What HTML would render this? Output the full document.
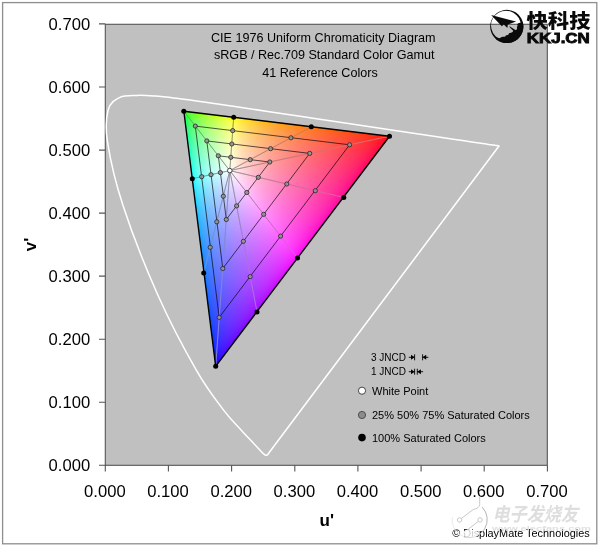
<!DOCTYPE html>
<html><head><meta charset="utf-8"><title>CIE 1976 Uniform Chromaticity Diagram</title>
<style>html,body{margin:0;padding:0;background:#fff}svg{display:block}text{font-family:"Liberation Sans","Noto Sans CJK SC",sans-serif;fill:#000}</style></head><body>
<svg width="600" height="547" viewBox="0 0 600 547">
<rect x="0" y="0" width="600" height="547" fill="#fff"/>
<rect x="2.6" y="2.6" width="594.2" height="541.2" fill="none" stroke="#8e8e8e" stroke-width="1.3"/>
<rect x="105.3" y="24.3" width="442" height="441" fill="#c0c0c0" stroke="#555" stroke-width="1.1"/>
<path d="M99,465.3H105.3M105.3,465.3V471.5M99,402.2H105.3M168.4,465.3V471.5M99,339.2H105.3M231.6,465.3V471.5M99,276.1H105.3M294.8,465.3V471.5M99,213.1H105.3M357.9,465.3V471.5M99,150.1H105.3M421.1,465.3V471.5M99,87.0H105.3M484.2,465.3V471.5M99,23.9H105.3M547.4,465.3V471.5" stroke="#555" stroke-width="1.1" fill="none"/>
<defs><clipPath id="tri"><polygon points="389.52,136.22 183.84,111.24 215.69,366.35"/></clipPath><linearGradient id="g0" gradientUnits="userSpaceOnUse" x1="182.3" y1="0" x2="185.4" y2="0"><stop offset="0.000" stop-color="#00ff00"/><stop offset="1.000" stop-color="#2dff00"/></linearGradient><linearGradient id="g1" gradientUnits="userSpaceOnUse" x1="182.4" y1="0" x2="187.4" y2="0"><stop offset="0.000" stop-color="#00ff0f"/><stop offset="1.000" stop-color="#43ff00"/></linearGradient><linearGradient id="g2" gradientUnits="userSpaceOnUse" x1="182.5" y1="0" x2="195.7" y2="0"><stop offset="0.000" stop-color="#00ff22"/><stop offset="0.333" stop-color="#3cff19"/><stop offset="0.667" stop-color="#60ff0d"/><stop offset="1.000" stop-color="#79ff00"/></linearGradient><linearGradient id="g3" gradientUnits="userSpaceOnUse" x1="182.6" y1="0" x2="203.9" y2="0"><stop offset="0.000" stop-color="#00ff2d"/><stop offset="0.250" stop-color="#46ff27"/><stop offset="0.500" stop-color="#6cff1e"/><stop offset="0.750" stop-color="#87ff11"/><stop offset="1.000" stop-color="#9dff00"/></linearGradient><linearGradient id="g4" gradientUnits="userSpaceOnUse" x1="182.7" y1="0" x2="212.2" y2="0"><stop offset="0.000" stop-color="#00ff37"/><stop offset="0.167" stop-color="#42ff32"/><stop offset="0.333" stop-color="#67ff2c"/><stop offset="0.500" stop-color="#81ff26"/><stop offset="0.667" stop-color="#97ff1d"/><stop offset="0.833" stop-color="#aaff10"/><stop offset="1.000" stop-color="#bbff00"/></linearGradient><linearGradient id="g5" gradientUnits="userSpaceOnUse" x1="182.9" y1="0" x2="220.4" y2="0"><stop offset="0.000" stop-color="#00ff3e"/><stop offset="0.125" stop-color="#40ff3b"/><stop offset="0.250" stop-color="#64ff37"/><stop offset="0.375" stop-color="#7eff32"/><stop offset="0.500" stop-color="#93ff2c"/><stop offset="0.625" stop-color="#a6ff26"/><stop offset="0.750" stop-color="#b7ff1d"/><stop offset="0.875" stop-color="#c7ff10"/><stop offset="1.000" stop-color="#d6ff00"/></linearGradient><linearGradient id="g6" gradientUnits="userSpaceOnUse" x1="183.0" y1="0" x2="228.6" y2="0"><stop offset="0.000" stop-color="#00ff45"/><stop offset="0.111" stop-color="#44ff42"/><stop offset="0.222" stop-color="#69ff3e"/><stop offset="0.333" stop-color="#84ff3a"/><stop offset="0.444" stop-color="#9aff35"/><stop offset="0.556" stop-color="#aeff2f"/><stop offset="0.667" stop-color="#c0ff28"/><stop offset="0.778" stop-color="#d0ff1f"/><stop offset="0.889" stop-color="#e0ff12"/><stop offset="1.000" stop-color="#f0ff00"/></linearGradient><linearGradient id="g7" gradientUnits="userSpaceOnUse" x1="183.1" y1="0" x2="236.9" y2="0"><stop offset="0.000" stop-color="#00ff4c"/><stop offset="0.091" stop-color="#42ff49"/><stop offset="0.182" stop-color="#67ff46"/><stop offset="0.273" stop-color="#82ff42"/><stop offset="0.364" stop-color="#97ff3f"/><stop offset="0.455" stop-color="#abff3a"/><stop offset="0.545" stop-color="#bcff35"/><stop offset="0.636" stop-color="#cdff30"/><stop offset="0.727" stop-color="#dcff29"/><stop offset="0.818" stop-color="#ebff20"/><stop offset="0.909" stop-color="#faff12"/><stop offset="1.000" stop-color="#fff600"/></linearGradient><linearGradient id="g8" gradientUnits="userSpaceOnUse" x1="183.2" y1="0" x2="245.1" y2="0"><stop offset="0.000" stop-color="#00ff51"/><stop offset="0.083" stop-color="#45ff4f"/><stop offset="0.167" stop-color="#6bff4c"/><stop offset="0.250" stop-color="#86ff49"/><stop offset="0.333" stop-color="#9cff45"/><stop offset="0.417" stop-color="#b0ff42"/><stop offset="0.500" stop-color="#c2ff3d"/><stop offset="0.583" stop-color="#d3ff38"/><stop offset="0.667" stop-color="#e3ff32"/><stop offset="0.750" stop-color="#f3ff2b"/><stop offset="0.833" stop-color="#fffc21"/><stop offset="0.917" stop-color="#ffee11"/><stop offset="1.000" stop-color="#ffe100"/></linearGradient><linearGradient id="g9" gradientUnits="userSpaceOnUse" x1="183.4" y1="0" x2="253.3" y2="0"><stop offset="0.000" stop-color="#00ff57"/><stop offset="0.071" stop-color="#43ff54"/><stop offset="0.143" stop-color="#69ff52"/><stop offset="0.214" stop-color="#84ff50"/><stop offset="0.286" stop-color="#9aff4d"/><stop offset="0.357" stop-color="#adff4a"/><stop offset="0.429" stop-color="#bfff46"/><stop offset="0.500" stop-color="#d0ff42"/><stop offset="0.571" stop-color="#e0ff3e"/><stop offset="0.643" stop-color="#efff39"/><stop offset="0.714" stop-color="#feff33"/><stop offset="0.786" stop-color="#fff229"/><stop offset="0.857" stop-color="#ffe51e"/><stop offset="0.929" stop-color="#ffda0f"/><stop offset="1.000" stop-color="#ffcf00"/></linearGradient><linearGradient id="g10" gradientUnits="userSpaceOnUse" x1="183.5" y1="0" x2="261.6" y2="0"><stop offset="0.000" stop-color="#00ff5c"/><stop offset="0.062" stop-color="#42ff5a"/><stop offset="0.125" stop-color="#68ff58"/><stop offset="0.187" stop-color="#82ff56"/><stop offset="0.250" stop-color="#98ff53"/><stop offset="0.313" stop-color="#acff51"/><stop offset="0.375" stop-color="#bdff4e"/><stop offset="0.438" stop-color="#ceff4b"/><stop offset="0.500" stop-color="#deff47"/><stop offset="0.562" stop-color="#edff43"/><stop offset="0.625" stop-color="#fcff3f"/><stop offset="0.688" stop-color="#fff437"/><stop offset="0.750" stop-color="#ffe82e"/><stop offset="0.812" stop-color="#ffdd25"/><stop offset="0.875" stop-color="#ffd21b"/><stop offset="0.937" stop-color="#ffc90d"/><stop offset="1.000" stop-color="#ffc000"/></linearGradient><linearGradient id="g11" gradientUnits="userSpaceOnUse" x1="183.6" y1="0" x2="269.8" y2="0"><stop offset="0.000" stop-color="#00ff60"/><stop offset="0.059" stop-color="#44ff5f"/><stop offset="0.118" stop-color="#6aff5d"/><stop offset="0.176" stop-color="#85ff5b"/><stop offset="0.235" stop-color="#9cff59"/><stop offset="0.294" stop-color="#afff56"/><stop offset="0.353" stop-color="#c2ff54"/><stop offset="0.412" stop-color="#d3ff51"/><stop offset="0.471" stop-color="#e3ff4e"/><stop offset="0.529" stop-color="#f3ff4a"/><stop offset="0.588" stop-color="#fffc45"/><stop offset="0.647" stop-color="#ffee3d"/><stop offset="0.706" stop-color="#ffe235"/><stop offset="0.765" stop-color="#ffd72c"/><stop offset="0.824" stop-color="#ffcc23"/><stop offset="0.882" stop-color="#ffc31a"/><stop offset="0.941" stop-color="#ffba0d"/><stop offset="1.000" stop-color="#ffb200"/></linearGradient><linearGradient id="g12" gradientUnits="userSpaceOnUse" x1="183.7" y1="0" x2="278.0" y2="0"><stop offset="0.000" stop-color="#00ff65"/><stop offset="0.053" stop-color="#43ff63"/><stop offset="0.105" stop-color="#69ff62"/><stop offset="0.158" stop-color="#84ff60"/><stop offset="0.211" stop-color="#9aff5e"/><stop offset="0.263" stop-color="#aeff5c"/><stop offset="0.316" stop-color="#c0ff5a"/><stop offset="0.368" stop-color="#d1ff58"/><stop offset="0.421" stop-color="#e1ff55"/><stop offset="0.474" stop-color="#f0ff52"/><stop offset="0.526" stop-color="#ffff4f"/><stop offset="0.579" stop-color="#fff147"/><stop offset="0.632" stop-color="#ffe43f"/><stop offset="0.684" stop-color="#ffd938"/><stop offset="0.737" stop-color="#ffcf30"/><stop offset="0.789" stop-color="#ffc529"/><stop offset="0.842" stop-color="#ffbd21"/><stop offset="0.895" stop-color="#ffb418"/><stop offset="0.947" stop-color="#ffad0b"/><stop offset="1.000" stop-color="#ffa600"/></linearGradient><linearGradient id="g13" gradientUnits="userSpaceOnUse" x1="183.9" y1="0" x2="286.3" y2="0"><stop offset="0.000" stop-color="#00ff69"/><stop offset="0.050" stop-color="#45ff68"/><stop offset="0.100" stop-color="#6bff66"/><stop offset="0.150" stop-color="#86ff65"/><stop offset="0.200" stop-color="#9dff63"/><stop offset="0.250" stop-color="#b1ff61"/><stop offset="0.300" stop-color="#c3ff5f"/><stop offset="0.350" stop-color="#d5ff5d"/><stop offset="0.400" stop-color="#e5ff5b"/><stop offset="0.450" stop-color="#f5ff58"/><stop offset="0.500" stop-color="#fffa53"/><stop offset="0.550" stop-color="#ffec4b"/><stop offset="0.600" stop-color="#ffdf44"/><stop offset="0.650" stop-color="#ffd43d"/><stop offset="0.700" stop-color="#ffca36"/><stop offset="0.750" stop-color="#ffc12f"/><stop offset="0.800" stop-color="#ffb827"/><stop offset="0.850" stop-color="#ffb020"/><stop offset="0.900" stop-color="#ffa817"/><stop offset="0.950" stop-color="#ffa10b"/><stop offset="1.000" stop-color="#ff9a00"/></linearGradient><linearGradient id="g14" gradientUnits="userSpaceOnUse" x1="184.0" y1="0" x2="294.5" y2="0"><stop offset="0.000" stop-color="#00ff6d"/><stop offset="0.045" stop-color="#44ff6c"/><stop offset="0.091" stop-color="#6aff6b"/><stop offset="0.136" stop-color="#85ff69"/><stop offset="0.182" stop-color="#9cff68"/><stop offset="0.227" stop-color="#b0ff66"/><stop offset="0.273" stop-color="#c2ff65"/><stop offset="0.318" stop-color="#d3ff63"/><stop offset="0.364" stop-color="#e3ff61"/><stop offset="0.409" stop-color="#f3ff5f"/><stop offset="0.455" stop-color="#fffc5b"/><stop offset="0.500" stop-color="#ffee53"/><stop offset="0.545" stop-color="#ffe14c"/><stop offset="0.591" stop-color="#ffd645"/><stop offset="0.636" stop-color="#ffcc3f"/><stop offset="0.682" stop-color="#ffc338"/><stop offset="0.727" stop-color="#ffba32"/><stop offset="0.773" stop-color="#ffb22b"/><stop offset="0.818" stop-color="#ffaa25"/><stop offset="0.864" stop-color="#ffa31d"/><stop offset="0.909" stop-color="#ff9c15"/><stop offset="0.955" stop-color="#ff950a"/><stop offset="1.000" stop-color="#ff8f00"/></linearGradient><linearGradient id="g15" gradientUnits="userSpaceOnUse" x1="184.1" y1="0" x2="302.7" y2="0"><stop offset="0.000" stop-color="#00ff71"/><stop offset="0.042" stop-color="#44ff70"/><stop offset="0.083" stop-color="#6aff6f"/><stop offset="0.125" stop-color="#84ff6e"/><stop offset="0.167" stop-color="#9bff6d"/><stop offset="0.208" stop-color="#afff6b"/><stop offset="0.250" stop-color="#c1ff6a"/><stop offset="0.292" stop-color="#d2ff68"/><stop offset="0.333" stop-color="#e2ff67"/><stop offset="0.375" stop-color="#f1ff65"/><stop offset="0.417" stop-color="#fffe62"/><stop offset="0.458" stop-color="#fff05a"/><stop offset="0.500" stop-color="#ffe353"/><stop offset="0.542" stop-color="#ffd84d"/><stop offset="0.583" stop-color="#ffce46"/><stop offset="0.625" stop-color="#ffc440"/><stop offset="0.667" stop-color="#ffbc3a"/><stop offset="0.708" stop-color="#ffb334"/><stop offset="0.750" stop-color="#ffac2f"/><stop offset="0.792" stop-color="#ffa429"/><stop offset="0.833" stop-color="#ff9e22"/><stop offset="0.875" stop-color="#ff971c"/><stop offset="0.917" stop-color="#ff9114"/><stop offset="0.958" stop-color="#ff8b09"/><stop offset="1.000" stop-color="#ff8500"/></linearGradient><linearGradient id="g16" gradientUnits="userSpaceOnUse" x1="184.2" y1="0" x2="311.0" y2="0"><stop offset="0.000" stop-color="#00ff75"/><stop offset="0.040" stop-color="#45ff74"/><stop offset="0.080" stop-color="#6bff73"/><stop offset="0.120" stop-color="#87ff72"/><stop offset="0.160" stop-color="#9dff71"/><stop offset="0.200" stop-color="#b1ff70"/><stop offset="0.240" stop-color="#c4ff6e"/><stop offset="0.280" stop-color="#d5ff6d"/><stop offset="0.320" stop-color="#e5ff6c"/><stop offset="0.360" stop-color="#f5ff6a"/><stop offset="0.400" stop-color="#fff966"/><stop offset="0.440" stop-color="#ffeb5e"/><stop offset="0.480" stop-color="#ffdf57"/><stop offset="0.520" stop-color="#ffd450"/><stop offset="0.560" stop-color="#ffca4a"/><stop offset="0.600" stop-color="#ffc044"/><stop offset="0.640" stop-color="#ffb83e"/><stop offset="0.680" stop-color="#ffaf38"/><stop offset="0.720" stop-color="#ffa833"/><stop offset="0.760" stop-color="#ffa12d"/><stop offset="0.800" stop-color="#ff9a28"/><stop offset="0.840" stop-color="#ff9321"/><stop offset="0.880" stop-color="#ff8d1b"/><stop offset="0.920" stop-color="#ff8713"/><stop offset="0.960" stop-color="#ff8109"/><stop offset="1.000" stop-color="#ff7b00"/></linearGradient><linearGradient id="g17" gradientUnits="userSpaceOnUse" x1="184.4" y1="0" x2="319.2" y2="0"><stop offset="0.000" stop-color="#00ff79"/><stop offset="0.037" stop-color="#44ff78"/><stop offset="0.074" stop-color="#6bff77"/><stop offset="0.111" stop-color="#86ff76"/><stop offset="0.148" stop-color="#9cff75"/><stop offset="0.185" stop-color="#b0ff74"/><stop offset="0.222" stop-color="#c3ff73"/><stop offset="0.259" stop-color="#d4ff72"/><stop offset="0.296" stop-color="#e4ff71"/><stop offset="0.333" stop-color="#f4ff6f"/><stop offset="0.370" stop-color="#fffb6c"/><stop offset="0.407" stop-color="#ffed64"/><stop offset="0.444" stop-color="#ffe15d"/><stop offset="0.481" stop-color="#ffd556"/><stop offset="0.519" stop-color="#ffcb50"/><stop offset="0.556" stop-color="#ffc24a"/><stop offset="0.593" stop-color="#ffb945"/><stop offset="0.630" stop-color="#ffb140"/><stop offset="0.667" stop-color="#ffa93a"/><stop offset="0.704" stop-color="#ffa235"/><stop offset="0.741" stop-color="#ff9b30"/><stop offset="0.778" stop-color="#ff942b"/><stop offset="0.815" stop-color="#ff8e25"/><stop offset="0.852" stop-color="#ff8820"/><stop offset="0.889" stop-color="#ff8219"/><stop offset="0.926" stop-color="#ff7c12"/><stop offset="0.963" stop-color="#ff7708"/><stop offset="1.000" stop-color="#ff7100"/></linearGradient><linearGradient id="g18" gradientUnits="userSpaceOnUse" x1="184.5" y1="0" x2="327.4" y2="0"><stop offset="0.000" stop-color="#00ff7c"/><stop offset="0.034" stop-color="#44ff7c"/><stop offset="0.069" stop-color="#6aff7b"/><stop offset="0.103" stop-color="#85ff7a"/><stop offset="0.138" stop-color="#9cff79"/><stop offset="0.172" stop-color="#afff78"/><stop offset="0.207" stop-color="#c2ff78"/><stop offset="0.241" stop-color="#d3ff77"/><stop offset="0.276" stop-color="#e3ff76"/><stop offset="0.310" stop-color="#f3ff74"/><stop offset="0.345" stop-color="#fffc72"/><stop offset="0.379" stop-color="#ffee6a"/><stop offset="0.414" stop-color="#ffe263"/><stop offset="0.448" stop-color="#ffd75c"/><stop offset="0.483" stop-color="#ffcc56"/><stop offset="0.517" stop-color="#ffc350"/><stop offset="0.552" stop-color="#ffba4b"/><stop offset="0.586" stop-color="#ffb246"/><stop offset="0.621" stop-color="#ffaa41"/><stop offset="0.655" stop-color="#ffa33c"/><stop offset="0.690" stop-color="#ff9c37"/><stop offset="0.724" stop-color="#ff9632"/><stop offset="0.759" stop-color="#ff8f2e"/><stop offset="0.793" stop-color="#ff8929"/><stop offset="0.828" stop-color="#ff8324"/><stop offset="0.862" stop-color="#ff7e1e"/><stop offset="0.897" stop-color="#ff7818"/><stop offset="0.931" stop-color="#ff7311"/><stop offset="0.966" stop-color="#ff6d07"/><stop offset="1.000" stop-color="#ff6800"/></linearGradient><linearGradient id="g19" gradientUnits="userSpaceOnUse" x1="184.6" y1="0" x2="335.7" y2="0"><stop offset="0.000" stop-color="#00ff80"/><stop offset="0.033" stop-color="#45ff7f"/><stop offset="0.067" stop-color="#6cff7f"/><stop offset="0.100" stop-color="#87ff7e"/><stop offset="0.133" stop-color="#9eff7d"/><stop offset="0.167" stop-color="#b2ff7c"/><stop offset="0.200" stop-color="#c4ff7c"/><stop offset="0.233" stop-color="#d6ff7b"/><stop offset="0.267" stop-color="#e6ff7a"/><stop offset="0.300" stop-color="#f6ff79"/><stop offset="0.333" stop-color="#fff875"/><stop offset="0.367" stop-color="#ffeb6d"/><stop offset="0.400" stop-color="#ffde66"/><stop offset="0.433" stop-color="#ffd35f"/><stop offset="0.467" stop-color="#ffc959"/><stop offset="0.500" stop-color="#ffc053"/><stop offset="0.533" stop-color="#ffb74e"/><stop offset="0.567" stop-color="#ffaf49"/><stop offset="0.600" stop-color="#ffa744"/><stop offset="0.633" stop-color="#ffa03f"/><stop offset="0.667" stop-color="#ff993a"/><stop offset="0.700" stop-color="#ff9236"/><stop offset="0.733" stop-color="#ff8c31"/><stop offset="0.767" stop-color="#ff862d"/><stop offset="0.800" stop-color="#ff8028"/><stop offset="0.833" stop-color="#ff7a23"/><stop offset="0.867" stop-color="#ff751d"/><stop offset="0.900" stop-color="#ff6f17"/><stop offset="0.933" stop-color="#ff6a10"/><stop offset="0.967" stop-color="#ff6407"/><stop offset="1.000" stop-color="#ff5f00"/></linearGradient><linearGradient id="g20" gradientUnits="userSpaceOnUse" x1="184.7" y1="0" x2="343.9" y2="0"><stop offset="0.000" stop-color="#00ff83"/><stop offset="0.031" stop-color="#45ff83"/><stop offset="0.062" stop-color="#6bff82"/><stop offset="0.094" stop-color="#86ff82"/><stop offset="0.125" stop-color="#9dff81"/><stop offset="0.156" stop-color="#b1ff80"/><stop offset="0.187" stop-color="#c3ff80"/><stop offset="0.219" stop-color="#d5ff7f"/><stop offset="0.250" stop-color="#e5ff7e"/><stop offset="0.281" stop-color="#f5ff7e"/><stop offset="0.312" stop-color="#fffa7a"/><stop offset="0.344" stop-color="#ffec72"/><stop offset="0.375" stop-color="#ffdf6b"/><stop offset="0.406" stop-color="#ffd464"/><stop offset="0.437" stop-color="#ffca5e"/><stop offset="0.469" stop-color="#ffc159"/><stop offset="0.500" stop-color="#ffb853"/><stop offset="0.531" stop-color="#ffb04e"/><stop offset="0.562" stop-color="#ffa849"/><stop offset="0.594" stop-color="#ffa145"/><stop offset="0.625" stop-color="#ff9a40"/><stop offset="0.656" stop-color="#ff933c"/><stop offset="0.687" stop-color="#ff8d38"/><stop offset="0.719" stop-color="#ff8733"/><stop offset="0.750" stop-color="#ff812f"/><stop offset="0.781" stop-color="#ff7b2a"/><stop offset="0.812" stop-color="#ff7626"/><stop offset="0.844" stop-color="#ff7021"/><stop offset="0.875" stop-color="#ff6b1c"/><stop offset="0.906" stop-color="#ff6516"/><stop offset="0.938" stop-color="#ff6010"/><stop offset="0.969" stop-color="#ff5b07"/><stop offset="1.000" stop-color="#ff5500"/></linearGradient><linearGradient id="g21" gradientUnits="userSpaceOnUse" x1="184.9" y1="0" x2="352.2" y2="0"><stop offset="0.000" stop-color="#00ff87"/><stop offset="0.030" stop-color="#46ff86"/><stop offset="0.061" stop-color="#6cff86"/><stop offset="0.091" stop-color="#88ff85"/><stop offset="0.121" stop-color="#9fff85"/><stop offset="0.152" stop-color="#b3ff84"/><stop offset="0.182" stop-color="#c6ff84"/><stop offset="0.212" stop-color="#d7ff83"/><stop offset="0.242" stop-color="#e8ff83"/><stop offset="0.273" stop-color="#f8ff82"/><stop offset="0.303" stop-color="#fff67d"/><stop offset="0.333" stop-color="#ffe875"/><stop offset="0.364" stop-color="#ffdc6d"/><stop offset="0.394" stop-color="#ffd167"/><stop offset="0.424" stop-color="#ffc761"/><stop offset="0.455" stop-color="#ffbd5b"/><stop offset="0.485" stop-color="#ffb556"/><stop offset="0.515" stop-color="#ffad51"/><stop offset="0.545" stop-color="#ffa54c"/><stop offset="0.576" stop-color="#ff9e47"/><stop offset="0.606" stop-color="#ff9743"/><stop offset="0.636" stop-color="#ff903f"/><stop offset="0.667" stop-color="#ff8a3a"/><stop offset="0.697" stop-color="#ff8436"/><stop offset="0.727" stop-color="#ff7e32"/><stop offset="0.758" stop-color="#ff782e"/><stop offset="0.788" stop-color="#ff722a"/><stop offset="0.818" stop-color="#ff6d25"/><stop offset="0.848" stop-color="#ff6720"/><stop offset="0.879" stop-color="#ff621b"/><stop offset="0.909" stop-color="#ff5c16"/><stop offset="0.939" stop-color="#ff570f"/><stop offset="0.970" stop-color="#ff5106"/><stop offset="1.000" stop-color="#ff4b00"/></linearGradient><linearGradient id="g22" gradientUnits="userSpaceOnUse" x1="185.0" y1="0" x2="360.4" y2="0"><stop offset="0.000" stop-color="#00ff8a"/><stop offset="0.029" stop-color="#45ff89"/><stop offset="0.057" stop-color="#6cff89"/><stop offset="0.086" stop-color="#87ff89"/><stop offset="0.114" stop-color="#9eff88"/><stop offset="0.143" stop-color="#b2ff88"/><stop offset="0.171" stop-color="#c5ff88"/><stop offset="0.200" stop-color="#d6ff87"/><stop offset="0.229" stop-color="#e7ff87"/><stop offset="0.257" stop-color="#f7ff86"/><stop offset="0.286" stop-color="#fff782"/><stop offset="0.314" stop-color="#ffea7a"/><stop offset="0.343" stop-color="#ffdd72"/><stop offset="0.371" stop-color="#ffd26c"/><stop offset="0.400" stop-color="#ffc866"/><stop offset="0.429" stop-color="#ffbe60"/><stop offset="0.457" stop-color="#ffb65b"/><stop offset="0.486" stop-color="#ffae56"/><stop offset="0.514" stop-color="#ffa651"/><stop offset="0.543" stop-color="#ff9f4c"/><stop offset="0.571" stop-color="#ff9848"/><stop offset="0.600" stop-color="#ff9144"/><stop offset="0.629" stop-color="#ff8b40"/><stop offset="0.657" stop-color="#ff853c"/><stop offset="0.686" stop-color="#ff7f38"/><stop offset="0.714" stop-color="#ff7934"/><stop offset="0.743" stop-color="#ff7330"/><stop offset="0.771" stop-color="#ff6e2c"/><stop offset="0.800" stop-color="#ff6828"/><stop offset="0.829" stop-color="#ff6324"/><stop offset="0.857" stop-color="#ff5d1f"/><stop offset="0.886" stop-color="#ff581a"/><stop offset="0.914" stop-color="#ff5215"/><stop offset="0.943" stop-color="#ff4d0e"/><stop offset="0.971" stop-color="#ff4706"/><stop offset="1.000" stop-color="#ff4100"/></linearGradient><linearGradient id="g23" gradientUnits="userSpaceOnUse" x1="185.1" y1="0" x2="368.6" y2="0"><stop offset="0.000" stop-color="#00ff8d"/><stop offset="0.027" stop-color="#45ff8d"/><stop offset="0.054" stop-color="#6bff8d"/><stop offset="0.081" stop-color="#87ff8c"/><stop offset="0.108" stop-color="#9eff8c"/><stop offset="0.135" stop-color="#b2ff8c"/><stop offset="0.162" stop-color="#c4ff8b"/><stop offset="0.189" stop-color="#d6ff8b"/><stop offset="0.216" stop-color="#e6ff8b"/><stop offset="0.243" stop-color="#f6ff8b"/><stop offset="0.270" stop-color="#fff886"/><stop offset="0.297" stop-color="#ffea7e"/><stop offset="0.324" stop-color="#ffde77"/><stop offset="0.351" stop-color="#ffd370"/><stop offset="0.378" stop-color="#ffc96a"/><stop offset="0.405" stop-color="#ffbf64"/><stop offset="0.432" stop-color="#ffb75f"/><stop offset="0.459" stop-color="#ffae5a"/><stop offset="0.486" stop-color="#ffa756"/><stop offset="0.514" stop-color="#ffa051"/><stop offset="0.541" stop-color="#ff994d"/><stop offset="0.568" stop-color="#ff9249"/><stop offset="0.595" stop-color="#ff8c45"/><stop offset="0.622" stop-color="#ff8641"/><stop offset="0.649" stop-color="#ff803d"/><stop offset="0.676" stop-color="#ff7a39"/><stop offset="0.703" stop-color="#ff7436"/><stop offset="0.730" stop-color="#ff6f32"/><stop offset="0.757" stop-color="#ff692e"/><stop offset="0.784" stop-color="#ff642a"/><stop offset="0.811" stop-color="#ff5e26"/><stop offset="0.838" stop-color="#ff5922"/><stop offset="0.865" stop-color="#ff541e"/><stop offset="0.892" stop-color="#ff4e19"/><stop offset="0.919" stop-color="#ff4814"/><stop offset="0.946" stop-color="#ff420e"/><stop offset="0.973" stop-color="#ff3c06"/><stop offset="1.000" stop-color="#ff3600"/></linearGradient><linearGradient id="g24" gradientUnits="userSpaceOnUse" x1="185.2" y1="0" x2="376.9" y2="0"><stop offset="0.000" stop-color="#00ff90"/><stop offset="0.026" stop-color="#46ff90"/><stop offset="0.053" stop-color="#6dff90"/><stop offset="0.079" stop-color="#88ff90"/><stop offset="0.105" stop-color="#9fff8f"/><stop offset="0.132" stop-color="#b4ff8f"/><stop offset="0.158" stop-color="#c7ff8f"/><stop offset="0.184" stop-color="#d8ff8f"/><stop offset="0.211" stop-color="#e9ff8f"/><stop offset="0.237" stop-color="#f9ff8f"/><stop offset="0.263" stop-color="#fff589"/><stop offset="0.289" stop-color="#ffe780"/><stop offset="0.316" stop-color="#ffdb79"/><stop offset="0.342" stop-color="#ffd072"/><stop offset="0.368" stop-color="#ffc66c"/><stop offset="0.395" stop-color="#ffbc67"/><stop offset="0.421" stop-color="#ffb461"/><stop offset="0.447" stop-color="#ffac5c"/><stop offset="0.474" stop-color="#ffa458"/><stop offset="0.500" stop-color="#ff9d53"/><stop offset="0.526" stop-color="#ff964f"/><stop offset="0.553" stop-color="#ff8f4b"/><stop offset="0.579" stop-color="#ff8947"/><stop offset="0.605" stop-color="#ff8343"/><stop offset="0.632" stop-color="#ff7d3f"/><stop offset="0.658" stop-color="#ff773c"/><stop offset="0.684" stop-color="#ff7138"/><stop offset="0.711" stop-color="#ff6c34"/><stop offset="0.737" stop-color="#ff6631"/><stop offset="0.763" stop-color="#ff612d"/><stop offset="0.789" stop-color="#ff5b29"/><stop offset="0.816" stop-color="#ff5526"/><stop offset="0.842" stop-color="#ff5022"/><stop offset="0.868" stop-color="#ff4a1d"/><stop offset="0.895" stop-color="#ff4419"/><stop offset="0.921" stop-color="#ff3e14"/><stop offset="0.947" stop-color="#ff370d"/><stop offset="0.974" stop-color="#ff3005"/><stop offset="1.000" stop-color="#ff2800"/></linearGradient><linearGradient id="g25" gradientUnits="userSpaceOnUse" x1="185.4" y1="0" x2="385.1" y2="0"><stop offset="0.000" stop-color="#00ff93"/><stop offset="0.025" stop-color="#46ff93"/><stop offset="0.050" stop-color="#6cff93"/><stop offset="0.075" stop-color="#88ff93"/><stop offset="0.100" stop-color="#9fff93"/><stop offset="0.125" stop-color="#b3ff93"/><stop offset="0.150" stop-color="#c6ff93"/><stop offset="0.175" stop-color="#d7ff93"/><stop offset="0.200" stop-color="#e8ff93"/><stop offset="0.225" stop-color="#f8ff93"/><stop offset="0.250" stop-color="#fff68d"/><stop offset="0.275" stop-color="#ffe885"/><stop offset="0.300" stop-color="#ffdc7d"/><stop offset="0.325" stop-color="#ffd177"/><stop offset="0.350" stop-color="#ffc770"/><stop offset="0.375" stop-color="#ffbd6b"/><stop offset="0.400" stop-color="#ffb566"/><stop offset="0.425" stop-color="#ffac61"/><stop offset="0.450" stop-color="#ffa55c"/><stop offset="0.475" stop-color="#ff9d57"/><stop offset="0.500" stop-color="#ff9753"/><stop offset="0.525" stop-color="#ff904f"/><stop offset="0.550" stop-color="#ff8a4b"/><stop offset="0.575" stop-color="#ff8348"/><stop offset="0.600" stop-color="#ff7e44"/><stop offset="0.625" stop-color="#ff7840"/><stop offset="0.650" stop-color="#ff723d"/><stop offset="0.675" stop-color="#ff6c39"/><stop offset="0.700" stop-color="#ff6736"/><stop offset="0.725" stop-color="#ff6132"/><stop offset="0.750" stop-color="#ff5c2f"/><stop offset="0.775" stop-color="#ff562c"/><stop offset="0.800" stop-color="#ff5128"/><stop offset="0.825" stop-color="#ff4b24"/><stop offset="0.850" stop-color="#ff4520"/><stop offset="0.875" stop-color="#ff3f1c"/><stop offset="0.900" stop-color="#ff3918"/><stop offset="0.925" stop-color="#ff3213"/><stop offset="0.950" stop-color="#ff2a0d"/><stop offset="0.975" stop-color="#ff2105"/><stop offset="1.000" stop-color="#ff1400"/></linearGradient><linearGradient id="g26" gradientUnits="userSpaceOnUse" x1="185.5" y1="0" x2="390.8" y2="0"><stop offset="0.000" stop-color="#00ff96"/><stop offset="0.024" stop-color="#46ff96"/><stop offset="0.049" stop-color="#6dff96"/><stop offset="0.073" stop-color="#89ff96"/><stop offset="0.098" stop-color="#a0ff96"/><stop offset="0.122" stop-color="#b4ff96"/><stop offset="0.146" stop-color="#c7ff96"/><stop offset="0.171" stop-color="#d8ff96"/><stop offset="0.195" stop-color="#e9ff96"/><stop offset="0.220" stop-color="#f9ff96"/><stop offset="0.244" stop-color="#fff590"/><stop offset="0.268" stop-color="#ffe788"/><stop offset="0.293" stop-color="#ffdb80"/><stop offset="0.317" stop-color="#ffd07a"/><stop offset="0.341" stop-color="#ffc673"/><stop offset="0.366" stop-color="#ffbc6e"/><stop offset="0.390" stop-color="#ffb469"/><stop offset="0.415" stop-color="#ffab64"/><stop offset="0.439" stop-color="#ffa45f"/><stop offset="0.463" stop-color="#ff9d5b"/><stop offset="0.488" stop-color="#ff9656"/><stop offset="0.512" stop-color="#ff8f52"/><stop offset="0.537" stop-color="#ff894e"/><stop offset="0.561" stop-color="#ff824b"/><stop offset="0.585" stop-color="#ff7d47"/><stop offset="0.610" stop-color="#ff7744"/><stop offset="0.634" stop-color="#ff7140"/><stop offset="0.659" stop-color="#ff6b3d"/><stop offset="0.683" stop-color="#ff6639"/><stop offset="0.707" stop-color="#ff6036"/><stop offset="0.732" stop-color="#ff5b33"/><stop offset="0.756" stop-color="#ff552f"/><stop offset="0.780" stop-color="#ff502c"/><stop offset="0.805" stop-color="#ff4a29"/><stop offset="0.829" stop-color="#ff4425"/><stop offset="0.854" stop-color="#ff3d21"/><stop offset="0.878" stop-color="#ff371e"/><stop offset="0.902" stop-color="#ff3019"/><stop offset="0.927" stop-color="#ff2715"/><stop offset="0.951" stop-color="#ff1e0f"/><stop offset="0.976" stop-color="#ff1009"/><stop offset="1.000" stop-color="#ff0001"/></linearGradient><linearGradient id="g27" gradientUnits="userSpaceOnUse" x1="185.6" y1="0" x2="390.1" y2="0"><stop offset="0.000" stop-color="#00ff99"/><stop offset="0.024" stop-color="#46ff99"/><stop offset="0.049" stop-color="#6dff99"/><stop offset="0.073" stop-color="#88ff99"/><stop offset="0.098" stop-color="#a0ff9a"/><stop offset="0.122" stop-color="#b4ff9a"/><stop offset="0.146" stop-color="#c7ff9a"/><stop offset="0.171" stop-color="#d8ff9a"/><stop offset="0.195" stop-color="#e9ff9a"/><stop offset="0.220" stop-color="#f9ff9a"/><stop offset="0.244" stop-color="#fff594"/><stop offset="0.268" stop-color="#ffe78c"/><stop offset="0.293" stop-color="#ffdb84"/><stop offset="0.317" stop-color="#ffd07d"/><stop offset="0.341" stop-color="#ffc677"/><stop offset="0.366" stop-color="#ffbc71"/><stop offset="0.390" stop-color="#ffb46c"/><stop offset="0.415" stop-color="#ffab67"/><stop offset="0.439" stop-color="#ffa462"/><stop offset="0.463" stop-color="#ff9d5e"/><stop offset="0.488" stop-color="#ff965a"/><stop offset="0.512" stop-color="#ff8f56"/><stop offset="0.537" stop-color="#ff8952"/><stop offset="0.561" stop-color="#ff824e"/><stop offset="0.585" stop-color="#ff7d4b"/><stop offset="0.610" stop-color="#ff7747"/><stop offset="0.634" stop-color="#ff7144"/><stop offset="0.659" stop-color="#ff6b41"/><stop offset="0.683" stop-color="#ff663d"/><stop offset="0.707" stop-color="#ff603a"/><stop offset="0.732" stop-color="#ff5b37"/><stop offset="0.756" stop-color="#ff5534"/><stop offset="0.780" stop-color="#ff4f31"/><stop offset="0.805" stop-color="#ff4a2d"/><stop offset="0.829" stop-color="#ff442a"/><stop offset="0.854" stop-color="#ff3d27"/><stop offset="0.878" stop-color="#ff3723"/><stop offset="0.902" stop-color="#ff3020"/><stop offset="0.927" stop-color="#ff271c"/><stop offset="0.951" stop-color="#ff1e18"/><stop offset="0.976" stop-color="#ff1013"/><stop offset="1.000" stop-color="#ff000e"/></linearGradient><linearGradient id="g28" gradientUnits="userSpaceOnUse" x1="185.7" y1="0" x2="389.3" y2="0"><stop offset="0.000" stop-color="#00ff9c"/><stop offset="0.024" stop-color="#46ff9c"/><stop offset="0.049" stop-color="#6dff9c"/><stop offset="0.073" stop-color="#88ff9d"/><stop offset="0.098" stop-color="#a0ff9d"/><stop offset="0.122" stop-color="#b4ff9d"/><stop offset="0.146" stop-color="#c7ff9d"/><stop offset="0.171" stop-color="#d8ff9d"/><stop offset="0.195" stop-color="#e9ff9e"/><stop offset="0.220" stop-color="#f9ff9e"/><stop offset="0.244" stop-color="#fff598"/><stop offset="0.268" stop-color="#ffe78f"/><stop offset="0.293" stop-color="#ffdb88"/><stop offset="0.317" stop-color="#ffd081"/><stop offset="0.341" stop-color="#ffc67a"/><stop offset="0.366" stop-color="#ffbc75"/><stop offset="0.390" stop-color="#ffb46f"/><stop offset="0.415" stop-color="#ffab6a"/><stop offset="0.439" stop-color="#ffa466"/><stop offset="0.463" stop-color="#ff9d61"/><stop offset="0.488" stop-color="#ff965d"/><stop offset="0.512" stop-color="#ff8f59"/><stop offset="0.537" stop-color="#ff8955"/><stop offset="0.561" stop-color="#ff8252"/><stop offset="0.585" stop-color="#ff7d4e"/><stop offset="0.610" stop-color="#ff774b"/><stop offset="0.634" stop-color="#ff7147"/><stop offset="0.659" stop-color="#ff6b44"/><stop offset="0.683" stop-color="#ff6641"/><stop offset="0.707" stop-color="#ff603e"/><stop offset="0.732" stop-color="#ff5b3b"/><stop offset="0.756" stop-color="#ff5538"/><stop offset="0.780" stop-color="#ff4f35"/><stop offset="0.805" stop-color="#ff4a32"/><stop offset="0.829" stop-color="#ff442f"/><stop offset="0.854" stop-color="#ff3d2c"/><stop offset="0.878" stop-color="#ff3728"/><stop offset="0.902" stop-color="#ff3025"/><stop offset="0.927" stop-color="#ff2722"/><stop offset="0.951" stop-color="#ff1e1e"/><stop offset="0.976" stop-color="#ff101a"/><stop offset="1.000" stop-color="#ff0016"/></linearGradient><linearGradient id="g29" gradientUnits="userSpaceOnUse" x1="185.9" y1="0" x2="388.5" y2="0"><stop offset="0.000" stop-color="#00ff9f"/><stop offset="0.024" stop-color="#46ff9f"/><stop offset="0.049" stop-color="#6dff9f"/><stop offset="0.073" stop-color="#88ffa0"/><stop offset="0.098" stop-color="#9fffa0"/><stop offset="0.122" stop-color="#b4ffa0"/><stop offset="0.146" stop-color="#c7ffa0"/><stop offset="0.171" stop-color="#d8ffa1"/><stop offset="0.195" stop-color="#e9ffa1"/><stop offset="0.220" stop-color="#f9ffa1"/><stop offset="0.244" stop-color="#fff59b"/><stop offset="0.268" stop-color="#ffe793"/><stop offset="0.293" stop-color="#ffdb8b"/><stop offset="0.317" stop-color="#ffd084"/><stop offset="0.341" stop-color="#ffc67e"/><stop offset="0.366" stop-color="#ffbc78"/><stop offset="0.390" stop-color="#ffb473"/><stop offset="0.415" stop-color="#ffab6e"/><stop offset="0.439" stop-color="#ffa469"/><stop offset="0.463" stop-color="#ff9d65"/><stop offset="0.488" stop-color="#ff9660"/><stop offset="0.512" stop-color="#ff8f5c"/><stop offset="0.537" stop-color="#ff8959"/><stop offset="0.561" stop-color="#ff8255"/><stop offset="0.585" stop-color="#ff7d51"/><stop offset="0.610" stop-color="#ff774e"/><stop offset="0.634" stop-color="#ff714b"/><stop offset="0.659" stop-color="#ff6b48"/><stop offset="0.683" stop-color="#ff6645"/><stop offset="0.707" stop-color="#ff6041"/><stop offset="0.732" stop-color="#ff5b3e"/><stop offset="0.756" stop-color="#ff553b"/><stop offset="0.780" stop-color="#ff4f39"/><stop offset="0.805" stop-color="#ff4a36"/><stop offset="0.829" stop-color="#ff4433"/><stop offset="0.854" stop-color="#ff3d30"/><stop offset="0.878" stop-color="#ff372d"/><stop offset="0.902" stop-color="#ff302a"/><stop offset="0.927" stop-color="#ff2727"/><stop offset="0.951" stop-color="#ff1e24"/><stop offset="0.976" stop-color="#ff1020"/><stop offset="1.000" stop-color="#ff001d"/></linearGradient><linearGradient id="g30" gradientUnits="userSpaceOnUse" x1="186.0" y1="0" x2="387.8" y2="0"><stop offset="0.000" stop-color="#00ffa2"/><stop offset="0.025" stop-color="#47ffa2"/><stop offset="0.050" stop-color="#6effa2"/><stop offset="0.075" stop-color="#8affa3"/><stop offset="0.100" stop-color="#a2ffa3"/><stop offset="0.125" stop-color="#b6ffa3"/><stop offset="0.150" stop-color="#c9ffa4"/><stop offset="0.175" stop-color="#dbffa4"/><stop offset="0.200" stop-color="#ecffa5"/><stop offset="0.225" stop-color="#fdffa5"/><stop offset="0.250" stop-color="#fff19d"/><stop offset="0.275" stop-color="#ffe494"/><stop offset="0.300" stop-color="#ffd88c"/><stop offset="0.325" stop-color="#ffcc85"/><stop offset="0.350" stop-color="#ffc27f"/><stop offset="0.375" stop-color="#ffb979"/><stop offset="0.400" stop-color="#ffb074"/><stop offset="0.425" stop-color="#ffa86f"/><stop offset="0.450" stop-color="#ffa06a"/><stop offset="0.475" stop-color="#ff9966"/><stop offset="0.500" stop-color="#ff9262"/><stop offset="0.525" stop-color="#ff8c5e"/><stop offset="0.550" stop-color="#ff855a"/><stop offset="0.575" stop-color="#ff7f56"/><stop offset="0.600" stop-color="#ff7953"/><stop offset="0.625" stop-color="#ff734f"/><stop offset="0.650" stop-color="#ff6d4c"/><stop offset="0.675" stop-color="#ff6849"/><stop offset="0.700" stop-color="#ff6246"/><stop offset="0.725" stop-color="#ff5c43"/><stop offset="0.750" stop-color="#ff5740"/><stop offset="0.775" stop-color="#ff513d"/><stop offset="0.800" stop-color="#ff4b3a"/><stop offset="0.825" stop-color="#ff4537"/><stop offset="0.850" stop-color="#ff3e34"/><stop offset="0.875" stop-color="#ff3831"/><stop offset="0.900" stop-color="#ff302e"/><stop offset="0.925" stop-color="#ff282b"/><stop offset="0.950" stop-color="#ff1e28"/><stop offset="0.975" stop-color="#ff1025"/><stop offset="1.000" stop-color="#ff0022"/></linearGradient><linearGradient id="g31" gradientUnits="userSpaceOnUse" x1="186.1" y1="0" x2="387.0" y2="0"><stop offset="0.000" stop-color="#00ffa4"/><stop offset="0.025" stop-color="#47ffa5"/><stop offset="0.050" stop-color="#6effa5"/><stop offset="0.075" stop-color="#8affa6"/><stop offset="0.100" stop-color="#a2ffa6"/><stop offset="0.125" stop-color="#b6ffa7"/><stop offset="0.150" stop-color="#c9ffa7"/><stop offset="0.175" stop-color="#dbffa8"/><stop offset="0.200" stop-color="#ecffa8"/><stop offset="0.225" stop-color="#fdffa9"/><stop offset="0.250" stop-color="#fff1a0"/><stop offset="0.275" stop-color="#ffe497"/><stop offset="0.300" stop-color="#ffd88f"/><stop offset="0.325" stop-color="#ffcc88"/><stop offset="0.350" stop-color="#ffc282"/><stop offset="0.375" stop-color="#ffb97c"/><stop offset="0.400" stop-color="#ffb077"/><stop offset="0.425" stop-color="#ffa872"/><stop offset="0.450" stop-color="#ffa06d"/><stop offset="0.475" stop-color="#ff9969"/><stop offset="0.500" stop-color="#ff9265"/><stop offset="0.525" stop-color="#ff8c61"/><stop offset="0.550" stop-color="#ff855d"/><stop offset="0.575" stop-color="#ff7f59"/><stop offset="0.600" stop-color="#ff7956"/><stop offset="0.625" stop-color="#ff7352"/><stop offset="0.650" stop-color="#ff6d4f"/><stop offset="0.675" stop-color="#ff684c"/><stop offset="0.700" stop-color="#ff6249"/><stop offset="0.725" stop-color="#ff5c46"/><stop offset="0.750" stop-color="#ff5743"/><stop offset="0.775" stop-color="#ff5140"/><stop offset="0.800" stop-color="#ff4b3d"/><stop offset="0.825" stop-color="#ff453b"/><stop offset="0.850" stop-color="#ff3e38"/><stop offset="0.875" stop-color="#ff3835"/><stop offset="0.900" stop-color="#ff3032"/><stop offset="0.925" stop-color="#ff282f"/><stop offset="0.950" stop-color="#ff1e2d"/><stop offset="0.975" stop-color="#ff102a"/><stop offset="1.000" stop-color="#ff0027"/></linearGradient><linearGradient id="g32" gradientUnits="userSpaceOnUse" x1="186.2" y1="0" x2="386.3" y2="0"><stop offset="0.000" stop-color="#00ffa7"/><stop offset="0.025" stop-color="#47ffa8"/><stop offset="0.050" stop-color="#6effa8"/><stop offset="0.075" stop-color="#8affa9"/><stop offset="0.100" stop-color="#a2ffa9"/><stop offset="0.125" stop-color="#b6ffaa"/><stop offset="0.150" stop-color="#c9ffaa"/><stop offset="0.175" stop-color="#dbffab"/><stop offset="0.200" stop-color="#ecffab"/><stop offset="0.225" stop-color="#fdffac"/><stop offset="0.250" stop-color="#fff1a3"/><stop offset="0.275" stop-color="#ffe49b"/><stop offset="0.300" stop-color="#ffd893"/><stop offset="0.325" stop-color="#ffcc8c"/><stop offset="0.350" stop-color="#ffc285"/><stop offset="0.375" stop-color="#ffb97f"/><stop offset="0.400" stop-color="#ffb07a"/><stop offset="0.425" stop-color="#ffa875"/><stop offset="0.450" stop-color="#ffa070"/><stop offset="0.475" stop-color="#ff996c"/><stop offset="0.500" stop-color="#ff9268"/><stop offset="0.525" stop-color="#ff8c64"/><stop offset="0.550" stop-color="#ff8560"/><stop offset="0.575" stop-color="#ff7f5c"/><stop offset="0.600" stop-color="#ff7959"/><stop offset="0.625" stop-color="#ff7355"/><stop offset="0.650" stop-color="#ff6d52"/><stop offset="0.675" stop-color="#ff684f"/><stop offset="0.700" stop-color="#ff624c"/><stop offset="0.725" stop-color="#ff5c49"/><stop offset="0.750" stop-color="#ff5746"/><stop offset="0.775" stop-color="#ff5143"/><stop offset="0.800" stop-color="#ff4b41"/><stop offset="0.825" stop-color="#ff453e"/><stop offset="0.850" stop-color="#ff3e3b"/><stop offset="0.875" stop-color="#ff3838"/><stop offset="0.900" stop-color="#ff3036"/><stop offset="0.925" stop-color="#ff2833"/><stop offset="0.950" stop-color="#ff1e30"/><stop offset="0.975" stop-color="#ff102e"/><stop offset="1.000" stop-color="#ff002b"/></linearGradient><linearGradient id="g33" gradientUnits="userSpaceOnUse" x1="186.4" y1="0" x2="385.5" y2="0"><stop offset="0.000" stop-color="#00ffaa"/><stop offset="0.025" stop-color="#47ffaa"/><stop offset="0.050" stop-color="#6effab"/><stop offset="0.075" stop-color="#8affac"/><stop offset="0.100" stop-color="#a2ffac"/><stop offset="0.125" stop-color="#b6ffad"/><stop offset="0.150" stop-color="#c9ffad"/><stop offset="0.175" stop-color="#dbffae"/><stop offset="0.200" stop-color="#ecffaf"/><stop offset="0.225" stop-color="#fdffaf"/><stop offset="0.250" stop-color="#fff1a7"/><stop offset="0.275" stop-color="#ffe49e"/><stop offset="0.300" stop-color="#ffd896"/><stop offset="0.325" stop-color="#ffcc8f"/><stop offset="0.350" stop-color="#ffc288"/><stop offset="0.375" stop-color="#ffb982"/><stop offset="0.400" stop-color="#ffb07d"/><stop offset="0.425" stop-color="#ffa878"/><stop offset="0.450" stop-color="#ffa073"/><stop offset="0.475" stop-color="#ff996f"/><stop offset="0.500" stop-color="#ff926a"/><stop offset="0.525" stop-color="#ff8c66"/><stop offset="0.550" stop-color="#ff8563"/><stop offset="0.575" stop-color="#ff7f5f"/><stop offset="0.600" stop-color="#ff795c"/><stop offset="0.625" stop-color="#ff7358"/><stop offset="0.650" stop-color="#ff6d55"/><stop offset="0.675" stop-color="#ff6852"/><stop offset="0.700" stop-color="#ff624f"/><stop offset="0.725" stop-color="#ff5c4c"/><stop offset="0.750" stop-color="#ff5749"/><stop offset="0.775" stop-color="#ff5146"/><stop offset="0.800" stop-color="#ff4b44"/><stop offset="0.825" stop-color="#ff4541"/><stop offset="0.850" stop-color="#ff3e3e"/><stop offset="0.875" stop-color="#ff383c"/><stop offset="0.900" stop-color="#ff3039"/><stop offset="0.925" stop-color="#ff2837"/><stop offset="0.950" stop-color="#ff1e34"/><stop offset="0.975" stop-color="#ff1031"/><stop offset="1.000" stop-color="#ff002f"/></linearGradient><linearGradient id="g34" gradientUnits="userSpaceOnUse" x1="186.5" y1="0" x2="384.8" y2="0"><stop offset="0.000" stop-color="#00ffad"/><stop offset="0.025" stop-color="#47ffad"/><stop offset="0.050" stop-color="#6effae"/><stop offset="0.075" stop-color="#8affae"/><stop offset="0.100" stop-color="#a2ffaf"/><stop offset="0.125" stop-color="#b6ffb0"/><stop offset="0.150" stop-color="#c9ffb0"/><stop offset="0.175" stop-color="#dbffb1"/><stop offset="0.200" stop-color="#ecffb2"/><stop offset="0.225" stop-color="#fdffb3"/><stop offset="0.250" stop-color="#fff2aa"/><stop offset="0.275" stop-color="#ffe4a1"/><stop offset="0.300" stop-color="#ffd899"/><stop offset="0.325" stop-color="#ffcc92"/><stop offset="0.350" stop-color="#ffc28b"/><stop offset="0.375" stop-color="#ffb985"/><stop offset="0.400" stop-color="#ffb080"/><stop offset="0.425" stop-color="#ffa87b"/><stop offset="0.450" stop-color="#ffa076"/><stop offset="0.475" stop-color="#ff9971"/><stop offset="0.500" stop-color="#ff926d"/><stop offset="0.525" stop-color="#ff8c69"/><stop offset="0.550" stop-color="#ff8565"/><stop offset="0.575" stop-color="#ff7f62"/><stop offset="0.600" stop-color="#ff795e"/><stop offset="0.625" stop-color="#ff735b"/><stop offset="0.650" stop-color="#ff6d58"/><stop offset="0.675" stop-color="#ff6855"/><stop offset="0.700" stop-color="#ff6252"/><stop offset="0.725" stop-color="#ff5c4f"/><stop offset="0.750" stop-color="#ff574c"/><stop offset="0.775" stop-color="#ff5149"/><stop offset="0.800" stop-color="#ff4b47"/><stop offset="0.825" stop-color="#ff4544"/><stop offset="0.850" stop-color="#ff3e41"/><stop offset="0.875" stop-color="#ff383f"/><stop offset="0.900" stop-color="#ff303c"/><stop offset="0.925" stop-color="#ff283a"/><stop offset="0.950" stop-color="#ff1e37"/><stop offset="0.975" stop-color="#ff1035"/><stop offset="1.000" stop-color="#ff0032"/></linearGradient><linearGradient id="g35" gradientUnits="userSpaceOnUse" x1="186.6" y1="0" x2="384.0" y2="0"><stop offset="0.000" stop-color="#00ffaf"/><stop offset="0.026" stop-color="#48ffb0"/><stop offset="0.051" stop-color="#70ffb1"/><stop offset="0.077" stop-color="#8cffb1"/><stop offset="0.103" stop-color="#a4ffb2"/><stop offset="0.128" stop-color="#b9ffb3"/><stop offset="0.154" stop-color="#ccffb4"/><stop offset="0.179" stop-color="#deffb4"/><stop offset="0.205" stop-color="#f0ffb5"/><stop offset="0.231" stop-color="#fffdb5"/><stop offset="0.256" stop-color="#ffeeab"/><stop offset="0.282" stop-color="#ffe0a2"/><stop offset="0.308" stop-color="#ffd49a"/><stop offset="0.333" stop-color="#ffc992"/><stop offset="0.359" stop-color="#ffbf8c"/><stop offset="0.385" stop-color="#ffb686"/><stop offset="0.410" stop-color="#ffad80"/><stop offset="0.436" stop-color="#ffa57b"/><stop offset="0.462" stop-color="#ff9d77"/><stop offset="0.487" stop-color="#ff9672"/><stop offset="0.513" stop-color="#ff8f6e"/><stop offset="0.538" stop-color="#ff886a"/><stop offset="0.564" stop-color="#ff8266"/><stop offset="0.590" stop-color="#ff7b63"/><stop offset="0.615" stop-color="#ff755f"/><stop offset="0.641" stop-color="#ff6f5c"/><stop offset="0.667" stop-color="#ff6959"/><stop offset="0.692" stop-color="#ff6456"/><stop offset="0.718" stop-color="#ff5e53"/><stop offset="0.744" stop-color="#ff5850"/><stop offset="0.769" stop-color="#ff524d"/><stop offset="0.795" stop-color="#ff4c4a"/><stop offset="0.821" stop-color="#ff4647"/><stop offset="0.846" stop-color="#ff3f45"/><stop offset="0.872" stop-color="#ff3942"/><stop offset="0.897" stop-color="#ff3140"/><stop offset="0.923" stop-color="#ff293d"/><stop offset="0.949" stop-color="#ff1f3b"/><stop offset="0.974" stop-color="#ff1038"/><stop offset="1.000" stop-color="#ff0036"/></linearGradient><linearGradient id="g36" gradientUnits="userSpaceOnUse" x1="186.7" y1="0" x2="383.3" y2="0"><stop offset="0.000" stop-color="#00ffb2"/><stop offset="0.026" stop-color="#48ffb3"/><stop offset="0.051" stop-color="#70ffb3"/><stop offset="0.077" stop-color="#8cffb4"/><stop offset="0.103" stop-color="#a4ffb5"/><stop offset="0.128" stop-color="#b9ffb6"/><stop offset="0.154" stop-color="#ccffb7"/><stop offset="0.179" stop-color="#deffb8"/><stop offset="0.205" stop-color="#f0ffb8"/><stop offset="0.231" stop-color="#fffdb8"/><stop offset="0.256" stop-color="#ffeeae"/><stop offset="0.282" stop-color="#ffe0a5"/><stop offset="0.308" stop-color="#ffd49d"/><stop offset="0.333" stop-color="#ffc995"/><stop offset="0.359" stop-color="#ffbf8f"/><stop offset="0.385" stop-color="#ffb689"/><stop offset="0.410" stop-color="#ffad83"/><stop offset="0.436" stop-color="#ffa57e"/><stop offset="0.462" stop-color="#ff9d79"/><stop offset="0.487" stop-color="#ff9675"/><stop offset="0.513" stop-color="#ff8f71"/><stop offset="0.538" stop-color="#ff886d"/><stop offset="0.564" stop-color="#ff8269"/><stop offset="0.590" stop-color="#ff7b65"/><stop offset="0.615" stop-color="#ff7562"/><stop offset="0.641" stop-color="#ff6f5e"/><stop offset="0.667" stop-color="#ff695b"/><stop offset="0.692" stop-color="#ff6458"/><stop offset="0.718" stop-color="#ff5e55"/><stop offset="0.744" stop-color="#ff5852"/><stop offset="0.769" stop-color="#ff5250"/><stop offset="0.795" stop-color="#ff4c4d"/><stop offset="0.821" stop-color="#ff464a"/><stop offset="0.846" stop-color="#ff3f48"/><stop offset="0.872" stop-color="#ff3945"/><stop offset="0.897" stop-color="#ff3143"/><stop offset="0.923" stop-color="#ff2940"/><stop offset="0.949" stop-color="#ff1f3e"/><stop offset="0.974" stop-color="#ff103b"/><stop offset="1.000" stop-color="#ff0039"/></linearGradient><linearGradient id="g37" gradientUnits="userSpaceOnUse" x1="186.9" y1="0" x2="382.5" y2="0"><stop offset="0.000" stop-color="#00ffb5"/><stop offset="0.026" stop-color="#48ffb5"/><stop offset="0.051" stop-color="#70ffb6"/><stop offset="0.077" stop-color="#8cffb7"/><stop offset="0.103" stop-color="#a4ffb8"/><stop offset="0.128" stop-color="#b9ffb9"/><stop offset="0.154" stop-color="#ccffba"/><stop offset="0.179" stop-color="#deffbb"/><stop offset="0.205" stop-color="#f0ffbc"/><stop offset="0.231" stop-color="#fffdbb"/><stop offset="0.256" stop-color="#ffeeb1"/><stop offset="0.282" stop-color="#ffe0a8"/><stop offset="0.308" stop-color="#ffd4a0"/><stop offset="0.333" stop-color="#ffc998"/><stop offset="0.359" stop-color="#ffbf92"/><stop offset="0.385" stop-color="#ffb68c"/><stop offset="0.410" stop-color="#ffad86"/><stop offset="0.436" stop-color="#ffa581"/><stop offset="0.462" stop-color="#ff9d7c"/><stop offset="0.487" stop-color="#ff9677"/><stop offset="0.513" stop-color="#ff8f73"/><stop offset="0.538" stop-color="#ff886f"/><stop offset="0.564" stop-color="#ff826b"/><stop offset="0.590" stop-color="#ff7b68"/><stop offset="0.615" stop-color="#ff7564"/><stop offset="0.641" stop-color="#ff6f61"/><stop offset="0.667" stop-color="#ff695e"/><stop offset="0.692" stop-color="#ff645b"/><stop offset="0.718" stop-color="#ff5e58"/><stop offset="0.744" stop-color="#ff5855"/><stop offset="0.769" stop-color="#ff5252"/><stop offset="0.795" stop-color="#ff4c50"/><stop offset="0.821" stop-color="#ff464d"/><stop offset="0.846" stop-color="#ff3f4a"/><stop offset="0.872" stop-color="#ff3948"/><stop offset="0.897" stop-color="#ff3145"/><stop offset="0.923" stop-color="#ff2943"/><stop offset="0.949" stop-color="#ff1f40"/><stop offset="0.974" stop-color="#ff103e"/><stop offset="1.000" stop-color="#ff003c"/></linearGradient><linearGradient id="g38" gradientUnits="userSpaceOnUse" x1="187.0" y1="0" x2="381.7" y2="0"><stop offset="0.000" stop-color="#00ffb7"/><stop offset="0.026" stop-color="#48ffb8"/><stop offset="0.051" stop-color="#6fffb9"/><stop offset="0.077" stop-color="#8cffba"/><stop offset="0.103" stop-color="#a4ffbb"/><stop offset="0.128" stop-color="#b9ffbc"/><stop offset="0.154" stop-color="#ccffbd"/><stop offset="0.179" stop-color="#deffbe"/><stop offset="0.205" stop-color="#f0ffbf"/><stop offset="0.231" stop-color="#fffdbf"/><stop offset="0.256" stop-color="#ffeeb4"/><stop offset="0.282" stop-color="#ffe0ab"/><stop offset="0.308" stop-color="#ffd4a2"/><stop offset="0.333" stop-color="#ffc99b"/><stop offset="0.359" stop-color="#ffbf94"/><stop offset="0.385" stop-color="#ffb68e"/><stop offset="0.410" stop-color="#ffad89"/><stop offset="0.436" stop-color="#ffa583"/><stop offset="0.462" stop-color="#ff9d7f"/><stop offset="0.487" stop-color="#ff967a"/><stop offset="0.513" stop-color="#ff8f76"/><stop offset="0.538" stop-color="#ff8872"/><stop offset="0.564" stop-color="#ff826e"/><stop offset="0.590" stop-color="#ff7b6a"/><stop offset="0.615" stop-color="#ff7567"/><stop offset="0.641" stop-color="#ff6f64"/><stop offset="0.667" stop-color="#ff6960"/><stop offset="0.692" stop-color="#ff645d"/><stop offset="0.718" stop-color="#ff5e5a"/><stop offset="0.744" stop-color="#ff5858"/><stop offset="0.769" stop-color="#ff5255"/><stop offset="0.795" stop-color="#ff4c52"/><stop offset="0.821" stop-color="#ff464f"/><stop offset="0.846" stop-color="#ff3f4d"/><stop offset="0.872" stop-color="#ff394a"/><stop offset="0.897" stop-color="#ff3148"/><stop offset="0.923" stop-color="#ff2946"/><stop offset="0.949" stop-color="#ff1f43"/><stop offset="0.974" stop-color="#ff1041"/><stop offset="1.000" stop-color="#ff003f"/></linearGradient><linearGradient id="g39" gradientUnits="userSpaceOnUse" x1="187.1" y1="0" x2="381.0" y2="0"><stop offset="0.000" stop-color="#00ffba"/><stop offset="0.026" stop-color="#48ffbb"/><stop offset="0.051" stop-color="#6fffbb"/><stop offset="0.077" stop-color="#8cffbc"/><stop offset="0.103" stop-color="#a4ffbd"/><stop offset="0.128" stop-color="#b9ffbe"/><stop offset="0.154" stop-color="#ccffbf"/><stop offset="0.179" stop-color="#deffc1"/><stop offset="0.205" stop-color="#f0ffc2"/><stop offset="0.231" stop-color="#fffdc2"/><stop offset="0.256" stop-color="#ffeeb7"/><stop offset="0.282" stop-color="#ffe0ae"/><stop offset="0.308" stop-color="#ffd4a5"/><stop offset="0.333" stop-color="#ffc99e"/><stop offset="0.359" stop-color="#ffbf97"/><stop offset="0.385" stop-color="#ffb691"/><stop offset="0.410" stop-color="#ffad8b"/><stop offset="0.436" stop-color="#ffa586"/><stop offset="0.462" stop-color="#ff9d81"/><stop offset="0.487" stop-color="#ff967d"/><stop offset="0.513" stop-color="#ff8f78"/><stop offset="0.538" stop-color="#ff8874"/><stop offset="0.564" stop-color="#ff8270"/><stop offset="0.590" stop-color="#ff7b6d"/><stop offset="0.615" stop-color="#ff7569"/><stop offset="0.641" stop-color="#ff6f66"/><stop offset="0.667" stop-color="#ff6963"/><stop offset="0.692" stop-color="#ff6460"/><stop offset="0.718" stop-color="#ff5e5d"/><stop offset="0.744" stop-color="#ff585a"/><stop offset="0.769" stop-color="#ff5257"/><stop offset="0.795" stop-color="#ff4c55"/><stop offset="0.821" stop-color="#ff4652"/><stop offset="0.846" stop-color="#ff3f4f"/><stop offset="0.872" stop-color="#ff394d"/><stop offset="0.897" stop-color="#ff314b"/><stop offset="0.923" stop-color="#ff2948"/><stop offset="0.949" stop-color="#ff1f46"/><stop offset="0.974" stop-color="#ff1044"/><stop offset="1.000" stop-color="#ff0041"/></linearGradient><linearGradient id="g40" gradientUnits="userSpaceOnUse" x1="187.2" y1="0" x2="380.2" y2="0"><stop offset="0.000" stop-color="#00ffbc"/><stop offset="0.026" stop-color="#48ffbd"/><stop offset="0.051" stop-color="#6fffbe"/><stop offset="0.077" stop-color="#8cffbf"/><stop offset="0.103" stop-color="#a4ffc0"/><stop offset="0.128" stop-color="#b9ffc1"/><stop offset="0.154" stop-color="#ccffc2"/><stop offset="0.179" stop-color="#deffc4"/><stop offset="0.205" stop-color="#f0ffc5"/><stop offset="0.231" stop-color="#fffdc5"/><stop offset="0.256" stop-color="#ffeeba"/><stop offset="0.282" stop-color="#ffe0b0"/><stop offset="0.308" stop-color="#ffd4a8"/><stop offset="0.333" stop-color="#ffc9a1"/><stop offset="0.359" stop-color="#ffbf9a"/><stop offset="0.385" stop-color="#ffb694"/><stop offset="0.410" stop-color="#ffad8e"/><stop offset="0.436" stop-color="#ffa589"/><stop offset="0.462" stop-color="#ff9d84"/><stop offset="0.487" stop-color="#ff967f"/><stop offset="0.513" stop-color="#ff8f7b"/><stop offset="0.538" stop-color="#ff8877"/><stop offset="0.564" stop-color="#ff8273"/><stop offset="0.590" stop-color="#ff7b6f"/><stop offset="0.615" stop-color="#ff756c"/><stop offset="0.641" stop-color="#ff6f68"/><stop offset="0.667" stop-color="#ff6965"/><stop offset="0.692" stop-color="#ff6462"/><stop offset="0.718" stop-color="#ff5e5f"/><stop offset="0.744" stop-color="#ff585c"/><stop offset="0.769" stop-color="#ff525a"/><stop offset="0.795" stop-color="#ff4c57"/><stop offset="0.821" stop-color="#ff4654"/><stop offset="0.846" stop-color="#ff3f52"/><stop offset="0.872" stop-color="#ff3850"/><stop offset="0.897" stop-color="#ff314d"/><stop offset="0.923" stop-color="#ff294b"/><stop offset="0.949" stop-color="#ff1f48"/><stop offset="0.974" stop-color="#ff1046"/><stop offset="1.000" stop-color="#ff0044"/></linearGradient><linearGradient id="g41" gradientUnits="userSpaceOnUse" x1="187.4" y1="0" x2="379.5" y2="0"><stop offset="0.000" stop-color="#00ffbf"/><stop offset="0.026" stop-color="#49ffc0"/><stop offset="0.053" stop-color="#71ffc1"/><stop offset="0.079" stop-color="#8effc2"/><stop offset="0.105" stop-color="#a6ffc3"/><stop offset="0.132" stop-color="#bbffc4"/><stop offset="0.158" stop-color="#cfffc5"/><stop offset="0.184" stop-color="#e1ffc7"/><stop offset="0.211" stop-color="#f3ffc8"/><stop offset="0.237" stop-color="#fffac5"/><stop offset="0.263" stop-color="#ffeaba"/><stop offset="0.289" stop-color="#ffddb1"/><stop offset="0.316" stop-color="#ffd0a8"/><stop offset="0.342" stop-color="#ffc5a1"/><stop offset="0.368" stop-color="#ffbb9a"/><stop offset="0.395" stop-color="#ffb294"/><stop offset="0.421" stop-color="#ffa98e"/><stop offset="0.447" stop-color="#ffa189"/><stop offset="0.474" stop-color="#ff9a84"/><stop offset="0.500" stop-color="#ff927f"/><stop offset="0.526" stop-color="#ff8b7b"/><stop offset="0.553" stop-color="#ff8577"/><stop offset="0.579" stop-color="#ff7e73"/><stop offset="0.605" stop-color="#ff7870"/><stop offset="0.632" stop-color="#ff726c"/><stop offset="0.658" stop-color="#ff6b69"/><stop offset="0.684" stop-color="#ff6566"/><stop offset="0.711" stop-color="#ff5f63"/><stop offset="0.737" stop-color="#ff5a60"/><stop offset="0.763" stop-color="#ff535d"/><stop offset="0.789" stop-color="#ff4d5a"/><stop offset="0.816" stop-color="#ff4757"/><stop offset="0.842" stop-color="#ff4055"/><stop offset="0.868" stop-color="#ff3952"/><stop offset="0.895" stop-color="#ff3250"/><stop offset="0.921" stop-color="#ff294d"/><stop offset="0.947" stop-color="#ff1f4b"/><stop offset="0.974" stop-color="#ff1149"/><stop offset="1.000" stop-color="#ff0046"/></linearGradient><linearGradient id="g42" gradientUnits="userSpaceOnUse" x1="187.5" y1="0" x2="378.7" y2="0"><stop offset="0.000" stop-color="#00ffc1"/><stop offset="0.026" stop-color="#49ffc2"/><stop offset="0.053" stop-color="#71ffc3"/><stop offset="0.079" stop-color="#8effc4"/><stop offset="0.105" stop-color="#a6ffc6"/><stop offset="0.132" stop-color="#bbffc7"/><stop offset="0.158" stop-color="#cfffc8"/><stop offset="0.184" stop-color="#e1ffca"/><stop offset="0.211" stop-color="#f3ffcb"/><stop offset="0.237" stop-color="#fffac8"/><stop offset="0.263" stop-color="#ffeabd"/><stop offset="0.289" stop-color="#ffddb4"/><stop offset="0.316" stop-color="#ffd0ab"/><stop offset="0.342" stop-color="#ffc5a4"/><stop offset="0.368" stop-color="#ffbb9d"/><stop offset="0.395" stop-color="#ffb296"/><stop offset="0.421" stop-color="#ffa991"/><stop offset="0.447" stop-color="#ffa18b"/><stop offset="0.474" stop-color="#ff9a86"/><stop offset="0.500" stop-color="#ff9282"/><stop offset="0.526" stop-color="#ff8b7e"/><stop offset="0.553" stop-color="#ff8579"/><stop offset="0.579" stop-color="#ff7e76"/><stop offset="0.605" stop-color="#ff7872"/><stop offset="0.632" stop-color="#ff726e"/><stop offset="0.658" stop-color="#ff6b6b"/><stop offset="0.684" stop-color="#ff6568"/><stop offset="0.711" stop-color="#ff5f65"/><stop offset="0.737" stop-color="#ff5a62"/><stop offset="0.763" stop-color="#ff535f"/><stop offset="0.789" stop-color="#ff4d5c"/><stop offset="0.816" stop-color="#ff475a"/><stop offset="0.842" stop-color="#ff4057"/><stop offset="0.868" stop-color="#ff3955"/><stop offset="0.895" stop-color="#ff3252"/><stop offset="0.921" stop-color="#ff2950"/><stop offset="0.947" stop-color="#ff1f4d"/><stop offset="0.974" stop-color="#ff114b"/><stop offset="1.000" stop-color="#ff0049"/></linearGradient><linearGradient id="g43" gradientUnits="userSpaceOnUse" x1="187.6" y1="0" x2="378.0" y2="0"><stop offset="0.000" stop-color="#00ffc4"/><stop offset="0.026" stop-color="#49ffc5"/><stop offset="0.053" stop-color="#71ffc6"/><stop offset="0.079" stop-color="#8effc7"/><stop offset="0.105" stop-color="#a6ffc8"/><stop offset="0.132" stop-color="#bbffca"/><stop offset="0.158" stop-color="#cfffcb"/><stop offset="0.184" stop-color="#e1ffcc"/><stop offset="0.211" stop-color="#f3ffce"/><stop offset="0.237" stop-color="#fffacb"/><stop offset="0.263" stop-color="#ffeac0"/><stop offset="0.289" stop-color="#ffddb6"/><stop offset="0.316" stop-color="#ffd0ae"/><stop offset="0.342" stop-color="#ffc5a6"/><stop offset="0.368" stop-color="#ffbb9f"/><stop offset="0.395" stop-color="#ffb299"/><stop offset="0.421" stop-color="#ffa993"/><stop offset="0.447" stop-color="#ffa18e"/><stop offset="0.474" stop-color="#ff9a89"/><stop offset="0.500" stop-color="#ff9284"/><stop offset="0.526" stop-color="#ff8b80"/><stop offset="0.553" stop-color="#ff857c"/><stop offset="0.579" stop-color="#ff7e78"/><stop offset="0.605" stop-color="#ff7874"/><stop offset="0.632" stop-color="#ff7271"/><stop offset="0.658" stop-color="#ff6b6d"/><stop offset="0.684" stop-color="#ff656a"/><stop offset="0.711" stop-color="#ff5f67"/><stop offset="0.737" stop-color="#ff5964"/><stop offset="0.763" stop-color="#ff5361"/><stop offset="0.789" stop-color="#ff4d5f"/><stop offset="0.816" stop-color="#ff475c"/><stop offset="0.842" stop-color="#ff4059"/><stop offset="0.868" stop-color="#ff3957"/><stop offset="0.895" stop-color="#ff3254"/><stop offset="0.921" stop-color="#ff2952"/><stop offset="0.947" stop-color="#ff1f50"/><stop offset="0.974" stop-color="#ff114e"/><stop offset="1.000" stop-color="#ff004b"/></linearGradient><linearGradient id="g44" gradientUnits="userSpaceOnUse" x1="187.7" y1="0" x2="377.2" y2="0"><stop offset="0.000" stop-color="#00ffc6"/><stop offset="0.026" stop-color="#49ffc7"/><stop offset="0.053" stop-color="#71ffc8"/><stop offset="0.079" stop-color="#8effca"/><stop offset="0.105" stop-color="#a6ffcb"/><stop offset="0.132" stop-color="#bbffcc"/><stop offset="0.158" stop-color="#cfffce"/><stop offset="0.184" stop-color="#e1ffcf"/><stop offset="0.211" stop-color="#f3ffd1"/><stop offset="0.237" stop-color="#ffface"/><stop offset="0.263" stop-color="#ffeac3"/><stop offset="0.289" stop-color="#ffddb9"/><stop offset="0.316" stop-color="#ffd0b0"/><stop offset="0.342" stop-color="#ffc5a9"/><stop offset="0.368" stop-color="#ffbba2"/><stop offset="0.395" stop-color="#ffb29b"/><stop offset="0.421" stop-color="#ffa996"/><stop offset="0.447" stop-color="#ffa190"/><stop offset="0.474" stop-color="#ff9a8b"/><stop offset="0.500" stop-color="#ff9287"/><stop offset="0.526" stop-color="#ff8b82"/><stop offset="0.553" stop-color="#ff857e"/><stop offset="0.579" stop-color="#ff7e7a"/><stop offset="0.605" stop-color="#ff7877"/><stop offset="0.632" stop-color="#ff7273"/><stop offset="0.658" stop-color="#ff6b70"/><stop offset="0.684" stop-color="#ff656c"/><stop offset="0.711" stop-color="#ff5f69"/><stop offset="0.737" stop-color="#ff5966"/><stop offset="0.763" stop-color="#ff5364"/><stop offset="0.789" stop-color="#ff4d61"/><stop offset="0.816" stop-color="#ff475e"/><stop offset="0.842" stop-color="#ff405c"/><stop offset="0.868" stop-color="#ff3959"/><stop offset="0.895" stop-color="#ff3257"/><stop offset="0.921" stop-color="#ff2954"/><stop offset="0.947" stop-color="#ff1f52"/><stop offset="0.974" stop-color="#ff1150"/><stop offset="1.000" stop-color="#ff004e"/></linearGradient><linearGradient id="g45" gradientUnits="userSpaceOnUse" x1="187.9" y1="0" x2="376.5" y2="0"><stop offset="0.000" stop-color="#00ffc9"/><stop offset="0.026" stop-color="#49ffca"/><stop offset="0.053" stop-color="#71ffcb"/><stop offset="0.079" stop-color="#8effcc"/><stop offset="0.105" stop-color="#a6ffce"/><stop offset="0.132" stop-color="#bbffcf"/><stop offset="0.158" stop-color="#cfffd1"/><stop offset="0.184" stop-color="#e1ffd2"/><stop offset="0.211" stop-color="#f3ffd4"/><stop offset="0.237" stop-color="#fffad1"/><stop offset="0.263" stop-color="#ffeac6"/><stop offset="0.289" stop-color="#ffddbc"/><stop offset="0.316" stop-color="#ffd0b3"/><stop offset="0.342" stop-color="#ffc5ab"/><stop offset="0.368" stop-color="#ffbba4"/><stop offset="0.395" stop-color="#ffb29e"/><stop offset="0.421" stop-color="#ffa998"/><stop offset="0.447" stop-color="#ffa193"/><stop offset="0.474" stop-color="#ff9a8e"/><stop offset="0.500" stop-color="#ff9289"/><stop offset="0.526" stop-color="#ff8b85"/><stop offset="0.553" stop-color="#ff8580"/><stop offset="0.579" stop-color="#ff7e7c"/><stop offset="0.605" stop-color="#ff7879"/><stop offset="0.632" stop-color="#ff7275"/><stop offset="0.658" stop-color="#ff6b72"/><stop offset="0.684" stop-color="#ff656f"/><stop offset="0.711" stop-color="#ff5f6c"/><stop offset="0.737" stop-color="#ff5969"/><stop offset="0.763" stop-color="#ff5366"/><stop offset="0.789" stop-color="#ff4d63"/><stop offset="0.816" stop-color="#ff4760"/><stop offset="0.842" stop-color="#ff405e"/><stop offset="0.868" stop-color="#ff395b"/><stop offset="0.895" stop-color="#ff3259"/><stop offset="0.921" stop-color="#ff2957"/><stop offset="0.947" stop-color="#ff1f54"/><stop offset="0.974" stop-color="#ff1152"/><stop offset="1.000" stop-color="#ff0050"/></linearGradient><linearGradient id="g46" gradientUnits="userSpaceOnUse" x1="188.0" y1="0" x2="375.7" y2="0"><stop offset="0.000" stop-color="#00ffcb"/><stop offset="0.026" stop-color="#49ffcc"/><stop offset="0.053" stop-color="#71ffce"/><stop offset="0.079" stop-color="#8effcf"/><stop offset="0.105" stop-color="#a6ffd0"/><stop offset="0.132" stop-color="#bbffd2"/><stop offset="0.158" stop-color="#cfffd3"/><stop offset="0.184" stop-color="#e1ffd5"/><stop offset="0.211" stop-color="#f3ffd7"/><stop offset="0.237" stop-color="#fffad4"/><stop offset="0.263" stop-color="#ffeac8"/><stop offset="0.289" stop-color="#ffddbf"/><stop offset="0.316" stop-color="#ffd0b6"/><stop offset="0.342" stop-color="#ffc5ae"/><stop offset="0.368" stop-color="#ffbba7"/><stop offset="0.395" stop-color="#ffb2a0"/><stop offset="0.421" stop-color="#ffa99a"/><stop offset="0.447" stop-color="#ffa195"/><stop offset="0.474" stop-color="#ff9a90"/><stop offset="0.500" stop-color="#ff928b"/><stop offset="0.526" stop-color="#ff8b87"/><stop offset="0.553" stop-color="#ff8583"/><stop offset="0.579" stop-color="#ff7e7f"/><stop offset="0.605" stop-color="#ff787b"/><stop offset="0.632" stop-color="#ff7277"/><stop offset="0.658" stop-color="#ff6b74"/><stop offset="0.684" stop-color="#ff6571"/><stop offset="0.711" stop-color="#ff5f6e"/><stop offset="0.737" stop-color="#ff596b"/><stop offset="0.763" stop-color="#ff5368"/><stop offset="0.789" stop-color="#ff4d65"/><stop offset="0.816" stop-color="#ff4763"/><stop offset="0.842" stop-color="#ff4060"/><stop offset="0.868" stop-color="#ff395e"/><stop offset="0.895" stop-color="#ff325b"/><stop offset="0.921" stop-color="#ff2959"/><stop offset="0.947" stop-color="#ff1f57"/><stop offset="0.974" stop-color="#ff1154"/><stop offset="1.000" stop-color="#ff0052"/></linearGradient><linearGradient id="g47" gradientUnits="userSpaceOnUse" x1="188.1" y1="0" x2="374.9" y2="0"><stop offset="0.000" stop-color="#00ffcd"/><stop offset="0.027" stop-color="#4affcf"/><stop offset="0.054" stop-color="#73ffd0"/><stop offset="0.081" stop-color="#90ffd2"/><stop offset="0.108" stop-color="#a8ffd3"/><stop offset="0.135" stop-color="#beffd5"/><stop offset="0.162" stop-color="#d2ffd6"/><stop offset="0.189" stop-color="#e5ffd8"/><stop offset="0.216" stop-color="#f7ffda"/><stop offset="0.243" stop-color="#fff6d4"/><stop offset="0.270" stop-color="#ffe6c8"/><stop offset="0.297" stop-color="#ffd9be"/><stop offset="0.324" stop-color="#ffcdb6"/><stop offset="0.351" stop-color="#ffc2ae"/><stop offset="0.378" stop-color="#ffb8a7"/><stop offset="0.405" stop-color="#ffafa0"/><stop offset="0.432" stop-color="#ffa69a"/><stop offset="0.459" stop-color="#ff9e95"/><stop offset="0.486" stop-color="#ff9690"/><stop offset="0.514" stop-color="#ff8f8b"/><stop offset="0.541" stop-color="#ff8887"/><stop offset="0.568" stop-color="#ff8183"/><stop offset="0.595" stop-color="#ff7a7f"/><stop offset="0.622" stop-color="#ff747b"/><stop offset="0.649" stop-color="#ff6e77"/><stop offset="0.676" stop-color="#ff6774"/><stop offset="0.703" stop-color="#ff6171"/><stop offset="0.730" stop-color="#ff5b6e"/><stop offset="0.757" stop-color="#ff556b"/><stop offset="0.784" stop-color="#ff4f68"/><stop offset="0.811" stop-color="#ff4865"/><stop offset="0.838" stop-color="#ff4163"/><stop offset="0.865" stop-color="#ff3a60"/><stop offset="0.892" stop-color="#ff335e"/><stop offset="0.919" stop-color="#ff2a5b"/><stop offset="0.946" stop-color="#ff2059"/><stop offset="0.973" stop-color="#ff1156"/><stop offset="1.000" stop-color="#ff0054"/></linearGradient><linearGradient id="g48" gradientUnits="userSpaceOnUse" x1="188.2" y1="0" x2="374.2" y2="0"><stop offset="0.000" stop-color="#00ffd0"/><stop offset="0.027" stop-color="#4affd1"/><stop offset="0.054" stop-color="#73ffd3"/><stop offset="0.081" stop-color="#90ffd4"/><stop offset="0.108" stop-color="#a8ffd6"/><stop offset="0.135" stop-color="#beffd7"/><stop offset="0.162" stop-color="#d2ffd9"/><stop offset="0.189" stop-color="#e5ffdb"/><stop offset="0.216" stop-color="#f7ffdd"/><stop offset="0.243" stop-color="#fff6d7"/><stop offset="0.270" stop-color="#ffe6cb"/><stop offset="0.297" stop-color="#ffd9c1"/><stop offset="0.324" stop-color="#ffcdb8"/><stop offset="0.351" stop-color="#ffc2b0"/><stop offset="0.378" stop-color="#ffb8a9"/><stop offset="0.405" stop-color="#ffafa3"/><stop offset="0.432" stop-color="#ffa69d"/><stop offset="0.459" stop-color="#ff9e97"/><stop offset="0.486" stop-color="#ff9692"/><stop offset="0.514" stop-color="#ff8f8d"/><stop offset="0.541" stop-color="#ff8889"/><stop offset="0.568" stop-color="#ff8185"/><stop offset="0.595" stop-color="#ff7a81"/><stop offset="0.622" stop-color="#ff747d"/><stop offset="0.649" stop-color="#ff6e7a"/><stop offset="0.676" stop-color="#ff6776"/><stop offset="0.703" stop-color="#ff6173"/><stop offset="0.730" stop-color="#ff5b70"/><stop offset="0.757" stop-color="#ff556d"/><stop offset="0.784" stop-color="#ff4f6a"/><stop offset="0.811" stop-color="#ff4867"/><stop offset="0.838" stop-color="#ff4165"/><stop offset="0.865" stop-color="#ff3a62"/><stop offset="0.892" stop-color="#ff3360"/><stop offset="0.919" stop-color="#ff2a5d"/><stop offset="0.946" stop-color="#ff205b"/><stop offset="0.973" stop-color="#ff1159"/><stop offset="1.000" stop-color="#ff0056"/></linearGradient><linearGradient id="g49" gradientUnits="userSpaceOnUse" x1="188.4" y1="0" x2="373.4" y2="0"><stop offset="0.000" stop-color="#00ffd2"/><stop offset="0.027" stop-color="#4affd4"/><stop offset="0.054" stop-color="#72ffd5"/><stop offset="0.081" stop-color="#90ffd7"/><stop offset="0.108" stop-color="#a8ffd8"/><stop offset="0.135" stop-color="#beffda"/><stop offset="0.162" stop-color="#d2ffdc"/><stop offset="0.189" stop-color="#e5ffde"/><stop offset="0.216" stop-color="#f7ffe0"/><stop offset="0.243" stop-color="#fff6d9"/><stop offset="0.270" stop-color="#ffe6ce"/><stop offset="0.297" stop-color="#ffd9c4"/><stop offset="0.324" stop-color="#ffcdbb"/><stop offset="0.351" stop-color="#ffc2b3"/><stop offset="0.378" stop-color="#ffb8ac"/><stop offset="0.405" stop-color="#ffafa5"/><stop offset="0.432" stop-color="#ffa69f"/><stop offset="0.459" stop-color="#ff9e9a"/><stop offset="0.486" stop-color="#ff9694"/><stop offset="0.514" stop-color="#ff8f90"/><stop offset="0.541" stop-color="#ff888b"/><stop offset="0.568" stop-color="#ff8187"/><stop offset="0.595" stop-color="#ff7a83"/><stop offset="0.622" stop-color="#ff747f"/><stop offset="0.649" stop-color="#ff6e7c"/><stop offset="0.676" stop-color="#ff6778"/><stop offset="0.703" stop-color="#ff6175"/><stop offset="0.730" stop-color="#ff5b72"/><stop offset="0.757" stop-color="#ff556f"/><stop offset="0.784" stop-color="#ff4f6c"/><stop offset="0.811" stop-color="#ff4869"/><stop offset="0.838" stop-color="#ff4167"/><stop offset="0.865" stop-color="#ff3a64"/><stop offset="0.892" stop-color="#ff3362"/><stop offset="0.919" stop-color="#ff2a5f"/><stop offset="0.946" stop-color="#ff205d"/><stop offset="0.973" stop-color="#ff115b"/><stop offset="1.000" stop-color="#ff0058"/></linearGradient><linearGradient id="g50" gradientUnits="userSpaceOnUse" x1="188.5" y1="0" x2="372.7" y2="0"><stop offset="0.000" stop-color="#00ffd5"/><stop offset="0.027" stop-color="#4affd6"/><stop offset="0.054" stop-color="#72ffd8"/><stop offset="0.081" stop-color="#90ffd9"/><stop offset="0.108" stop-color="#a8ffdb"/><stop offset="0.135" stop-color="#beffdd"/><stop offset="0.162" stop-color="#d2ffde"/><stop offset="0.189" stop-color="#e5ffe0"/><stop offset="0.216" stop-color="#f7ffe2"/><stop offset="0.243" stop-color="#fff6dc"/><stop offset="0.270" stop-color="#ffe6d0"/><stop offset="0.297" stop-color="#ffd9c6"/><stop offset="0.324" stop-color="#ffcdbd"/><stop offset="0.351" stop-color="#ffc2b5"/><stop offset="0.378" stop-color="#ffb8ae"/><stop offset="0.405" stop-color="#ffafa7"/><stop offset="0.432" stop-color="#ffa6a1"/><stop offset="0.459" stop-color="#ff9e9c"/><stop offset="0.486" stop-color="#ff9697"/><stop offset="0.514" stop-color="#ff8f92"/><stop offset="0.541" stop-color="#ff888d"/><stop offset="0.568" stop-color="#ff8189"/><stop offset="0.595" stop-color="#ff7a85"/><stop offset="0.622" stop-color="#ff7481"/><stop offset="0.649" stop-color="#ff6e7e"/><stop offset="0.676" stop-color="#ff677a"/><stop offset="0.703" stop-color="#ff6177"/><stop offset="0.730" stop-color="#ff5b74"/><stop offset="0.757" stop-color="#ff5571"/><stop offset="0.784" stop-color="#ff4f6e"/><stop offset="0.811" stop-color="#ff486b"/><stop offset="0.838" stop-color="#ff4169"/><stop offset="0.865" stop-color="#ff3a66"/><stop offset="0.892" stop-color="#ff3364"/><stop offset="0.919" stop-color="#ff2a61"/><stop offset="0.946" stop-color="#ff205f"/><stop offset="0.973" stop-color="#ff115d"/><stop offset="1.000" stop-color="#ff005a"/></linearGradient><linearGradient id="g51" gradientUnits="userSpaceOnUse" x1="188.6" y1="0" x2="371.9" y2="0"><stop offset="0.000" stop-color="#00ffd7"/><stop offset="0.027" stop-color="#4affd8"/><stop offset="0.054" stop-color="#72ffda"/><stop offset="0.081" stop-color="#90ffdc"/><stop offset="0.108" stop-color="#a8ffdd"/><stop offset="0.135" stop-color="#beffdf"/><stop offset="0.162" stop-color="#d2ffe1"/><stop offset="0.189" stop-color="#e5ffe3"/><stop offset="0.216" stop-color="#f7ffe5"/><stop offset="0.243" stop-color="#fff6df"/><stop offset="0.270" stop-color="#ffe6d3"/><stop offset="0.297" stop-color="#ffd9c9"/><stop offset="0.324" stop-color="#ffcdc0"/><stop offset="0.351" stop-color="#ffc2b8"/><stop offset="0.378" stop-color="#ffb8b0"/><stop offset="0.405" stop-color="#ffafaa"/><stop offset="0.432" stop-color="#ffa6a4"/><stop offset="0.459" stop-color="#ff9e9e"/><stop offset="0.486" stop-color="#ff9699"/><stop offset="0.514" stop-color="#ff8f94"/><stop offset="0.541" stop-color="#ff888f"/><stop offset="0.568" stop-color="#ff818b"/><stop offset="0.595" stop-color="#ff7a87"/><stop offset="0.622" stop-color="#ff7483"/><stop offset="0.649" stop-color="#ff6e80"/><stop offset="0.676" stop-color="#ff677c"/><stop offset="0.703" stop-color="#ff6179"/><stop offset="0.730" stop-color="#ff5b76"/><stop offset="0.757" stop-color="#ff5573"/><stop offset="0.784" stop-color="#ff4f70"/><stop offset="0.811" stop-color="#ff486d"/><stop offset="0.838" stop-color="#ff416b"/><stop offset="0.865" stop-color="#ff3a68"/><stop offset="0.892" stop-color="#ff3366"/><stop offset="0.919" stop-color="#ff2a63"/><stop offset="0.946" stop-color="#ff2061"/><stop offset="0.973" stop-color="#ff115f"/><stop offset="1.000" stop-color="#ff005c"/></linearGradient><linearGradient id="g52" gradientUnits="userSpaceOnUse" x1="188.7" y1="0" x2="371.2" y2="0"><stop offset="0.000" stop-color="#00ffd9"/><stop offset="0.028" stop-color="#4bffdb"/><stop offset="0.056" stop-color="#74ffdd"/><stop offset="0.083" stop-color="#92ffde"/><stop offset="0.111" stop-color="#abffe0"/><stop offset="0.139" stop-color="#c1ffe2"/><stop offset="0.167" stop-color="#d5ffe4"/><stop offset="0.194" stop-color="#e8ffe6"/><stop offset="0.222" stop-color="#fbffe8"/><stop offset="0.250" stop-color="#fff2de"/><stop offset="0.278" stop-color="#ffe3d3"/><stop offset="0.306" stop-color="#ffd5c8"/><stop offset="0.333" stop-color="#ffc9bf"/><stop offset="0.361" stop-color="#ffbeb7"/><stop offset="0.389" stop-color="#ffb4b0"/><stop offset="0.417" stop-color="#ffaba9"/><stop offset="0.444" stop-color="#ffa2a3"/><stop offset="0.472" stop-color="#ff9a9e"/><stop offset="0.500" stop-color="#ff9299"/><stop offset="0.528" stop-color="#ff8b94"/><stop offset="0.556" stop-color="#ff848f"/><stop offset="0.583" stop-color="#ff7d8b"/><stop offset="0.611" stop-color="#ff7687"/><stop offset="0.639" stop-color="#ff7083"/><stop offset="0.667" stop-color="#ff6980"/><stop offset="0.694" stop-color="#ff637c"/><stop offset="0.722" stop-color="#ff5d79"/><stop offset="0.750" stop-color="#ff5676"/><stop offset="0.778" stop-color="#ff5073"/><stop offset="0.806" stop-color="#ff4970"/><stop offset="0.833" stop-color="#ff436d"/><stop offset="0.861" stop-color="#ff3b6b"/><stop offset="0.889" stop-color="#ff3368"/><stop offset="0.917" stop-color="#ff2b65"/><stop offset="0.944" stop-color="#ff2063"/><stop offset="0.972" stop-color="#ff1261"/><stop offset="1.000" stop-color="#ff005e"/></linearGradient><linearGradient id="g53" gradientUnits="userSpaceOnUse" x1="188.9" y1="0" x2="370.4" y2="0"><stop offset="0.000" stop-color="#00ffdc"/><stop offset="0.028" stop-color="#4bffdd"/><stop offset="0.056" stop-color="#74ffdf"/><stop offset="0.083" stop-color="#92ffe1"/><stop offset="0.111" stop-color="#abffe3"/><stop offset="0.139" stop-color="#c1ffe5"/><stop offset="0.167" stop-color="#d5ffe7"/><stop offset="0.194" stop-color="#e8ffe9"/><stop offset="0.222" stop-color="#fbffeb"/><stop offset="0.250" stop-color="#fff2e1"/><stop offset="0.278" stop-color="#ffe3d5"/><stop offset="0.306" stop-color="#ffd5cb"/><stop offset="0.333" stop-color="#ffc9c2"/><stop offset="0.361" stop-color="#ffbeba"/><stop offset="0.389" stop-color="#ffb4b2"/><stop offset="0.417" stop-color="#ffabac"/><stop offset="0.444" stop-color="#ffa2a6"/><stop offset="0.472" stop-color="#ff9aa0"/><stop offset="0.500" stop-color="#ff929b"/><stop offset="0.528" stop-color="#ff8b96"/><stop offset="0.556" stop-color="#ff8491"/><stop offset="0.583" stop-color="#ff7d8d"/><stop offset="0.611" stop-color="#ff7689"/><stop offset="0.639" stop-color="#ff7085"/><stop offset="0.667" stop-color="#ff6982"/><stop offset="0.694" stop-color="#ff637e"/><stop offset="0.722" stop-color="#ff5d7b"/><stop offset="0.750" stop-color="#ff5678"/><stop offset="0.778" stop-color="#ff5075"/><stop offset="0.806" stop-color="#ff4972"/><stop offset="0.833" stop-color="#ff436f"/><stop offset="0.861" stop-color="#ff3b6c"/><stop offset="0.889" stop-color="#ff336a"/><stop offset="0.917" stop-color="#ff2b67"/><stop offset="0.944" stop-color="#ff2065"/><stop offset="0.972" stop-color="#ff1263"/><stop offset="1.000" stop-color="#ff0060"/></linearGradient><linearGradient id="g54" gradientUnits="userSpaceOnUse" x1="189.0" y1="0" x2="369.7" y2="0"><stop offset="0.000" stop-color="#00ffde"/><stop offset="0.028" stop-color="#4bffe0"/><stop offset="0.056" stop-color="#74ffe1"/><stop offset="0.083" stop-color="#92ffe3"/><stop offset="0.111" stop-color="#aaffe5"/><stop offset="0.139" stop-color="#c1ffe7"/><stop offset="0.167" stop-color="#d5ffe9"/><stop offset="0.194" stop-color="#e8ffeb"/><stop offset="0.222" stop-color="#fbffee"/><stop offset="0.250" stop-color="#fff2e4"/><stop offset="0.278" stop-color="#ffe3d8"/><stop offset="0.306" stop-color="#ffd5cd"/><stop offset="0.333" stop-color="#ffc9c4"/><stop offset="0.361" stop-color="#ffbebc"/><stop offset="0.389" stop-color="#ffb4b5"/><stop offset="0.417" stop-color="#ffabae"/><stop offset="0.444" stop-color="#ffa2a8"/><stop offset="0.472" stop-color="#ff9aa2"/><stop offset="0.500" stop-color="#ff929d"/><stop offset="0.528" stop-color="#ff8b98"/><stop offset="0.556" stop-color="#ff8493"/><stop offset="0.583" stop-color="#ff7d8f"/><stop offset="0.611" stop-color="#ff768b"/><stop offset="0.639" stop-color="#ff7087"/><stop offset="0.667" stop-color="#ff6984"/><stop offset="0.694" stop-color="#ff6380"/><stop offset="0.722" stop-color="#ff5d7d"/><stop offset="0.750" stop-color="#ff567a"/><stop offset="0.778" stop-color="#ff5077"/><stop offset="0.806" stop-color="#ff4974"/><stop offset="0.833" stop-color="#ff4371"/><stop offset="0.861" stop-color="#ff3b6e"/><stop offset="0.889" stop-color="#ff336c"/><stop offset="0.917" stop-color="#ff2b69"/><stop offset="0.944" stop-color="#ff2067"/><stop offset="0.972" stop-color="#ff1265"/><stop offset="1.000" stop-color="#ff0062"/></linearGradient><linearGradient id="g55" gradientUnits="userSpaceOnUse" x1="189.1" y1="0" x2="368.9" y2="0"><stop offset="0.000" stop-color="#00ffe0"/><stop offset="0.028" stop-color="#4bffe2"/><stop offset="0.056" stop-color="#74ffe4"/><stop offset="0.083" stop-color="#92ffe6"/><stop offset="0.111" stop-color="#aaffe8"/><stop offset="0.139" stop-color="#c1ffea"/><stop offset="0.167" stop-color="#d5ffec"/><stop offset="0.194" stop-color="#e8ffee"/><stop offset="0.222" stop-color="#fbfff1"/><stop offset="0.250" stop-color="#fff2e6"/><stop offset="0.278" stop-color="#ffe3da"/><stop offset="0.306" stop-color="#ffd5d0"/><stop offset="0.333" stop-color="#ffc9c7"/><stop offset="0.361" stop-color="#ffbebe"/><stop offset="0.389" stop-color="#ffb4b7"/><stop offset="0.417" stop-color="#ffabb0"/><stop offset="0.444" stop-color="#ffa2aa"/><stop offset="0.472" stop-color="#ff9aa4"/><stop offset="0.500" stop-color="#ff929f"/><stop offset="0.528" stop-color="#ff8b9a"/><stop offset="0.556" stop-color="#ff8495"/><stop offset="0.583" stop-color="#ff7d91"/><stop offset="0.611" stop-color="#ff768d"/><stop offset="0.639" stop-color="#ff7089"/><stop offset="0.667" stop-color="#ff6986"/><stop offset="0.694" stop-color="#ff6382"/><stop offset="0.722" stop-color="#ff5d7f"/><stop offset="0.750" stop-color="#ff567c"/><stop offset="0.778" stop-color="#ff5079"/><stop offset="0.806" stop-color="#ff4976"/><stop offset="0.833" stop-color="#ff4373"/><stop offset="0.861" stop-color="#ff3b70"/><stop offset="0.889" stop-color="#ff336e"/><stop offset="0.917" stop-color="#ff2b6b"/><stop offset="0.944" stop-color="#ff2069"/><stop offset="0.972" stop-color="#ff1166"/><stop offset="1.000" stop-color="#ff0064"/></linearGradient><linearGradient id="g56" gradientUnits="userSpaceOnUse" x1="189.2" y1="0" x2="368.1" y2="0"><stop offset="0.000" stop-color="#00ffe3"/><stop offset="0.028" stop-color="#4bffe4"/><stop offset="0.056" stop-color="#74ffe6"/><stop offset="0.083" stop-color="#92ffe8"/><stop offset="0.111" stop-color="#aaffea"/><stop offset="0.139" stop-color="#c1ffec"/><stop offset="0.167" stop-color="#d5ffee"/><stop offset="0.194" stop-color="#e8fff1"/><stop offset="0.222" stop-color="#fbfff3"/><stop offset="0.250" stop-color="#fff2e9"/><stop offset="0.278" stop-color="#ffe3dd"/><stop offset="0.306" stop-color="#ffd5d2"/><stop offset="0.333" stop-color="#ffc9c9"/><stop offset="0.361" stop-color="#ffbec1"/><stop offset="0.389" stop-color="#ffb4b9"/><stop offset="0.417" stop-color="#ffabb2"/><stop offset="0.444" stop-color="#ffa2ac"/><stop offset="0.472" stop-color="#ff9aa6"/><stop offset="0.500" stop-color="#ff92a1"/><stop offset="0.528" stop-color="#ff8b9c"/><stop offset="0.556" stop-color="#ff8497"/><stop offset="0.583" stop-color="#ff7d93"/><stop offset="0.611" stop-color="#ff768f"/><stop offset="0.639" stop-color="#ff708b"/><stop offset="0.667" stop-color="#ff6988"/><stop offset="0.694" stop-color="#ff6384"/><stop offset="0.722" stop-color="#ff5d81"/><stop offset="0.750" stop-color="#ff567e"/><stop offset="0.778" stop-color="#ff507b"/><stop offset="0.806" stop-color="#ff4978"/><stop offset="0.833" stop-color="#ff4375"/><stop offset="0.861" stop-color="#ff3b72"/><stop offset="0.889" stop-color="#ff3370"/><stop offset="0.917" stop-color="#ff2b6d"/><stop offset="0.944" stop-color="#ff206b"/><stop offset="0.972" stop-color="#ff1168"/><stop offset="1.000" stop-color="#ff0066"/></linearGradient><linearGradient id="g57" gradientUnits="userSpaceOnUse" x1="189.4" y1="0" x2="367.4" y2="0"><stop offset="0.000" stop-color="#00ffe5"/><stop offset="0.028" stop-color="#4bffe7"/><stop offset="0.056" stop-color="#74ffe9"/><stop offset="0.083" stop-color="#92ffeb"/><stop offset="0.111" stop-color="#aaffed"/><stop offset="0.139" stop-color="#c0ffef"/><stop offset="0.167" stop-color="#d5fff1"/><stop offset="0.194" stop-color="#e8fff3"/><stop offset="0.222" stop-color="#fbfff6"/><stop offset="0.250" stop-color="#fff2ec"/><stop offset="0.278" stop-color="#ffe3e0"/><stop offset="0.306" stop-color="#ffd5d5"/><stop offset="0.333" stop-color="#ffc9cb"/><stop offset="0.361" stop-color="#ffbec3"/><stop offset="0.389" stop-color="#ffb4bb"/><stop offset="0.417" stop-color="#ffabb5"/><stop offset="0.444" stop-color="#ffa2ae"/><stop offset="0.472" stop-color="#ff9aa9"/><stop offset="0.500" stop-color="#ff92a3"/><stop offset="0.528" stop-color="#ff8b9e"/><stop offset="0.556" stop-color="#ff849a"/><stop offset="0.583" stop-color="#ff7d95"/><stop offset="0.611" stop-color="#ff7691"/><stop offset="0.639" stop-color="#ff708d"/><stop offset="0.667" stop-color="#ff6989"/><stop offset="0.694" stop-color="#ff6386"/><stop offset="0.722" stop-color="#ff5d83"/><stop offset="0.750" stop-color="#ff567f"/><stop offset="0.778" stop-color="#ff507c"/><stop offset="0.806" stop-color="#ff497a"/><stop offset="0.833" stop-color="#ff4377"/><stop offset="0.861" stop-color="#ff3b74"/><stop offset="0.889" stop-color="#ff3371"/><stop offset="0.917" stop-color="#ff2b6f"/><stop offset="0.944" stop-color="#ff206c"/><stop offset="0.972" stop-color="#ff116a"/><stop offset="1.000" stop-color="#ff0068"/></linearGradient><linearGradient id="g58" gradientUnits="userSpaceOnUse" x1="189.5" y1="0" x2="366.6" y2="0"><stop offset="0.000" stop-color="#00ffe7"/><stop offset="0.029" stop-color="#4cffe9"/><stop offset="0.057" stop-color="#76ffeb"/><stop offset="0.086" stop-color="#94ffed"/><stop offset="0.114" stop-color="#adffef"/><stop offset="0.143" stop-color="#c3fff2"/><stop offset="0.171" stop-color="#d8fff4"/><stop offset="0.200" stop-color="#ecfff7"/><stop offset="0.229" stop-color="#fffff9"/><stop offset="0.257" stop-color="#ffeeeb"/><stop offset="0.286" stop-color="#ffdfdf"/><stop offset="0.314" stop-color="#ffd1d4"/><stop offset="0.343" stop-color="#ffc5cb"/><stop offset="0.371" stop-color="#ffbac2"/><stop offset="0.400" stop-color="#ffb0bb"/><stop offset="0.429" stop-color="#ffa7b4"/><stop offset="0.457" stop-color="#ff9eae"/><stop offset="0.486" stop-color="#ff96a8"/><stop offset="0.514" stop-color="#ff8ea3"/><stop offset="0.543" stop-color="#ff879e"/><stop offset="0.571" stop-color="#ff8099"/><stop offset="0.600" stop-color="#ff7995"/><stop offset="0.629" stop-color="#ff7291"/><stop offset="0.657" stop-color="#ff6c8d"/><stop offset="0.686" stop-color="#ff6589"/><stop offset="0.714" stop-color="#ff5f85"/><stop offset="0.743" stop-color="#ff5882"/><stop offset="0.771" stop-color="#ff517f"/><stop offset="0.800" stop-color="#ff4b7c"/><stop offset="0.829" stop-color="#ff4479"/><stop offset="0.857" stop-color="#ff3c76"/><stop offset="0.886" stop-color="#ff3474"/><stop offset="0.914" stop-color="#ff2b71"/><stop offset="0.943" stop-color="#ff216e"/><stop offset="0.971" stop-color="#ff126c"/><stop offset="1.000" stop-color="#ff006a"/></linearGradient><linearGradient id="g59" gradientUnits="userSpaceOnUse" x1="189.6" y1="0" x2="365.9" y2="0"><stop offset="0.000" stop-color="#00ffe9"/><stop offset="0.029" stop-color="#4cffeb"/><stop offset="0.057" stop-color="#76ffed"/><stop offset="0.086" stop-color="#94fff0"/><stop offset="0.114" stop-color="#adfff2"/><stop offset="0.143" stop-color="#c3fff4"/><stop offset="0.171" stop-color="#d8fff7"/><stop offset="0.200" stop-color="#ecfff9"/><stop offset="0.229" stop-color="#fffffc"/><stop offset="0.257" stop-color="#ffeeee"/><stop offset="0.286" stop-color="#ffdfe1"/><stop offset="0.314" stop-color="#ffd1d7"/><stop offset="0.343" stop-color="#ffc5cd"/><stop offset="0.371" stop-color="#ffbac5"/><stop offset="0.400" stop-color="#ffb0bd"/><stop offset="0.429" stop-color="#ffa7b6"/><stop offset="0.457" stop-color="#ff9eb0"/><stop offset="0.486" stop-color="#ff96aa"/><stop offset="0.514" stop-color="#ff8ea5"/><stop offset="0.543" stop-color="#ff87a0"/><stop offset="0.571" stop-color="#ff809b"/><stop offset="0.600" stop-color="#ff7997"/><stop offset="0.629" stop-color="#ff7292"/><stop offset="0.657" stop-color="#ff6c8f"/><stop offset="0.686" stop-color="#ff658b"/><stop offset="0.714" stop-color="#ff5f87"/><stop offset="0.743" stop-color="#ff5884"/><stop offset="0.771" stop-color="#ff5181"/><stop offset="0.800" stop-color="#ff4b7e"/><stop offset="0.829" stop-color="#ff447b"/><stop offset="0.857" stop-color="#ff3c78"/><stop offset="0.886" stop-color="#ff3475"/><stop offset="0.914" stop-color="#ff2b73"/><stop offset="0.943" stop-color="#ff2170"/><stop offset="0.971" stop-color="#ff126e"/><stop offset="1.000" stop-color="#ff006b"/></linearGradient><linearGradient id="g60" gradientUnits="userSpaceOnUse" x1="189.7" y1="0" x2="365.1" y2="0"><stop offset="0.000" stop-color="#00ffec"/><stop offset="0.029" stop-color="#4cffee"/><stop offset="0.057" stop-color="#76fff0"/><stop offset="0.086" stop-color="#94fff2"/><stop offset="0.114" stop-color="#adfff4"/><stop offset="0.143" stop-color="#c3fff7"/><stop offset="0.171" stop-color="#d8fff9"/><stop offset="0.200" stop-color="#ecfffc"/><stop offset="0.229" stop-color="#ffffff"/><stop offset="0.257" stop-color="#ffeef0"/><stop offset="0.286" stop-color="#ffdfe4"/><stop offset="0.314" stop-color="#ffd1d9"/><stop offset="0.343" stop-color="#ffc5cf"/><stop offset="0.371" stop-color="#ffbac7"/><stop offset="0.400" stop-color="#ffb0bf"/><stop offset="0.429" stop-color="#ffa7b8"/><stop offset="0.457" stop-color="#ff9eb2"/><stop offset="0.486" stop-color="#ff96ac"/><stop offset="0.514" stop-color="#ff8ea7"/><stop offset="0.543" stop-color="#ff87a2"/><stop offset="0.571" stop-color="#ff809d"/><stop offset="0.600" stop-color="#ff7999"/><stop offset="0.629" stop-color="#ff7294"/><stop offset="0.657" stop-color="#ff6c90"/><stop offset="0.686" stop-color="#ff658d"/><stop offset="0.714" stop-color="#ff5f89"/><stop offset="0.743" stop-color="#ff5886"/><stop offset="0.771" stop-color="#ff5183"/><stop offset="0.800" stop-color="#ff4b80"/><stop offset="0.829" stop-color="#ff447d"/><stop offset="0.857" stop-color="#ff3c7a"/><stop offset="0.886" stop-color="#ff3477"/><stop offset="0.914" stop-color="#ff2b75"/><stop offset="0.943" stop-color="#ff2172"/><stop offset="0.971" stop-color="#ff1270"/><stop offset="1.000" stop-color="#ff006d"/></linearGradient><linearGradient id="g61" gradientUnits="userSpaceOnUse" x1="189.9" y1="0" x2="364.4" y2="0"><stop offset="0.000" stop-color="#00ffee"/><stop offset="0.029" stop-color="#4cfff0"/><stop offset="0.057" stop-color="#76fff2"/><stop offset="0.086" stop-color="#94fff4"/><stop offset="0.114" stop-color="#adfff7"/><stop offset="0.143" stop-color="#c3fff9"/><stop offset="0.171" stop-color="#d8fffc"/><stop offset="0.200" stop-color="#ecfffe"/><stop offset="0.229" stop-color="#fdfdff"/><stop offset="0.257" stop-color="#ffeef3"/><stop offset="0.286" stop-color="#ffdfe6"/><stop offset="0.314" stop-color="#ffd1db"/><stop offset="0.343" stop-color="#ffc5d2"/><stop offset="0.371" stop-color="#ffbac9"/><stop offset="0.400" stop-color="#ffb0c1"/><stop offset="0.429" stop-color="#ffa7ba"/><stop offset="0.457" stop-color="#ff9eb4"/><stop offset="0.486" stop-color="#ff96ae"/><stop offset="0.514" stop-color="#ff8ea9"/><stop offset="0.543" stop-color="#ff87a4"/><stop offset="0.571" stop-color="#ff809f"/><stop offset="0.600" stop-color="#ff799a"/><stop offset="0.629" stop-color="#ff7296"/><stop offset="0.657" stop-color="#ff6c92"/><stop offset="0.686" stop-color="#ff658f"/><stop offset="0.714" stop-color="#ff5f8b"/><stop offset="0.743" stop-color="#ff5888"/><stop offset="0.771" stop-color="#ff5185"/><stop offset="0.800" stop-color="#ff4b81"/><stop offset="0.829" stop-color="#ff447e"/><stop offset="0.857" stop-color="#ff3c7c"/><stop offset="0.886" stop-color="#ff3479"/><stop offset="0.914" stop-color="#ff2b76"/><stop offset="0.943" stop-color="#ff2174"/><stop offset="0.971" stop-color="#ff1271"/><stop offset="1.000" stop-color="#ff006f"/></linearGradient><linearGradient id="g62" gradientUnits="userSpaceOnUse" x1="190.0" y1="0" x2="363.6" y2="0"><stop offset="0.000" stop-color="#00fff0"/><stop offset="0.029" stop-color="#4cfff2"/><stop offset="0.057" stop-color="#76fff5"/><stop offset="0.086" stop-color="#94fff7"/><stop offset="0.114" stop-color="#adfff9"/><stop offset="0.143" stop-color="#c3fffc"/><stop offset="0.171" stop-color="#d8fffe"/><stop offset="0.200" stop-color="#eafdff"/><stop offset="0.229" stop-color="#fafaff"/><stop offset="0.257" stop-color="#ffeef5"/><stop offset="0.286" stop-color="#ffdfe9"/><stop offset="0.314" stop-color="#ffd1de"/><stop offset="0.343" stop-color="#ffc5d4"/><stop offset="0.371" stop-color="#ffbacb"/><stop offset="0.400" stop-color="#ffb0c4"/><stop offset="0.429" stop-color="#ffa7bd"/><stop offset="0.457" stop-color="#ff9eb6"/><stop offset="0.486" stop-color="#ff96b0"/><stop offset="0.514" stop-color="#ff8eab"/><stop offset="0.543" stop-color="#ff87a6"/><stop offset="0.571" stop-color="#ff80a1"/><stop offset="0.600" stop-color="#ff799c"/><stop offset="0.629" stop-color="#ff7298"/><stop offset="0.657" stop-color="#ff6c94"/><stop offset="0.686" stop-color="#ff6591"/><stop offset="0.714" stop-color="#ff5f8d"/><stop offset="0.743" stop-color="#ff588a"/><stop offset="0.771" stop-color="#ff5186"/><stop offset="0.800" stop-color="#ff4b83"/><stop offset="0.829" stop-color="#ff4480"/><stop offset="0.857" stop-color="#ff3c7d"/><stop offset="0.886" stop-color="#ff347b"/><stop offset="0.914" stop-color="#ff2b78"/><stop offset="0.943" stop-color="#ff2176"/><stop offset="0.971" stop-color="#ff1273"/><stop offset="1.000" stop-color="#ff0071"/></linearGradient><linearGradient id="g63" gradientUnits="userSpaceOnUse" x1="190.1" y1="0" x2="362.9" y2="0"><stop offset="0.000" stop-color="#00fff3"/><stop offset="0.029" stop-color="#4cfff5"/><stop offset="0.057" stop-color="#76fff7"/><stop offset="0.086" stop-color="#94fff9"/><stop offset="0.114" stop-color="#adfffc"/><stop offset="0.143" stop-color="#c3fffe"/><stop offset="0.171" stop-color="#d7fdff"/><stop offset="0.200" stop-color="#e8faff"/><stop offset="0.229" stop-color="#f7f8ff"/><stop offset="0.257" stop-color="#ffeef8"/><stop offset="0.286" stop-color="#ffdfeb"/><stop offset="0.314" stop-color="#ffd1e0"/><stop offset="0.343" stop-color="#ffc5d6"/><stop offset="0.371" stop-color="#ffbace"/><stop offset="0.400" stop-color="#ffb0c6"/><stop offset="0.429" stop-color="#ffa7bf"/><stop offset="0.457" stop-color="#ff9eb8"/><stop offset="0.486" stop-color="#ff96b2"/><stop offset="0.514" stop-color="#ff8ead"/><stop offset="0.543" stop-color="#ff87a8"/><stop offset="0.571" stop-color="#ff80a3"/><stop offset="0.600" stop-color="#ff799e"/><stop offset="0.629" stop-color="#ff729a"/><stop offset="0.657" stop-color="#ff6c96"/><stop offset="0.686" stop-color="#ff6592"/><stop offset="0.714" stop-color="#ff5f8f"/><stop offset="0.743" stop-color="#ff588b"/><stop offset="0.771" stop-color="#ff5188"/><stop offset="0.800" stop-color="#ff4b85"/><stop offset="0.829" stop-color="#ff4482"/><stop offset="0.857" stop-color="#ff3c7f"/><stop offset="0.886" stop-color="#ff347c"/><stop offset="0.914" stop-color="#ff2b7a"/><stop offset="0.943" stop-color="#ff2177"/><stop offset="0.971" stop-color="#ff1275"/><stop offset="1.000" stop-color="#ff0072"/></linearGradient><linearGradient id="g64" gradientUnits="userSpaceOnUse" x1="190.2" y1="0" x2="362.1" y2="0"><stop offset="0.000" stop-color="#00fff5"/><stop offset="0.029" stop-color="#4dfff7"/><stop offset="0.059" stop-color="#78fff9"/><stop offset="0.088" stop-color="#96fffc"/><stop offset="0.118" stop-color="#b0fffe"/><stop offset="0.147" stop-color="#c5fdff"/><stop offset="0.176" stop-color="#d8faff"/><stop offset="0.206" stop-color="#e9f7ff"/><stop offset="0.235" stop-color="#f8f4ff"/><stop offset="0.265" stop-color="#ffeaf7"/><stop offset="0.294" stop-color="#ffdbea"/><stop offset="0.324" stop-color="#ffcddf"/><stop offset="0.353" stop-color="#ffc1d5"/><stop offset="0.382" stop-color="#ffb6cd"/><stop offset="0.412" stop-color="#ffacc5"/><stop offset="0.441" stop-color="#ffa3be"/><stop offset="0.471" stop-color="#ff9ab7"/><stop offset="0.500" stop-color="#ff92b1"/><stop offset="0.529" stop-color="#ff8aac"/><stop offset="0.559" stop-color="#ff83a7"/><stop offset="0.588" stop-color="#ff7ca2"/><stop offset="0.618" stop-color="#ff759e"/><stop offset="0.647" stop-color="#ff6e99"/><stop offset="0.676" stop-color="#ff6795"/><stop offset="0.706" stop-color="#ff6092"/><stop offset="0.735" stop-color="#ff5a8e"/><stop offset="0.765" stop-color="#ff538b"/><stop offset="0.794" stop-color="#ff4c87"/><stop offset="0.824" stop-color="#ff4584"/><stop offset="0.853" stop-color="#ff3d81"/><stop offset="0.882" stop-color="#ff357f"/><stop offset="0.912" stop-color="#ff2c7c"/><stop offset="0.941" stop-color="#ff2179"/><stop offset="0.971" stop-color="#ff1277"/><stop offset="1.000" stop-color="#ff0074"/></linearGradient><linearGradient id="g65" gradientUnits="userSpaceOnUse" x1="190.4" y1="0" x2="361.3" y2="0"><stop offset="0.000" stop-color="#00fff7"/><stop offset="0.029" stop-color="#4dfff9"/><stop offset="0.059" stop-color="#77fffc"/><stop offset="0.088" stop-color="#96fffe"/><stop offset="0.118" stop-color="#aefdff"/><stop offset="0.147" stop-color="#c3fbff"/><stop offset="0.176" stop-color="#d5f8ff"/><stop offset="0.206" stop-color="#e6f5ff"/><stop offset="0.235" stop-color="#f6f2ff"/><stop offset="0.265" stop-color="#ffeaf9"/><stop offset="0.294" stop-color="#ffdbed"/><stop offset="0.324" stop-color="#ffcde1"/><stop offset="0.353" stop-color="#ffc1d8"/><stop offset="0.382" stop-color="#ffb6cf"/><stop offset="0.412" stop-color="#ffacc7"/><stop offset="0.441" stop-color="#ffa3c0"/><stop offset="0.471" stop-color="#ff9ab9"/><stop offset="0.500" stop-color="#ff92b3"/><stop offset="0.529" stop-color="#ff8aae"/><stop offset="0.559" stop-color="#ff83a9"/><stop offset="0.588" stop-color="#ff7ca4"/><stop offset="0.618" stop-color="#ff759f"/><stop offset="0.647" stop-color="#ff6e9b"/><stop offset="0.676" stop-color="#ff6797"/><stop offset="0.706" stop-color="#ff6093"/><stop offset="0.735" stop-color="#ff5a90"/><stop offset="0.765" stop-color="#ff538c"/><stop offset="0.794" stop-color="#ff4c89"/><stop offset="0.824" stop-color="#ff4586"/><stop offset="0.853" stop-color="#ff3d83"/><stop offset="0.882" stop-color="#ff3580"/><stop offset="0.912" stop-color="#ff2c7e"/><stop offset="0.941" stop-color="#ff217b"/><stop offset="0.971" stop-color="#ff1278"/><stop offset="1.000" stop-color="#ff0076"/></linearGradient><linearGradient id="g66" gradientUnits="userSpaceOnUse" x1="190.5" y1="0" x2="360.6" y2="0"><stop offset="0.000" stop-color="#00fff9"/><stop offset="0.029" stop-color="#4dfffc"/><stop offset="0.059" stop-color="#77fffe"/><stop offset="0.088" stop-color="#95fdff"/><stop offset="0.118" stop-color="#adfbff"/><stop offset="0.147" stop-color="#c1f8ff"/><stop offset="0.176" stop-color="#d3f5ff"/><stop offset="0.206" stop-color="#e4f3ff"/><stop offset="0.235" stop-color="#f4f0ff"/><stop offset="0.265" stop-color="#ffeafc"/><stop offset="0.294" stop-color="#ffdbef"/><stop offset="0.324" stop-color="#ffcde4"/><stop offset="0.353" stop-color="#ffc1da"/><stop offset="0.382" stop-color="#ffb6d1"/><stop offset="0.412" stop-color="#ffacc9"/><stop offset="0.441" stop-color="#ffa3c2"/><stop offset="0.471" stop-color="#ff9abb"/><stop offset="0.500" stop-color="#ff92b5"/><stop offset="0.529" stop-color="#ff8ab0"/><stop offset="0.559" stop-color="#ff83ab"/><stop offset="0.588" stop-color="#ff7ca6"/><stop offset="0.618" stop-color="#ff75a1"/><stop offset="0.647" stop-color="#ff6e9d"/><stop offset="0.676" stop-color="#ff6799"/><stop offset="0.706" stop-color="#ff6095"/><stop offset="0.735" stop-color="#ff5a92"/><stop offset="0.765" stop-color="#ff538e"/><stop offset="0.794" stop-color="#ff4c8b"/><stop offset="0.824" stop-color="#ff4588"/><stop offset="0.853" stop-color="#ff3d85"/><stop offset="0.882" stop-color="#ff3582"/><stop offset="0.912" stop-color="#ff2c7f"/><stop offset="0.941" stop-color="#ff217d"/><stop offset="0.971" stop-color="#ff127a"/><stop offset="1.000" stop-color="#ff0078"/></linearGradient><linearGradient id="g67" gradientUnits="userSpaceOnUse" x1="190.6" y1="0" x2="359.8" y2="0"><stop offset="0.000" stop-color="#00fffc"/><stop offset="0.029" stop-color="#4dfffe"/><stop offset="0.059" stop-color="#77feff"/><stop offset="0.088" stop-color="#94fbff"/><stop offset="0.118" stop-color="#abf9ff"/><stop offset="0.147" stop-color="#bff6ff"/><stop offset="0.176" stop-color="#d1f3ff"/><stop offset="0.206" stop-color="#e2f0ff"/><stop offset="0.235" stop-color="#f1edff"/><stop offset="0.265" stop-color="#ffeafe"/><stop offset="0.294" stop-color="#ffdbf1"/><stop offset="0.324" stop-color="#ffcde6"/><stop offset="0.353" stop-color="#ffc1dc"/><stop offset="0.382" stop-color="#ffb6d3"/><stop offset="0.412" stop-color="#ffaccb"/><stop offset="0.441" stop-color="#ffa3c4"/><stop offset="0.471" stop-color="#ff9abe"/><stop offset="0.500" stop-color="#ff92b7"/><stop offset="0.529" stop-color="#ff8ab2"/><stop offset="0.559" stop-color="#ff83ad"/><stop offset="0.588" stop-color="#ff7ca8"/><stop offset="0.618" stop-color="#ff75a3"/><stop offset="0.647" stop-color="#ff6e9f"/><stop offset="0.676" stop-color="#ff679b"/><stop offset="0.706" stop-color="#ff6097"/><stop offset="0.735" stop-color="#ff5a93"/><stop offset="0.765" stop-color="#ff5390"/><stop offset="0.794" stop-color="#ff4c8d"/><stop offset="0.824" stop-color="#ff458a"/><stop offset="0.853" stop-color="#ff3d87"/><stop offset="0.882" stop-color="#ff3584"/><stop offset="0.912" stop-color="#ff2c81"/><stop offset="0.941" stop-color="#ff217e"/><stop offset="0.971" stop-color="#ff127c"/><stop offset="1.000" stop-color="#ff0079"/></linearGradient><linearGradient id="g68" gradientUnits="userSpaceOnUse" x1="190.7" y1="0" x2="359.1" y2="0"><stop offset="0.000" stop-color="#00fffe"/><stop offset="0.029" stop-color="#4cfeff"/><stop offset="0.059" stop-color="#76fbff"/><stop offset="0.088" stop-color="#92f9ff"/><stop offset="0.118" stop-color="#a9f6ff"/><stop offset="0.147" stop-color="#bdf4ff"/><stop offset="0.176" stop-color="#cff1ff"/><stop offset="0.206" stop-color="#e0eeff"/><stop offset="0.235" stop-color="#efebff"/><stop offset="0.265" stop-color="#fde8ff"/><stop offset="0.294" stop-color="#ffdbf4"/><stop offset="0.324" stop-color="#ffcde8"/><stop offset="0.353" stop-color="#ffc1de"/><stop offset="0.382" stop-color="#ffb6d5"/><stop offset="0.412" stop-color="#ffaccd"/><stop offset="0.441" stop-color="#ffa3c6"/><stop offset="0.471" stop-color="#ff9ac0"/><stop offset="0.500" stop-color="#ff92b9"/><stop offset="0.529" stop-color="#ff8ab4"/><stop offset="0.559" stop-color="#ff83af"/><stop offset="0.588" stop-color="#ff7caa"/><stop offset="0.618" stop-color="#ff75a5"/><stop offset="0.647" stop-color="#ff6ea1"/><stop offset="0.676" stop-color="#ff679d"/><stop offset="0.706" stop-color="#ff6099"/><stop offset="0.735" stop-color="#ff5a95"/><stop offset="0.765" stop-color="#ff5392"/><stop offset="0.794" stop-color="#ff4c8e"/><stop offset="0.824" stop-color="#ff458b"/><stop offset="0.853" stop-color="#ff3d88"/><stop offset="0.882" stop-color="#ff3585"/><stop offset="0.912" stop-color="#ff2c83"/><stop offset="0.941" stop-color="#ff2180"/><stop offset="0.971" stop-color="#ff127d"/><stop offset="1.000" stop-color="#ff007b"/></linearGradient><linearGradient id="g69" gradientUnits="userSpaceOnUse" x1="190.9" y1="0" x2="358.3" y2="0"><stop offset="0.000" stop-color="#00feff"/><stop offset="0.030" stop-color="#4dfcff"/><stop offset="0.061" stop-color="#76f9ff"/><stop offset="0.091" stop-color="#93f6ff"/><stop offset="0.121" stop-color="#aaf4ff"/><stop offset="0.152" stop-color="#bef1ff"/><stop offset="0.182" stop-color="#d0eeff"/><stop offset="0.212" stop-color="#e1ebff"/><stop offset="0.242" stop-color="#f0e8ff"/><stop offset="0.273" stop-color="#fee5ff"/><stop offset="0.303" stop-color="#ffd6f3"/><stop offset="0.333" stop-color="#ffc9e7"/><stop offset="0.364" stop-color="#ffbddd"/><stop offset="0.394" stop-color="#ffb2d4"/><stop offset="0.424" stop-color="#ffa8cc"/><stop offset="0.455" stop-color="#ff9fc5"/><stop offset="0.485" stop-color="#ff96bf"/><stop offset="0.515" stop-color="#ff8eb8"/><stop offset="0.545" stop-color="#ff86b3"/><stop offset="0.576" stop-color="#ff7fae"/><stop offset="0.606" stop-color="#ff77a9"/><stop offset="0.636" stop-color="#ff70a4"/><stop offset="0.667" stop-color="#ff69a0"/><stop offset="0.697" stop-color="#ff629c"/><stop offset="0.727" stop-color="#ff5c98"/><stop offset="0.758" stop-color="#ff5594"/><stop offset="0.788" stop-color="#ff4e91"/><stop offset="0.818" stop-color="#ff468e"/><stop offset="0.848" stop-color="#ff3f8a"/><stop offset="0.879" stop-color="#ff3687"/><stop offset="0.909" stop-color="#ff2d85"/><stop offset="0.939" stop-color="#ff2282"/><stop offset="0.970" stop-color="#ff137f"/><stop offset="1.000" stop-color="#ff007d"/></linearGradient><linearGradient id="g70" gradientUnits="userSpaceOnUse" x1="191.0" y1="0" x2="357.6" y2="0"><stop offset="0.000" stop-color="#00fcff"/><stop offset="0.030" stop-color="#4cf9ff"/><stop offset="0.061" stop-color="#75f7ff"/><stop offset="0.091" stop-color="#92f4ff"/><stop offset="0.121" stop-color="#a9f2ff"/><stop offset="0.152" stop-color="#bdefff"/><stop offset="0.182" stop-color="#ceecff"/><stop offset="0.212" stop-color="#dfe9ff"/><stop offset="0.242" stop-color="#eee6ff"/><stop offset="0.273" stop-color="#fce3ff"/><stop offset="0.303" stop-color="#ffd6f5"/><stop offset="0.333" stop-color="#ffc9e9"/><stop offset="0.364" stop-color="#ffbddf"/><stop offset="0.394" stop-color="#ffb2d6"/><stop offset="0.424" stop-color="#ffa8ce"/><stop offset="0.455" stop-color="#ff9fc7"/><stop offset="0.485" stop-color="#ff96c0"/><stop offset="0.515" stop-color="#ff8eba"/><stop offset="0.545" stop-color="#ff86b5"/><stop offset="0.576" stop-color="#ff7faf"/><stop offset="0.606" stop-color="#ff77ab"/><stop offset="0.636" stop-color="#ff70a6"/><stop offset="0.667" stop-color="#ff69a2"/><stop offset="0.697" stop-color="#ff629e"/><stop offset="0.727" stop-color="#ff5c9a"/><stop offset="0.758" stop-color="#ff5596"/><stop offset="0.788" stop-color="#ff4e93"/><stop offset="0.818" stop-color="#ff468f"/><stop offset="0.848" stop-color="#ff3f8c"/><stop offset="0.879" stop-color="#ff3689"/><stop offset="0.909" stop-color="#ff2d86"/><stop offset="0.939" stop-color="#ff2283"/><stop offset="0.970" stop-color="#ff1381"/><stop offset="1.000" stop-color="#ff007e"/></linearGradient><linearGradient id="g71" gradientUnits="userSpaceOnUse" x1="191.1" y1="0" x2="356.8" y2="0"><stop offset="0.000" stop-color="#00faff"/><stop offset="0.030" stop-color="#4cf7ff"/><stop offset="0.061" stop-color="#74f5ff"/><stop offset="0.091" stop-color="#90f2ff"/><stop offset="0.121" stop-color="#a7efff"/><stop offset="0.152" stop-color="#bbedff"/><stop offset="0.182" stop-color="#cdeaff"/><stop offset="0.212" stop-color="#dde7ff"/><stop offset="0.242" stop-color="#ece4ff"/><stop offset="0.273" stop-color="#fae1ff"/><stop offset="0.303" stop-color="#ffd6f7"/><stop offset="0.333" stop-color="#ffc9ec"/><stop offset="0.364" stop-color="#ffbde2"/><stop offset="0.394" stop-color="#ffb2d9"/><stop offset="0.424" stop-color="#ffa8d1"/><stop offset="0.455" stop-color="#ff9fc9"/><stop offset="0.485" stop-color="#ff96c2"/><stop offset="0.515" stop-color="#ff8ebc"/><stop offset="0.545" stop-color="#ff86b7"/><stop offset="0.576" stop-color="#ff7fb1"/><stop offset="0.606" stop-color="#ff77ac"/><stop offset="0.636" stop-color="#ff70a8"/><stop offset="0.667" stop-color="#ff69a3"/><stop offset="0.697" stop-color="#ff629f"/><stop offset="0.727" stop-color="#ff5c9b"/><stop offset="0.758" stop-color="#ff5598"/><stop offset="0.788" stop-color="#ff4e94"/><stop offset="0.818" stop-color="#ff4691"/><stop offset="0.848" stop-color="#ff3f8e"/><stop offset="0.879" stop-color="#ff368b"/><stop offset="0.909" stop-color="#ff2d88"/><stop offset="0.939" stop-color="#ff2285"/><stop offset="0.970" stop-color="#ff1382"/><stop offset="1.000" stop-color="#ff0080"/></linearGradient><linearGradient id="g72" gradientUnits="userSpaceOnUse" x1="191.2" y1="0" x2="356.1" y2="0"><stop offset="0.000" stop-color="#00f7ff"/><stop offset="0.030" stop-color="#4bf5ff"/><stop offset="0.061" stop-color="#73f2ff"/><stop offset="0.091" stop-color="#8ff0ff"/><stop offset="0.121" stop-color="#a6edff"/><stop offset="0.152" stop-color="#b9eaff"/><stop offset="0.182" stop-color="#cbe8ff"/><stop offset="0.212" stop-color="#dbe5ff"/><stop offset="0.242" stop-color="#e9e2ff"/><stop offset="0.273" stop-color="#f7deff"/><stop offset="0.303" stop-color="#ffd6fa"/><stop offset="0.333" stop-color="#ffc9ee"/><stop offset="0.364" stop-color="#ffbde4"/><stop offset="0.394" stop-color="#ffb2db"/><stop offset="0.424" stop-color="#ffa8d3"/><stop offset="0.455" stop-color="#ff9fcb"/><stop offset="0.485" stop-color="#ff96c4"/><stop offset="0.515" stop-color="#ff8ebe"/><stop offset="0.545" stop-color="#ff86b9"/><stop offset="0.576" stop-color="#ff7fb3"/><stop offset="0.606" stop-color="#ff77ae"/><stop offset="0.636" stop-color="#ff70aa"/><stop offset="0.667" stop-color="#ff69a5"/><stop offset="0.697" stop-color="#ff62a1"/><stop offset="0.727" stop-color="#ff5c9d"/><stop offset="0.758" stop-color="#ff559a"/><stop offset="0.788" stop-color="#ff4e96"/><stop offset="0.818" stop-color="#ff4693"/><stop offset="0.848" stop-color="#ff3f8f"/><stop offset="0.879" stop-color="#ff368c"/><stop offset="0.909" stop-color="#ff2d8a"/><stop offset="0.939" stop-color="#ff2287"/><stop offset="0.970" stop-color="#ff1384"/><stop offset="1.000" stop-color="#ff0081"/></linearGradient><linearGradient id="g73" gradientUnits="userSpaceOnUse" x1="191.4" y1="0" x2="355.3" y2="0"><stop offset="0.000" stop-color="#00f5ff"/><stop offset="0.030" stop-color="#4af3ff"/><stop offset="0.061" stop-color="#72f0ff"/><stop offset="0.091" stop-color="#8eeeff"/><stop offset="0.121" stop-color="#a4ebff"/><stop offset="0.152" stop-color="#b7e8ff"/><stop offset="0.182" stop-color="#c9e6ff"/><stop offset="0.212" stop-color="#d9e3ff"/><stop offset="0.242" stop-color="#e7e0ff"/><stop offset="0.273" stop-color="#f5dcff"/><stop offset="0.303" stop-color="#ffd6fc"/><stop offset="0.333" stop-color="#ffc9f0"/><stop offset="0.364" stop-color="#ffbde6"/><stop offset="0.394" stop-color="#ffb2dd"/><stop offset="0.424" stop-color="#ffa8d5"/><stop offset="0.455" stop-color="#ff9fcd"/><stop offset="0.485" stop-color="#ff96c6"/><stop offset="0.515" stop-color="#ff8ec0"/><stop offset="0.545" stop-color="#ff86ba"/><stop offset="0.576" stop-color="#ff7fb5"/><stop offset="0.606" stop-color="#ff77b0"/><stop offset="0.636" stop-color="#ff70ab"/><stop offset="0.667" stop-color="#ff69a7"/><stop offset="0.697" stop-color="#ff62a3"/><stop offset="0.727" stop-color="#ff5c9f"/><stop offset="0.758" stop-color="#ff559b"/><stop offset="0.788" stop-color="#ff4e98"/><stop offset="0.818" stop-color="#ff4694"/><stop offset="0.848" stop-color="#ff3f91"/><stop offset="0.879" stop-color="#ff368e"/><stop offset="0.909" stop-color="#ff2d8b"/><stop offset="0.939" stop-color="#ff2288"/><stop offset="0.970" stop-color="#ff1386"/><stop offset="1.000" stop-color="#ff0083"/></linearGradient><linearGradient id="g74" gradientUnits="userSpaceOnUse" x1="191.5" y1="0" x2="354.6" y2="0"><stop offset="0.000" stop-color="#00f3ff"/><stop offset="0.030" stop-color="#49f1ff"/><stop offset="0.061" stop-color="#71eeff"/><stop offset="0.091" stop-color="#8cecff"/><stop offset="0.121" stop-color="#a3e9ff"/><stop offset="0.152" stop-color="#b6e6ff"/><stop offset="0.182" stop-color="#c7e4ff"/><stop offset="0.212" stop-color="#d7e1ff"/><stop offset="0.242" stop-color="#e5deff"/><stop offset="0.273" stop-color="#f3daff"/><stop offset="0.303" stop-color="#ffd6fe"/><stop offset="0.333" stop-color="#ffc9f3"/><stop offset="0.364" stop-color="#ffbde8"/><stop offset="0.394" stop-color="#ffb2df"/><stop offset="0.424" stop-color="#ffa8d7"/><stop offset="0.455" stop-color="#ff9fcf"/><stop offset="0.485" stop-color="#ff96c8"/><stop offset="0.515" stop-color="#ff8ec2"/><stop offset="0.545" stop-color="#ff86bc"/><stop offset="0.576" stop-color="#ff7fb7"/><stop offset="0.606" stop-color="#ff77b2"/><stop offset="0.636" stop-color="#ff70ad"/><stop offset="0.667" stop-color="#ff69a9"/><stop offset="0.697" stop-color="#ff62a5"/><stop offset="0.727" stop-color="#ff5ca1"/><stop offset="0.758" stop-color="#ff559d"/><stop offset="0.788" stop-color="#ff4e99"/><stop offset="0.818" stop-color="#ff4696"/><stop offset="0.848" stop-color="#ff3e93"/><stop offset="0.879" stop-color="#ff3690"/><stop offset="0.909" stop-color="#ff2d8d"/><stop offset="0.939" stop-color="#ff228a"/><stop offset="0.970" stop-color="#ff1387"/><stop offset="1.000" stop-color="#ff0085"/></linearGradient><linearGradient id="g75" gradientUnits="userSpaceOnUse" x1="191.6" y1="0" x2="353.8" y2="0"><stop offset="0.000" stop-color="#00f1ff"/><stop offset="0.031" stop-color="#4aefff"/><stop offset="0.063" stop-color="#72ecff"/><stop offset="0.094" stop-color="#8deaff"/><stop offset="0.125" stop-color="#a4e7ff"/><stop offset="0.156" stop-color="#b7e4ff"/><stop offset="0.188" stop-color="#c8e1ff"/><stop offset="0.219" stop-color="#d8deff"/><stop offset="0.250" stop-color="#e7dbff"/><stop offset="0.281" stop-color="#f4d7ff"/><stop offset="0.313" stop-color="#ffd2fd"/><stop offset="0.344" stop-color="#ffc5f1"/><stop offset="0.375" stop-color="#ffb9e7"/><stop offset="0.406" stop-color="#ffaede"/><stop offset="0.437" stop-color="#ffa4d5"/><stop offset="0.469" stop-color="#ff9bce"/><stop offset="0.500" stop-color="#ff92c7"/><stop offset="0.531" stop-color="#ff8ac1"/><stop offset="0.562" stop-color="#ff82bb"/><stop offset="0.594" stop-color="#ff7ab6"/><stop offset="0.625" stop-color="#ff73b1"/><stop offset="0.656" stop-color="#ff6cac"/><stop offset="0.688" stop-color="#ff65a8"/><stop offset="0.719" stop-color="#ff5da4"/><stop offset="0.750" stop-color="#ff56a0"/><stop offset="0.781" stop-color="#ff4f9c"/><stop offset="0.812" stop-color="#ff4898"/><stop offset="0.844" stop-color="#ff4095"/><stop offset="0.875" stop-color="#ff3792"/><stop offset="0.906" stop-color="#ff2e8f"/><stop offset="0.937" stop-color="#ff238c"/><stop offset="0.969" stop-color="#ff1389"/><stop offset="1.000" stop-color="#ff0086"/></linearGradient><linearGradient id="g76" gradientUnits="userSpaceOnUse" x1="191.7" y1="0" x2="353.0" y2="0"><stop offset="0.000" stop-color="#00efff"/><stop offset="0.031" stop-color="#49edff"/><stop offset="0.063" stop-color="#71eaff"/><stop offset="0.094" stop-color="#8ce8ff"/><stop offset="0.125" stop-color="#a2e5ff"/><stop offset="0.156" stop-color="#b5e2ff"/><stop offset="0.187" stop-color="#c6dfff"/><stop offset="0.219" stop-color="#d6dcff"/><stop offset="0.250" stop-color="#e5d9ff"/><stop offset="0.281" stop-color="#f2d6ff"/><stop offset="0.313" stop-color="#ffd2ff"/><stop offset="0.344" stop-color="#ffc5f3"/><stop offset="0.375" stop-color="#ffb9e9"/><stop offset="0.406" stop-color="#ffaee0"/><stop offset="0.437" stop-color="#ffa4d7"/><stop offset="0.469" stop-color="#ff9bd0"/><stop offset="0.500" stop-color="#ff92c9"/><stop offset="0.531" stop-color="#ff8ac3"/><stop offset="0.562" stop-color="#ff82bd"/><stop offset="0.594" stop-color="#ff7ab8"/><stop offset="0.625" stop-color="#ff73b3"/><stop offset="0.656" stop-color="#ff6cae"/><stop offset="0.687" stop-color="#ff65a9"/><stop offset="0.719" stop-color="#ff5da5"/><stop offset="0.750" stop-color="#ff56a1"/><stop offset="0.781" stop-color="#ff4f9e"/><stop offset="0.812" stop-color="#ff489a"/><stop offset="0.844" stop-color="#ff4097"/><stop offset="0.875" stop-color="#ff3793"/><stop offset="0.906" stop-color="#ff2e90"/><stop offset="0.938" stop-color="#ff238d"/><stop offset="0.969" stop-color="#ff138b"/><stop offset="1.000" stop-color="#ff0088"/></linearGradient><linearGradient id="g77" gradientUnits="userSpaceOnUse" x1="191.9" y1="0" x2="352.3" y2="0"><stop offset="0.000" stop-color="#00edff"/><stop offset="0.031" stop-color="#48ebff"/><stop offset="0.063" stop-color="#6fe8ff"/><stop offset="0.094" stop-color="#8be6ff"/><stop offset="0.125" stop-color="#a1e3ff"/><stop offset="0.156" stop-color="#b4e0ff"/><stop offset="0.188" stop-color="#c5ddff"/><stop offset="0.219" stop-color="#d4daff"/><stop offset="0.250" stop-color="#e2d7ff"/><stop offset="0.281" stop-color="#f0d4ff"/><stop offset="0.312" stop-color="#fdd0ff"/><stop offset="0.344" stop-color="#ffc5f5"/><stop offset="0.375" stop-color="#ffb9eb"/><stop offset="0.406" stop-color="#ffaee2"/><stop offset="0.438" stop-color="#ffa4d9"/><stop offset="0.469" stop-color="#ff9bd2"/><stop offset="0.500" stop-color="#ff92cb"/><stop offset="0.531" stop-color="#ff8ac5"/><stop offset="0.562" stop-color="#ff82bf"/><stop offset="0.594" stop-color="#ff7ab9"/><stop offset="0.625" stop-color="#ff73b4"/><stop offset="0.656" stop-color="#ff6cb0"/><stop offset="0.688" stop-color="#ff65ab"/><stop offset="0.719" stop-color="#ff5da7"/><stop offset="0.750" stop-color="#ff56a3"/><stop offset="0.781" stop-color="#ff4f9f"/><stop offset="0.812" stop-color="#ff489c"/><stop offset="0.844" stop-color="#ff4098"/><stop offset="0.875" stop-color="#ff3795"/><stop offset="0.906" stop-color="#ff2e92"/><stop offset="0.938" stop-color="#ff238f"/><stop offset="0.969" stop-color="#ff138c"/><stop offset="1.000" stop-color="#ff0089"/></linearGradient><linearGradient id="g78" gradientUnits="userSpaceOnUse" x1="192.0" y1="0" x2="351.5" y2="0"><stop offset="0.000" stop-color="#00ebff"/><stop offset="0.031" stop-color="#48e9ff"/><stop offset="0.062" stop-color="#6ee6ff"/><stop offset="0.094" stop-color="#89e4ff"/><stop offset="0.125" stop-color="#9fe1ff"/><stop offset="0.156" stop-color="#b2deff"/><stop offset="0.188" stop-color="#c3dbff"/><stop offset="0.219" stop-color="#d2d8ff"/><stop offset="0.250" stop-color="#e0d5ff"/><stop offset="0.281" stop-color="#eed2ff"/><stop offset="0.312" stop-color="#faceff"/><stop offset="0.344" stop-color="#ffc5f8"/><stop offset="0.375" stop-color="#ffb9ed"/><stop offset="0.406" stop-color="#ffaee4"/><stop offset="0.437" stop-color="#ffa4dc"/><stop offset="0.469" stop-color="#ff9bd4"/><stop offset="0.500" stop-color="#ff92cd"/><stop offset="0.531" stop-color="#ff8ac7"/><stop offset="0.562" stop-color="#ff82c1"/><stop offset="0.594" stop-color="#ff7abb"/><stop offset="0.625" stop-color="#ff73b6"/><stop offset="0.656" stop-color="#ff6cb1"/><stop offset="0.688" stop-color="#ff65ad"/><stop offset="0.719" stop-color="#ff5da9"/><stop offset="0.750" stop-color="#ff56a5"/><stop offset="0.781" stop-color="#ff4fa1"/><stop offset="0.813" stop-color="#ff489d"/><stop offset="0.844" stop-color="#ff409a"/><stop offset="0.875" stop-color="#ff3797"/><stop offset="0.906" stop-color="#ff2e94"/><stop offset="0.938" stop-color="#ff2391"/><stop offset="0.969" stop-color="#ff138e"/><stop offset="1.000" stop-color="#ff008b"/></linearGradient><linearGradient id="g79" gradientUnits="userSpaceOnUse" x1="192.1" y1="0" x2="350.8" y2="0"><stop offset="0.000" stop-color="#00e9ff"/><stop offset="0.031" stop-color="#47e7ff"/><stop offset="0.062" stop-color="#6de4ff"/><stop offset="0.094" stop-color="#88e2ff"/><stop offset="0.125" stop-color="#9edfff"/><stop offset="0.156" stop-color="#b1dcff"/><stop offset="0.187" stop-color="#c1d9ff"/><stop offset="0.219" stop-color="#d0d6ff"/><stop offset="0.250" stop-color="#dfd3ff"/><stop offset="0.281" stop-color="#ecd0ff"/><stop offset="0.312" stop-color="#f8cdff"/><stop offset="0.344" stop-color="#ffc5fa"/><stop offset="0.375" stop-color="#ffb9ef"/><stop offset="0.406" stop-color="#ffaee6"/><stop offset="0.438" stop-color="#ffa4de"/><stop offset="0.469" stop-color="#ff9bd6"/><stop offset="0.500" stop-color="#ff92cf"/><stop offset="0.531" stop-color="#ff8ac8"/><stop offset="0.562" stop-color="#ff82c3"/><stop offset="0.594" stop-color="#ff7abd"/><stop offset="0.625" stop-color="#ff73b8"/><stop offset="0.656" stop-color="#ff6cb3"/><stop offset="0.687" stop-color="#ff65af"/><stop offset="0.719" stop-color="#ff5daa"/><stop offset="0.750" stop-color="#ff56a6"/><stop offset="0.781" stop-color="#ff4fa3"/><stop offset="0.812" stop-color="#ff489f"/><stop offset="0.844" stop-color="#ff409c"/><stop offset="0.875" stop-color="#ff3798"/><stop offset="0.906" stop-color="#ff2e95"/><stop offset="0.938" stop-color="#ff2392"/><stop offset="0.969" stop-color="#ff138f"/><stop offset="1.000" stop-color="#ff008d"/></linearGradient><linearGradient id="g80" gradientUnits="userSpaceOnUse" x1="192.2" y1="0" x2="350.0" y2="0"><stop offset="0.000" stop-color="#00e8ff"/><stop offset="0.031" stop-color="#46e5ff"/><stop offset="0.063" stop-color="#6ce3ff"/><stop offset="0.094" stop-color="#87e0ff"/><stop offset="0.125" stop-color="#9dddff"/><stop offset="0.156" stop-color="#afdaff"/><stop offset="0.188" stop-color="#c0d7ff"/><stop offset="0.219" stop-color="#cfd4ff"/><stop offset="0.250" stop-color="#ddd1ff"/><stop offset="0.281" stop-color="#eaceff"/><stop offset="0.313" stop-color="#f6cbff"/><stop offset="0.344" stop-color="#ffc5fc"/><stop offset="0.375" stop-color="#ffb9f2"/><stop offset="0.406" stop-color="#ffaee8"/><stop offset="0.437" stop-color="#ffa4e0"/><stop offset="0.469" stop-color="#ff9bd8"/><stop offset="0.500" stop-color="#ff92d1"/><stop offset="0.531" stop-color="#ff8aca"/><stop offset="0.562" stop-color="#ff82c4"/><stop offset="0.594" stop-color="#ff7abf"/><stop offset="0.625" stop-color="#ff73ba"/><stop offset="0.656" stop-color="#ff6cb5"/><stop offset="0.688" stop-color="#ff65b0"/><stop offset="0.719" stop-color="#ff5dac"/><stop offset="0.750" stop-color="#ff56a8"/><stop offset="0.781" stop-color="#ff4fa4"/><stop offset="0.812" stop-color="#ff48a1"/><stop offset="0.844" stop-color="#ff409d"/><stop offset="0.875" stop-color="#ff379a"/><stop offset="0.906" stop-color="#ff2e97"/><stop offset="0.937" stop-color="#ff2394"/><stop offset="0.969" stop-color="#ff1391"/><stop offset="1.000" stop-color="#ff008e"/></linearGradient><linearGradient id="g81" gradientUnits="userSpaceOnUse" x1="192.4" y1="0" x2="349.3" y2="0"><stop offset="0.000" stop-color="#00e6ff"/><stop offset="0.032" stop-color="#47e3ff"/><stop offset="0.065" stop-color="#6de1ff"/><stop offset="0.097" stop-color="#88deff"/><stop offset="0.129" stop-color="#9edbff"/><stop offset="0.161" stop-color="#b0d8ff"/><stop offset="0.194" stop-color="#c1d5ff"/><stop offset="0.226" stop-color="#d0d2ff"/><stop offset="0.258" stop-color="#decfff"/><stop offset="0.290" stop-color="#ebcbff"/><stop offset="0.323" stop-color="#f8c8ff"/><stop offset="0.355" stop-color="#ffc1fa"/><stop offset="0.387" stop-color="#ffb5f0"/><stop offset="0.419" stop-color="#ffaae6"/><stop offset="0.452" stop-color="#ffa0de"/><stop offset="0.484" stop-color="#ff97d6"/><stop offset="0.516" stop-color="#ff8ecf"/><stop offset="0.548" stop-color="#ff86c9"/><stop offset="0.581" stop-color="#ff7ec3"/><stop offset="0.613" stop-color="#ff76bd"/><stop offset="0.645" stop-color="#ff6eb8"/><stop offset="0.677" stop-color="#ff67b4"/><stop offset="0.710" stop-color="#ff60af"/><stop offset="0.742" stop-color="#ff58ab"/><stop offset="0.774" stop-color="#ff51a7"/><stop offset="0.806" stop-color="#ff49a3"/><stop offset="0.839" stop-color="#ff419f"/><stop offset="0.871" stop-color="#ff389c"/><stop offset="0.903" stop-color="#ff2f99"/><stop offset="0.935" stop-color="#ff2396"/><stop offset="0.968" stop-color="#ff1493"/><stop offset="1.000" stop-color="#ff0090"/></linearGradient><linearGradient id="g82" gradientUnits="userSpaceOnUse" x1="192.5" y1="0" x2="348.5" y2="0"><stop offset="0.000" stop-color="#00e4ff"/><stop offset="0.032" stop-color="#46e1ff"/><stop offset="0.065" stop-color="#6cdfff"/><stop offset="0.097" stop-color="#87dcff"/><stop offset="0.129" stop-color="#9cd9ff"/><stop offset="0.161" stop-color="#afd6ff"/><stop offset="0.194" stop-color="#bfd3ff"/><stop offset="0.226" stop-color="#ced0ff"/><stop offset="0.258" stop-color="#dccdff"/><stop offset="0.290" stop-color="#e9caff"/><stop offset="0.323" stop-color="#f6c6ff"/><stop offset="0.355" stop-color="#ffc1fd"/><stop offset="0.387" stop-color="#ffb5f2"/><stop offset="0.419" stop-color="#ffaae9"/><stop offset="0.452" stop-color="#ffa0e0"/><stop offset="0.484" stop-color="#ff97d8"/><stop offset="0.516" stop-color="#ff8ed1"/><stop offset="0.548" stop-color="#ff86cb"/><stop offset="0.581" stop-color="#ff7ec5"/><stop offset="0.613" stop-color="#ff76bf"/><stop offset="0.645" stop-color="#ff6eba"/><stop offset="0.677" stop-color="#ff67b5"/><stop offset="0.710" stop-color="#ff60b1"/><stop offset="0.742" stop-color="#ff58ad"/><stop offset="0.774" stop-color="#ff51a8"/><stop offset="0.806" stop-color="#ff49a5"/><stop offset="0.839" stop-color="#ff41a1"/><stop offset="0.871" stop-color="#ff389e"/><stop offset="0.903" stop-color="#ff2f9a"/><stop offset="0.935" stop-color="#ff2397"/><stop offset="0.968" stop-color="#ff1494"/><stop offset="1.000" stop-color="#ff0091"/></linearGradient><linearGradient id="g83" gradientUnits="userSpaceOnUse" x1="192.6" y1="0" x2="347.8" y2="0"><stop offset="0.000" stop-color="#00e2ff"/><stop offset="0.032" stop-color="#46e0ff"/><stop offset="0.065" stop-color="#6bddff"/><stop offset="0.097" stop-color="#86daff"/><stop offset="0.129" stop-color="#9bd7ff"/><stop offset="0.161" stop-color="#add5ff"/><stop offset="0.194" stop-color="#bed2ff"/><stop offset="0.226" stop-color="#cdceff"/><stop offset="0.258" stop-color="#dacbff"/><stop offset="0.290" stop-color="#e7c8ff"/><stop offset="0.323" stop-color="#f4c4ff"/><stop offset="0.355" stop-color="#ffc1ff"/><stop offset="0.387" stop-color="#ffb5f4"/><stop offset="0.419" stop-color="#ffaaeb"/><stop offset="0.452" stop-color="#ffa0e2"/><stop offset="0.484" stop-color="#ff97da"/><stop offset="0.516" stop-color="#ff8ed3"/><stop offset="0.548" stop-color="#ff86cd"/><stop offset="0.581" stop-color="#ff7ec7"/><stop offset="0.613" stop-color="#ff76c1"/><stop offset="0.645" stop-color="#ff6ebc"/><stop offset="0.677" stop-color="#ff67b7"/><stop offset="0.710" stop-color="#ff60b3"/><stop offset="0.742" stop-color="#ff58ae"/><stop offset="0.774" stop-color="#ff51aa"/><stop offset="0.806" stop-color="#ff49a6"/><stop offset="0.839" stop-color="#ff41a3"/><stop offset="0.871" stop-color="#ff389f"/><stop offset="0.903" stop-color="#ff2f9c"/><stop offset="0.935" stop-color="#ff2399"/><stop offset="0.968" stop-color="#ff1496"/><stop offset="1.000" stop-color="#ff0093"/></linearGradient><linearGradient id="g84" gradientUnits="userSpaceOnUse" x1="192.7" y1="0" x2="347.0" y2="0"><stop offset="0.000" stop-color="#00e0ff"/><stop offset="0.032" stop-color="#45deff"/><stop offset="0.065" stop-color="#6adbff"/><stop offset="0.097" stop-color="#85d8ff"/><stop offset="0.129" stop-color="#9ad6ff"/><stop offset="0.161" stop-color="#acd3ff"/><stop offset="0.194" stop-color="#bcd0ff"/><stop offset="0.226" stop-color="#cbcdff"/><stop offset="0.258" stop-color="#d9caff"/><stop offset="0.290" stop-color="#e5c6ff"/><stop offset="0.323" stop-color="#f1c3ff"/><stop offset="0.355" stop-color="#fdbfff"/><stop offset="0.387" stop-color="#ffb5f6"/><stop offset="0.419" stop-color="#ffaaed"/><stop offset="0.452" stop-color="#ffa0e4"/><stop offset="0.484" stop-color="#ff97dc"/><stop offset="0.516" stop-color="#ff8ed5"/><stop offset="0.548" stop-color="#ff86cf"/><stop offset="0.581" stop-color="#ff7ec8"/><stop offset="0.613" stop-color="#ff76c3"/><stop offset="0.645" stop-color="#ff6ebe"/><stop offset="0.677" stop-color="#ff67b9"/><stop offset="0.710" stop-color="#ff5fb4"/><stop offset="0.742" stop-color="#ff58b0"/><stop offset="0.774" stop-color="#ff51ac"/><stop offset="0.806" stop-color="#ff49a8"/><stop offset="0.839" stop-color="#ff41a4"/><stop offset="0.871" stop-color="#ff38a1"/><stop offset="0.903" stop-color="#ff2f9e"/><stop offset="0.935" stop-color="#ff239a"/><stop offset="0.968" stop-color="#ff1497"/><stop offset="1.000" stop-color="#ff0094"/></linearGradient><linearGradient id="g85" gradientUnits="userSpaceOnUse" x1="192.9" y1="0" x2="346.2" y2="0"><stop offset="0.000" stop-color="#00dfff"/><stop offset="0.032" stop-color="#44dcff"/><stop offset="0.065" stop-color="#6ad9ff"/><stop offset="0.097" stop-color="#83d7ff"/><stop offset="0.129" stop-color="#98d4ff"/><stop offset="0.161" stop-color="#aad1ff"/><stop offset="0.194" stop-color="#baceff"/><stop offset="0.226" stop-color="#c9cbff"/><stop offset="0.258" stop-color="#d7c8ff"/><stop offset="0.290" stop-color="#e3c5ff"/><stop offset="0.323" stop-color="#efc1ff"/><stop offset="0.355" stop-color="#fbbeff"/><stop offset="0.387" stop-color="#ffb5f8"/><stop offset="0.419" stop-color="#ffaaef"/><stop offset="0.452" stop-color="#ffa0e6"/><stop offset="0.484" stop-color="#ff97de"/><stop offset="0.516" stop-color="#ff8ed7"/><stop offset="0.548" stop-color="#ff86d0"/><stop offset="0.581" stop-color="#ff7eca"/><stop offset="0.613" stop-color="#ff76c5"/><stop offset="0.645" stop-color="#ff6ebf"/><stop offset="0.677" stop-color="#ff67bb"/><stop offset="0.710" stop-color="#ff5fb6"/><stop offset="0.742" stop-color="#ff58b2"/><stop offset="0.774" stop-color="#ff51ae"/><stop offset="0.806" stop-color="#ff49aa"/><stop offset="0.839" stop-color="#ff41a6"/><stop offset="0.871" stop-color="#ff38a2"/><stop offset="0.903" stop-color="#ff2f9f"/><stop offset="0.935" stop-color="#ff239c"/><stop offset="0.968" stop-color="#ff1499"/><stop offset="1.000" stop-color="#ff0096"/></linearGradient><linearGradient id="g86" gradientUnits="userSpaceOnUse" x1="193.0" y1="0" x2="345.5" y2="0"><stop offset="0.000" stop-color="#00ddff"/><stop offset="0.032" stop-color="#44daff"/><stop offset="0.065" stop-color="#69d8ff"/><stop offset="0.097" stop-color="#82d5ff"/><stop offset="0.129" stop-color="#97d2ff"/><stop offset="0.161" stop-color="#a9cfff"/><stop offset="0.194" stop-color="#b9ccff"/><stop offset="0.226" stop-color="#c7c9ff"/><stop offset="0.258" stop-color="#d5c6ff"/><stop offset="0.290" stop-color="#e2c3ff"/><stop offset="0.323" stop-color="#edbfff"/><stop offset="0.355" stop-color="#f9bcff"/><stop offset="0.387" stop-color="#ffb5fa"/><stop offset="0.419" stop-color="#ffaaf1"/><stop offset="0.452" stop-color="#ffa0e8"/><stop offset="0.484" stop-color="#ff97e0"/><stop offset="0.516" stop-color="#ff8ed9"/><stop offset="0.548" stop-color="#ff86d2"/><stop offset="0.581" stop-color="#ff7ecc"/><stop offset="0.613" stop-color="#ff76c6"/><stop offset="0.645" stop-color="#ff6ec1"/><stop offset="0.677" stop-color="#ff67bc"/><stop offset="0.710" stop-color="#ff5fb8"/><stop offset="0.742" stop-color="#ff58b3"/><stop offset="0.774" stop-color="#ff51af"/><stop offset="0.806" stop-color="#ff49ab"/><stop offset="0.839" stop-color="#ff41a8"/><stop offset="0.871" stop-color="#ff38a4"/><stop offset="0.903" stop-color="#ff2fa1"/><stop offset="0.935" stop-color="#ff239e"/><stop offset="0.968" stop-color="#ff149a"/><stop offset="1.000" stop-color="#ff0098"/></linearGradient><linearGradient id="g87" gradientUnits="userSpaceOnUse" x1="193.1" y1="0" x2="344.7" y2="0"><stop offset="0.000" stop-color="#00dbff"/><stop offset="0.033" stop-color="#44d9ff"/><stop offset="0.067" stop-color="#6ad6ff"/><stop offset="0.100" stop-color="#83d3ff"/><stop offset="0.133" stop-color="#98d0ff"/><stop offset="0.167" stop-color="#aacdff"/><stop offset="0.200" stop-color="#bacaff"/><stop offset="0.233" stop-color="#c9c7ff"/><stop offset="0.267" stop-color="#d7c4ff"/><stop offset="0.300" stop-color="#e3c0ff"/><stop offset="0.333" stop-color="#efbdff"/><stop offset="0.367" stop-color="#fbb9ff"/><stop offset="0.400" stop-color="#ffb0f9"/><stop offset="0.433" stop-color="#ffa6ef"/><stop offset="0.467" stop-color="#ff9ce6"/><stop offset="0.500" stop-color="#ff92de"/><stop offset="0.533" stop-color="#ff89d7"/><stop offset="0.567" stop-color="#ff81d1"/><stop offset="0.600" stop-color="#ff79cb"/><stop offset="0.633" stop-color="#ff71c5"/><stop offset="0.667" stop-color="#ff69c0"/><stop offset="0.700" stop-color="#ff62bb"/><stop offset="0.733" stop-color="#ff5ab6"/><stop offset="0.767" stop-color="#ff52b2"/><stop offset="0.800" stop-color="#ff4bae"/><stop offset="0.833" stop-color="#ff42aa"/><stop offset="0.867" stop-color="#ff39a6"/><stop offset="0.900" stop-color="#ff30a3"/><stop offset="0.933" stop-color="#ff249f"/><stop offset="0.967" stop-color="#ff149c"/><stop offset="1.000" stop-color="#ff0099"/></linearGradient><linearGradient id="g88" gradientUnits="userSpaceOnUse" x1="193.2" y1="0" x2="344.0" y2="0"><stop offset="0.000" stop-color="#00d9ff"/><stop offset="0.033" stop-color="#44d7ff"/><stop offset="0.067" stop-color="#69d4ff"/><stop offset="0.100" stop-color="#82d1ff"/><stop offset="0.133" stop-color="#97cfff"/><stop offset="0.167" stop-color="#a9ccff"/><stop offset="0.200" stop-color="#b9c9ff"/><stop offset="0.233" stop-color="#c7c5ff"/><stop offset="0.267" stop-color="#d5c2ff"/><stop offset="0.300" stop-color="#e1bfff"/><stop offset="0.333" stop-color="#edbbff"/><stop offset="0.367" stop-color="#f9b7ff"/><stop offset="0.400" stop-color="#ffb0fb"/><stop offset="0.433" stop-color="#ffa6f1"/><stop offset="0.467" stop-color="#ff9ce8"/><stop offset="0.500" stop-color="#ff92e0"/><stop offset="0.533" stop-color="#ff89d9"/><stop offset="0.567" stop-color="#ff81d2"/><stop offset="0.600" stop-color="#ff79cc"/><stop offset="0.633" stop-color="#ff71c7"/><stop offset="0.667" stop-color="#ff69c1"/><stop offset="0.700" stop-color="#ff62bc"/><stop offset="0.733" stop-color="#ff5ab8"/><stop offset="0.767" stop-color="#ff52b3"/><stop offset="0.800" stop-color="#ff4baf"/><stop offset="0.833" stop-color="#ff42ab"/><stop offset="0.867" stop-color="#ff39a8"/><stop offset="0.900" stop-color="#ff30a4"/><stop offset="0.933" stop-color="#ff24a1"/><stop offset="0.967" stop-color="#ff149e"/><stop offset="1.000" stop-color="#ff009b"/></linearGradient><linearGradient id="g89" gradientUnits="userSpaceOnUse" x1="193.4" y1="0" x2="343.2" y2="0"><stop offset="0.000" stop-color="#00d8ff"/><stop offset="0.033" stop-color="#43d5ff"/><stop offset="0.067" stop-color="#68d3ff"/><stop offset="0.100" stop-color="#81d0ff"/><stop offset="0.133" stop-color="#96cdff"/><stop offset="0.167" stop-color="#a8caff"/><stop offset="0.200" stop-color="#b7c7ff"/><stop offset="0.233" stop-color="#c6c4ff"/><stop offset="0.267" stop-color="#d3c0ff"/><stop offset="0.300" stop-color="#e0bdff"/><stop offset="0.333" stop-color="#ebbaff"/><stop offset="0.367" stop-color="#f7b6ff"/><stop offset="0.400" stop-color="#ffb0fd"/><stop offset="0.433" stop-color="#ffa6f3"/><stop offset="0.467" stop-color="#ff9cea"/><stop offset="0.500" stop-color="#ff92e2"/><stop offset="0.533" stop-color="#ff89db"/><stop offset="0.567" stop-color="#ff81d4"/><stop offset="0.600" stop-color="#ff79ce"/><stop offset="0.633" stop-color="#ff71c8"/><stop offset="0.667" stop-color="#ff69c3"/><stop offset="0.700" stop-color="#ff62be"/><stop offset="0.733" stop-color="#ff5aba"/><stop offset="0.767" stop-color="#ff52b5"/><stop offset="0.800" stop-color="#ff4ab1"/><stop offset="0.833" stop-color="#ff42ad"/><stop offset="0.867" stop-color="#ff39a9"/><stop offset="0.900" stop-color="#ff30a6"/><stop offset="0.933" stop-color="#ff24a2"/><stop offset="0.967" stop-color="#ff149f"/><stop offset="1.000" stop-color="#ff009c"/></linearGradient><linearGradient id="g90" gradientUnits="userSpaceOnUse" x1="193.5" y1="0" x2="342.5" y2="0"><stop offset="0.000" stop-color="#00d6ff"/><stop offset="0.033" stop-color="#42d4ff"/><stop offset="0.067" stop-color="#67d1ff"/><stop offset="0.100" stop-color="#80ceff"/><stop offset="0.133" stop-color="#95cbff"/><stop offset="0.167" stop-color="#a6c8ff"/><stop offset="0.200" stop-color="#b6c5ff"/><stop offset="0.233" stop-color="#c4c2ff"/><stop offset="0.267" stop-color="#d1bfff"/><stop offset="0.300" stop-color="#debcff"/><stop offset="0.333" stop-color="#e9b8ff"/><stop offset="0.367" stop-color="#f5b4ff"/><stop offset="0.400" stop-color="#ffb0ff"/><stop offset="0.433" stop-color="#ffa6f5"/><stop offset="0.467" stop-color="#ff9cec"/><stop offset="0.500" stop-color="#ff92e4"/><stop offset="0.533" stop-color="#ff89dd"/><stop offset="0.567" stop-color="#ff81d6"/><stop offset="0.600" stop-color="#ff79d0"/><stop offset="0.633" stop-color="#ff71ca"/><stop offset="0.667" stop-color="#ff69c5"/><stop offset="0.700" stop-color="#ff62c0"/><stop offset="0.733" stop-color="#ff5abb"/><stop offset="0.767" stop-color="#ff52b7"/><stop offset="0.800" stop-color="#ff4ab3"/><stop offset="0.833" stop-color="#ff42af"/><stop offset="0.867" stop-color="#ff39ab"/><stop offset="0.900" stop-color="#ff30a7"/><stop offset="0.933" stop-color="#ff24a4"/><stop offset="0.967" stop-color="#ff14a1"/><stop offset="1.000" stop-color="#ff009e"/></linearGradient><linearGradient id="g91" gradientUnits="userSpaceOnUse" x1="193.6" y1="0" x2="341.7" y2="0"><stop offset="0.000" stop-color="#00d5ff"/><stop offset="0.033" stop-color="#42d2ff"/><stop offset="0.067" stop-color="#66cfff"/><stop offset="0.100" stop-color="#7fcdff"/><stop offset="0.133" stop-color="#93caff"/><stop offset="0.167" stop-color="#a5c7ff"/><stop offset="0.200" stop-color="#b4c4ff"/><stop offset="0.233" stop-color="#c3c1ff"/><stop offset="0.267" stop-color="#d0bdff"/><stop offset="0.300" stop-color="#dcbaff"/><stop offset="0.333" stop-color="#e8b7ff"/><stop offset="0.367" stop-color="#f3b3ff"/><stop offset="0.400" stop-color="#fdafff"/><stop offset="0.433" stop-color="#ffa6f7"/><stop offset="0.467" stop-color="#ff9cee"/><stop offset="0.500" stop-color="#ff92e6"/><stop offset="0.533" stop-color="#ff89df"/><stop offset="0.567" stop-color="#ff81d8"/><stop offset="0.600" stop-color="#ff79d2"/><stop offset="0.633" stop-color="#ff71cc"/><stop offset="0.667" stop-color="#ff69c7"/><stop offset="0.700" stop-color="#ff62c2"/><stop offset="0.733" stop-color="#ff5abd"/><stop offset="0.767" stop-color="#ff52b8"/><stop offset="0.800" stop-color="#ff4ab4"/><stop offset="0.833" stop-color="#ff42b0"/><stop offset="0.867" stop-color="#ff39ad"/><stop offset="0.900" stop-color="#ff30a9"/><stop offset="0.933" stop-color="#ff24a6"/><stop offset="0.967" stop-color="#ff14a2"/><stop offset="1.000" stop-color="#ff009f"/></linearGradient><linearGradient id="g92" gradientUnits="userSpaceOnUse" x1="193.7" y1="0" x2="341.0" y2="0"><stop offset="0.000" stop-color="#00d3ff"/><stop offset="0.034" stop-color="#43d0ff"/><stop offset="0.069" stop-color="#67ceff"/><stop offset="0.103" stop-color="#80cbff"/><stop offset="0.138" stop-color="#95c8ff"/><stop offset="0.172" stop-color="#a6c5ff"/><stop offset="0.207" stop-color="#b6c2ff"/><stop offset="0.241" stop-color="#c4beff"/><stop offset="0.276" stop-color="#d1bbff"/><stop offset="0.310" stop-color="#deb7ff"/><stop offset="0.345" stop-color="#e9b4ff"/><stop offset="0.379" stop-color="#f5b0ff"/><stop offset="0.414" stop-color="#ffacff"/><stop offset="0.448" stop-color="#ffa1f5"/><stop offset="0.483" stop-color="#ff97ec"/><stop offset="0.517" stop-color="#ff8ee4"/><stop offset="0.552" stop-color="#ff85dd"/><stop offset="0.586" stop-color="#ff7cd6"/><stop offset="0.621" stop-color="#ff74d0"/><stop offset="0.655" stop-color="#ff6cca"/><stop offset="0.690" stop-color="#ff64c5"/><stop offset="0.724" stop-color="#ff5cc0"/><stop offset="0.759" stop-color="#ff54bb"/><stop offset="0.793" stop-color="#ff4cb7"/><stop offset="0.828" stop-color="#ff44b3"/><stop offset="0.862" stop-color="#ff3baf"/><stop offset="0.897" stop-color="#ff31ab"/><stop offset="0.931" stop-color="#ff25a7"/><stop offset="0.966" stop-color="#ff15a4"/><stop offset="1.000" stop-color="#ff00a1"/></linearGradient><linearGradient id="g93" gradientUnits="userSpaceOnUse" x1="193.9" y1="0" x2="340.2" y2="0"><stop offset="0.000" stop-color="#00d1ff"/><stop offset="0.034" stop-color="#42cfff"/><stop offset="0.069" stop-color="#66ccff"/><stop offset="0.103" stop-color="#7fc9ff"/><stop offset="0.138" stop-color="#94c6ff"/><stop offset="0.172" stop-color="#a5c3ff"/><stop offset="0.207" stop-color="#b4c0ff"/><stop offset="0.241" stop-color="#c3bdff"/><stop offset="0.276" stop-color="#d0b9ff"/><stop offset="0.310" stop-color="#dcb6ff"/><stop offset="0.345" stop-color="#e8b2ff"/><stop offset="0.379" stop-color="#f3afff"/><stop offset="0.414" stop-color="#fdabff"/><stop offset="0.448" stop-color="#ffa1f7"/><stop offset="0.483" stop-color="#ff97ee"/><stop offset="0.517" stop-color="#ff8ee6"/><stop offset="0.552" stop-color="#ff85df"/><stop offset="0.586" stop-color="#ff7cd8"/><stop offset="0.621" stop-color="#ff74d2"/><stop offset="0.655" stop-color="#ff6ccc"/><stop offset="0.690" stop-color="#ff64c7"/><stop offset="0.724" stop-color="#ff5cc2"/><stop offset="0.759" stop-color="#ff54bd"/><stop offset="0.793" stop-color="#ff4cb8"/><stop offset="0.828" stop-color="#ff44b4"/><stop offset="0.862" stop-color="#ff3bb0"/><stop offset="0.897" stop-color="#ff31ad"/><stop offset="0.931" stop-color="#ff25a9"/><stop offset="0.966" stop-color="#ff15a6"/><stop offset="1.000" stop-color="#ff00a2"/></linearGradient><linearGradient id="g94" gradientUnits="userSpaceOnUse" x1="194.0" y1="0" x2="339.4" y2="0"><stop offset="0.000" stop-color="#00d0ff"/><stop offset="0.034" stop-color="#41cdff"/><stop offset="0.069" stop-color="#65caff"/><stop offset="0.103" stop-color="#7ec8ff"/><stop offset="0.138" stop-color="#92c5ff"/><stop offset="0.172" stop-color="#a4c2ff"/><stop offset="0.207" stop-color="#b3bfff"/><stop offset="0.241" stop-color="#c1bbff"/><stop offset="0.276" stop-color="#ceb8ff"/><stop offset="0.310" stop-color="#dab5ff"/><stop offset="0.345" stop-color="#e6b1ff"/><stop offset="0.379" stop-color="#f1adff"/><stop offset="0.414" stop-color="#fba9ff"/><stop offset="0.448" stop-color="#ffa1f9"/><stop offset="0.483" stop-color="#ff97f0"/><stop offset="0.517" stop-color="#ff8ee8"/><stop offset="0.552" stop-color="#ff85e1"/><stop offset="0.586" stop-color="#ff7cda"/><stop offset="0.621" stop-color="#ff74d4"/><stop offset="0.655" stop-color="#ff6cce"/><stop offset="0.690" stop-color="#ff64c8"/><stop offset="0.724" stop-color="#ff5cc3"/><stop offset="0.759" stop-color="#ff54bf"/><stop offset="0.793" stop-color="#ff4cba"/><stop offset="0.828" stop-color="#ff44b6"/><stop offset="0.862" stop-color="#ff3bb2"/><stop offset="0.897" stop-color="#ff31ae"/><stop offset="0.931" stop-color="#ff25ab"/><stop offset="0.966" stop-color="#ff15a7"/><stop offset="1.000" stop-color="#ff00a4"/></linearGradient><linearGradient id="g95" gradientUnits="userSpaceOnUse" x1="194.1" y1="0" x2="338.7" y2="0"><stop offset="0.000" stop-color="#00ceff"/><stop offset="0.034" stop-color="#41ccff"/><stop offset="0.069" stop-color="#64c9ff"/><stop offset="0.103" stop-color="#7dc6ff"/><stop offset="0.138" stop-color="#91c3ff"/><stop offset="0.172" stop-color="#a2c0ff"/><stop offset="0.207" stop-color="#b2bdff"/><stop offset="0.241" stop-color="#c0baff"/><stop offset="0.276" stop-color="#ccb7ff"/><stop offset="0.310" stop-color="#d9b3ff"/><stop offset="0.345" stop-color="#e4afff"/><stop offset="0.379" stop-color="#efacff"/><stop offset="0.414" stop-color="#f9a8ff"/><stop offset="0.448" stop-color="#ffa1fb"/><stop offset="0.483" stop-color="#ff97f2"/><stop offset="0.517" stop-color="#ff8eea"/><stop offset="0.552" stop-color="#ff85e2"/><stop offset="0.586" stop-color="#ff7cdc"/><stop offset="0.621" stop-color="#ff74d5"/><stop offset="0.655" stop-color="#ff6ccf"/><stop offset="0.690" stop-color="#ff64ca"/><stop offset="0.724" stop-color="#ff5cc5"/><stop offset="0.759" stop-color="#ff54c0"/><stop offset="0.793" stop-color="#ff4cbc"/><stop offset="0.828" stop-color="#ff44b8"/><stop offset="0.862" stop-color="#ff3bb4"/><stop offset="0.897" stop-color="#ff31b0"/><stop offset="0.931" stop-color="#ff25ac"/><stop offset="0.966" stop-color="#ff15a9"/><stop offset="1.000" stop-color="#ff00a5"/></linearGradient><linearGradient id="g96" gradientUnits="userSpaceOnUse" x1="194.2" y1="0" x2="337.9" y2="0"><stop offset="0.000" stop-color="#00cdff"/><stop offset="0.034" stop-color="#40caff"/><stop offset="0.069" stop-color="#64c7ff"/><stop offset="0.103" stop-color="#7cc5ff"/><stop offset="0.138" stop-color="#90c2ff"/><stop offset="0.172" stop-color="#a1bfff"/><stop offset="0.207" stop-color="#b0bcff"/><stop offset="0.241" stop-color="#beb8ff"/><stop offset="0.276" stop-color="#cbb5ff"/><stop offset="0.310" stop-color="#d7b2ff"/><stop offset="0.345" stop-color="#e2aeff"/><stop offset="0.379" stop-color="#edaaff"/><stop offset="0.414" stop-color="#f7a6ff"/><stop offset="0.448" stop-color="#ffa1fd"/><stop offset="0.483" stop-color="#ff97f4"/><stop offset="0.517" stop-color="#ff8eec"/><stop offset="0.552" stop-color="#ff85e4"/><stop offset="0.586" stop-color="#ff7cdd"/><stop offset="0.621" stop-color="#ff74d7"/><stop offset="0.655" stop-color="#ff6cd1"/><stop offset="0.690" stop-color="#ff64cc"/><stop offset="0.724" stop-color="#ff5cc7"/><stop offset="0.759" stop-color="#ff54c2"/><stop offset="0.793" stop-color="#ff4cbd"/><stop offset="0.828" stop-color="#ff44b9"/><stop offset="0.862" stop-color="#ff3bb5"/><stop offset="0.897" stop-color="#ff31b1"/><stop offset="0.931" stop-color="#ff25ae"/><stop offset="0.966" stop-color="#ff15aa"/><stop offset="1.000" stop-color="#ff00a7"/></linearGradient><linearGradient id="g97" gradientUnits="userSpaceOnUse" x1="194.4" y1="0" x2="337.2" y2="0"><stop offset="0.000" stop-color="#00cbff"/><stop offset="0.034" stop-color="#40c9ff"/><stop offset="0.069" stop-color="#63c6ff"/><stop offset="0.103" stop-color="#7bc3ff"/><stop offset="0.138" stop-color="#8fc0ff"/><stop offset="0.172" stop-color="#a0bdff"/><stop offset="0.207" stop-color="#afbaff"/><stop offset="0.241" stop-color="#bdb7ff"/><stop offset="0.276" stop-color="#c9b4ff"/><stop offset="0.310" stop-color="#d5b0ff"/><stop offset="0.345" stop-color="#e0adff"/><stop offset="0.379" stop-color="#eba9ff"/><stop offset="0.414" stop-color="#f5a5ff"/><stop offset="0.448" stop-color="#ffa1ff"/><stop offset="0.483" stop-color="#ff97f6"/><stop offset="0.517" stop-color="#ff8eee"/><stop offset="0.552" stop-color="#ff85e6"/><stop offset="0.586" stop-color="#ff7cdf"/><stop offset="0.621" stop-color="#ff74d9"/><stop offset="0.655" stop-color="#ff6cd3"/><stop offset="0.690" stop-color="#ff64ce"/><stop offset="0.724" stop-color="#ff5cc8"/><stop offset="0.759" stop-color="#ff54c4"/><stop offset="0.793" stop-color="#ff4cbf"/><stop offset="0.828" stop-color="#ff44bb"/><stop offset="0.862" stop-color="#ff3bb7"/><stop offset="0.897" stop-color="#ff31b3"/><stop offset="0.931" stop-color="#ff25af"/><stop offset="0.966" stop-color="#ff15ac"/><stop offset="1.000" stop-color="#ff00a8"/></linearGradient><linearGradient id="g98" gradientUnits="userSpaceOnUse" x1="194.5" y1="0" x2="336.4" y2="0"><stop offset="0.000" stop-color="#00caff"/><stop offset="0.036" stop-color="#41c7ff"/><stop offset="0.071" stop-color="#64c4ff"/><stop offset="0.107" stop-color="#7cc1ff"/><stop offset="0.143" stop-color="#90beff"/><stop offset="0.179" stop-color="#a1bbff"/><stop offset="0.214" stop-color="#b0b8ff"/><stop offset="0.250" stop-color="#beb5ff"/><stop offset="0.286" stop-color="#cbb1ff"/><stop offset="0.321" stop-color="#d7aeff"/><stop offset="0.357" stop-color="#e2aaff"/><stop offset="0.393" stop-color="#eda6ff"/><stop offset="0.429" stop-color="#f7a2ff"/><stop offset="0.464" stop-color="#ff9cfd"/><stop offset="0.500" stop-color="#ff92f4"/><stop offset="0.536" stop-color="#ff89eb"/><stop offset="0.571" stop-color="#ff80e4"/><stop offset="0.607" stop-color="#ff77dd"/><stop offset="0.643" stop-color="#ff6fd7"/><stop offset="0.679" stop-color="#ff67d1"/><stop offset="0.714" stop-color="#ff5ecc"/><stop offset="0.750" stop-color="#ff56c6"/><stop offset="0.786" stop-color="#ff4ec2"/><stop offset="0.821" stop-color="#ff45bd"/><stop offset="0.857" stop-color="#ff3cb9"/><stop offset="0.893" stop-color="#ff32b5"/><stop offset="0.929" stop-color="#ff26b1"/><stop offset="0.964" stop-color="#ff15ad"/><stop offset="1.000" stop-color="#ff00aa"/></linearGradient><linearGradient id="g99" gradientUnits="userSpaceOnUse" x1="194.6" y1="0" x2="335.7" y2="0"><stop offset="0.000" stop-color="#00c8ff"/><stop offset="0.036" stop-color="#40c6ff"/><stop offset="0.071" stop-color="#63c3ff"/><stop offset="0.107" stop-color="#7bc0ff"/><stop offset="0.143" stop-color="#8fbdff"/><stop offset="0.179" stop-color="#a0baff"/><stop offset="0.214" stop-color="#afb7ff"/><stop offset="0.250" stop-color="#bdb3ff"/><stop offset="0.286" stop-color="#cab0ff"/><stop offset="0.321" stop-color="#d5acff"/><stop offset="0.357" stop-color="#e1a9ff"/><stop offset="0.393" stop-color="#eba5ff"/><stop offset="0.429" stop-color="#f5a1ff"/><stop offset="0.464" stop-color="#ff9cff"/><stop offset="0.500" stop-color="#ff92f6"/><stop offset="0.536" stop-color="#ff89ed"/><stop offset="0.571" stop-color="#ff80e6"/><stop offset="0.607" stop-color="#ff77df"/><stop offset="0.643" stop-color="#ff6fd9"/><stop offset="0.679" stop-color="#ff67d3"/><stop offset="0.714" stop-color="#ff5ecd"/><stop offset="0.750" stop-color="#ff56c8"/><stop offset="0.786" stop-color="#ff4ec3"/><stop offset="0.821" stop-color="#ff45bf"/><stop offset="0.857" stop-color="#ff3cbb"/><stop offset="0.893" stop-color="#ff32b7"/><stop offset="0.929" stop-color="#ff26b3"/><stop offset="0.964" stop-color="#ff15af"/><stop offset="1.000" stop-color="#ff00ac"/></linearGradient><linearGradient id="g100" gradientUnits="userSpaceOnUse" x1="194.7" y1="0" x2="334.9" y2="0"><stop offset="0.000" stop-color="#00c7ff"/><stop offset="0.036" stop-color="#3fc4ff"/><stop offset="0.071" stop-color="#62c1ff"/><stop offset="0.107" stop-color="#7abeff"/><stop offset="0.143" stop-color="#8ebbff"/><stop offset="0.179" stop-color="#9fb8ff"/><stop offset="0.214" stop-color="#aeb5ff"/><stop offset="0.250" stop-color="#bbb2ff"/><stop offset="0.286" stop-color="#c8afff"/><stop offset="0.321" stop-color="#d4abff"/><stop offset="0.357" stop-color="#dfa7ff"/><stop offset="0.393" stop-color="#e9a3ff"/><stop offset="0.429" stop-color="#f49fff"/><stop offset="0.464" stop-color="#fd9bff"/><stop offset="0.500" stop-color="#ff92f8"/><stop offset="0.536" stop-color="#ff89ef"/><stop offset="0.571" stop-color="#ff80e8"/><stop offset="0.607" stop-color="#ff77e1"/><stop offset="0.643" stop-color="#ff6fda"/><stop offset="0.679" stop-color="#ff67d5"/><stop offset="0.714" stop-color="#ff5ecf"/><stop offset="0.750" stop-color="#ff56ca"/><stop offset="0.786" stop-color="#ff4ec5"/><stop offset="0.821" stop-color="#ff45c0"/><stop offset="0.857" stop-color="#ff3cbc"/><stop offset="0.893" stop-color="#ff32b8"/><stop offset="0.929" stop-color="#ff26b4"/><stop offset="0.964" stop-color="#ff15b1"/><stop offset="1.000" stop-color="#ff00ad"/></linearGradient><linearGradient id="g101" gradientUnits="userSpaceOnUse" x1="194.9" y1="0" x2="334.2" y2="0"><stop offset="0.000" stop-color="#00c5ff"/><stop offset="0.036" stop-color="#3fc3ff"/><stop offset="0.071" stop-color="#61c0ff"/><stop offset="0.107" stop-color="#79bdff"/><stop offset="0.143" stop-color="#8dbaff"/><stop offset="0.179" stop-color="#9eb7ff"/><stop offset="0.214" stop-color="#acb4ff"/><stop offset="0.250" stop-color="#bab1ff"/><stop offset="0.286" stop-color="#c6adff"/><stop offset="0.321" stop-color="#d2aaff"/><stop offset="0.357" stop-color="#dda6ff"/><stop offset="0.393" stop-color="#e8a2ff"/><stop offset="0.429" stop-color="#f29eff"/><stop offset="0.464" stop-color="#fb9aff"/><stop offset="0.500" stop-color="#ff92fa"/><stop offset="0.536" stop-color="#ff89f1"/><stop offset="0.571" stop-color="#ff80ea"/><stop offset="0.607" stop-color="#ff77e3"/><stop offset="0.643" stop-color="#ff6fdc"/><stop offset="0.679" stop-color="#ff67d6"/><stop offset="0.714" stop-color="#ff5ed1"/><stop offset="0.750" stop-color="#ff56cc"/><stop offset="0.786" stop-color="#ff4ec7"/><stop offset="0.821" stop-color="#ff45c2"/><stop offset="0.857" stop-color="#ff3cbe"/><stop offset="0.893" stop-color="#ff32ba"/><stop offset="0.929" stop-color="#ff26b6"/><stop offset="0.964" stop-color="#ff15b2"/><stop offset="1.000" stop-color="#ff00af"/></linearGradient><linearGradient id="g102" gradientUnits="userSpaceOnUse" x1="195.0" y1="0" x2="333.4" y2="0"><stop offset="0.000" stop-color="#00c4ff"/><stop offset="0.036" stop-color="#3ec1ff"/><stop offset="0.071" stop-color="#61beff"/><stop offset="0.107" stop-color="#78bcff"/><stop offset="0.143" stop-color="#8cb9ff"/><stop offset="0.179" stop-color="#9cb6ff"/><stop offset="0.214" stop-color="#abb3ff"/><stop offset="0.250" stop-color="#b8afff"/><stop offset="0.286" stop-color="#c5acff"/><stop offset="0.321" stop-color="#d0a8ff"/><stop offset="0.357" stop-color="#dba5ff"/><stop offset="0.393" stop-color="#e6a1ff"/><stop offset="0.429" stop-color="#f09dff"/><stop offset="0.464" stop-color="#f999ff"/><stop offset="0.500" stop-color="#ff92fc"/><stop offset="0.536" stop-color="#ff89f3"/><stop offset="0.571" stop-color="#ff80ec"/><stop offset="0.607" stop-color="#ff77e4"/><stop offset="0.643" stop-color="#ff6fde"/><stop offset="0.679" stop-color="#ff66d8"/><stop offset="0.714" stop-color="#ff5ed2"/><stop offset="0.750" stop-color="#ff56cd"/><stop offset="0.786" stop-color="#ff4ec8"/><stop offset="0.821" stop-color="#ff45c4"/><stop offset="0.857" stop-color="#ff3cbf"/><stop offset="0.893" stop-color="#ff32bb"/><stop offset="0.929" stop-color="#ff26b7"/><stop offset="0.964" stop-color="#ff15b4"/><stop offset="1.000" stop-color="#ff00b0"/></linearGradient><linearGradient id="g103" gradientUnits="userSpaceOnUse" x1="195.1" y1="0" x2="332.6" y2="0"><stop offset="0.000" stop-color="#00c2ff"/><stop offset="0.036" stop-color="#3ec0ff"/><stop offset="0.071" stop-color="#60bdff"/><stop offset="0.107" stop-color="#78baff"/><stop offset="0.143" stop-color="#8bb7ff"/><stop offset="0.179" stop-color="#9bb4ff"/><stop offset="0.214" stop-color="#aab1ff"/><stop offset="0.250" stop-color="#b7aeff"/><stop offset="0.286" stop-color="#c3abff"/><stop offset="0.321" stop-color="#cfa7ff"/><stop offset="0.357" stop-color="#daa3ff"/><stop offset="0.393" stop-color="#e4a0ff"/><stop offset="0.429" stop-color="#ee9cff"/><stop offset="0.464" stop-color="#f798ff"/><stop offset="0.500" stop-color="#ff92fe"/><stop offset="0.536" stop-color="#ff89f5"/><stop offset="0.571" stop-color="#ff80ed"/><stop offset="0.607" stop-color="#ff77e6"/><stop offset="0.643" stop-color="#ff6fe0"/><stop offset="0.679" stop-color="#ff66da"/><stop offset="0.714" stop-color="#ff5ed4"/><stop offset="0.750" stop-color="#ff56cf"/><stop offset="0.786" stop-color="#ff4eca"/><stop offset="0.821" stop-color="#ff45c5"/><stop offset="0.857" stop-color="#ff3cc1"/><stop offset="0.893" stop-color="#ff32bd"/><stop offset="0.929" stop-color="#ff26b9"/><stop offset="0.964" stop-color="#ff15b5"/><stop offset="1.000" stop-color="#ff00b2"/></linearGradient><linearGradient id="g104" gradientUnits="userSpaceOnUse" x1="195.2" y1="0" x2="331.9" y2="0"><stop offset="0.000" stop-color="#00c1ff"/><stop offset="0.037" stop-color="#3fbeff"/><stop offset="0.074" stop-color="#61bbff"/><stop offset="0.111" stop-color="#79b9ff"/><stop offset="0.148" stop-color="#8cb6ff"/><stop offset="0.185" stop-color="#9db2ff"/><stop offset="0.222" stop-color="#abafff"/><stop offset="0.259" stop-color="#b9acff"/><stop offset="0.296" stop-color="#c5a8ff"/><stop offset="0.333" stop-color="#d1a5ff"/><stop offset="0.370" stop-color="#dca1ff"/><stop offset="0.407" stop-color="#e69dff"/><stop offset="0.444" stop-color="#f099ff"/><stop offset="0.481" stop-color="#fa94ff"/><stop offset="0.519" stop-color="#ff8dfb"/><stop offset="0.556" stop-color="#ff84f3"/><stop offset="0.593" stop-color="#ff7beb"/><stop offset="0.630" stop-color="#ff72e4"/><stop offset="0.667" stop-color="#ff69de"/><stop offset="0.704" stop-color="#ff61d8"/><stop offset="0.741" stop-color="#ff58d2"/><stop offset="0.778" stop-color="#ff50cd"/><stop offset="0.815" stop-color="#ff47c8"/><stop offset="0.852" stop-color="#ff3dc3"/><stop offset="0.889" stop-color="#ff33bf"/><stop offset="0.926" stop-color="#ff27bb"/><stop offset="0.963" stop-color="#ff16b7"/><stop offset="1.000" stop-color="#ff00b3"/></linearGradient><linearGradient id="g105" gradientUnits="userSpaceOnUse" x1="195.4" y1="0" x2="331.1" y2="0"><stop offset="0.000" stop-color="#00c0ff"/><stop offset="0.037" stop-color="#3ebdff"/><stop offset="0.074" stop-color="#60baff"/><stop offset="0.111" stop-color="#78b7ff"/><stop offset="0.148" stop-color="#8bb4ff"/><stop offset="0.185" stop-color="#9cb1ff"/><stop offset="0.222" stop-color="#aaaeff"/><stop offset="0.259" stop-color="#b8aaff"/><stop offset="0.296" stop-color="#c4a7ff"/><stop offset="0.333" stop-color="#cfa3ff"/><stop offset="0.370" stop-color="#daa0ff"/><stop offset="0.407" stop-color="#e59cff"/><stop offset="0.444" stop-color="#ee97ff"/><stop offset="0.481" stop-color="#f893ff"/><stop offset="0.519" stop-color="#ff8dfd"/><stop offset="0.556" stop-color="#ff84f5"/><stop offset="0.593" stop-color="#ff7bed"/><stop offset="0.630" stop-color="#ff72e6"/><stop offset="0.667" stop-color="#ff69df"/><stop offset="0.704" stop-color="#ff61d9"/><stop offset="0.741" stop-color="#ff58d4"/><stop offset="0.778" stop-color="#ff50ce"/><stop offset="0.815" stop-color="#ff47ca"/><stop offset="0.852" stop-color="#ff3dc5"/><stop offset="0.889" stop-color="#ff33c1"/><stop offset="0.926" stop-color="#ff27bc"/><stop offset="0.963" stop-color="#ff16b9"/><stop offset="1.000" stop-color="#ff00b5"/></linearGradient><linearGradient id="g106" gradientUnits="userSpaceOnUse" x1="195.5" y1="0" x2="330.4" y2="0"><stop offset="0.000" stop-color="#00beff"/><stop offset="0.037" stop-color="#3dbcff"/><stop offset="0.074" stop-color="#5fb9ff"/><stop offset="0.111" stop-color="#77b6ff"/><stop offset="0.148" stop-color="#8ab3ff"/><stop offset="0.185" stop-color="#9ab0ff"/><stop offset="0.222" stop-color="#a9acff"/><stop offset="0.259" stop-color="#b6a9ff"/><stop offset="0.296" stop-color="#c2a6ff"/><stop offset="0.333" stop-color="#cea2ff"/><stop offset="0.370" stop-color="#d99eff"/><stop offset="0.407" stop-color="#e39aff"/><stop offset="0.444" stop-color="#ed96ff"/><stop offset="0.481" stop-color="#f692ff"/><stop offset="0.519" stop-color="#ff8dff"/><stop offset="0.556" stop-color="#ff84f6"/><stop offset="0.593" stop-color="#ff7bef"/><stop offset="0.630" stop-color="#ff72e8"/><stop offset="0.667" stop-color="#ff69e1"/><stop offset="0.704" stop-color="#ff61db"/><stop offset="0.741" stop-color="#ff58d5"/><stop offset="0.778" stop-color="#ff50d0"/><stop offset="0.815" stop-color="#ff47cb"/><stop offset="0.852" stop-color="#ff3dc7"/><stop offset="0.889" stop-color="#ff33c2"/><stop offset="0.926" stop-color="#ff27be"/><stop offset="0.963" stop-color="#ff16ba"/><stop offset="1.000" stop-color="#ff00b6"/></linearGradient><linearGradient id="g107" gradientUnits="userSpaceOnUse" x1="195.6" y1="0" x2="329.6" y2="0"><stop offset="0.000" stop-color="#00bdff"/><stop offset="0.037" stop-color="#3dbaff"/><stop offset="0.074" stop-color="#5fb7ff"/><stop offset="0.111" stop-color="#76b5ff"/><stop offset="0.148" stop-color="#89b2ff"/><stop offset="0.185" stop-color="#99aeff"/><stop offset="0.222" stop-color="#a8abff"/><stop offset="0.259" stop-color="#b5a8ff"/><stop offset="0.296" stop-color="#c1a4ff"/><stop offset="0.333" stop-color="#cca1ff"/><stop offset="0.370" stop-color="#d79dff"/><stop offset="0.407" stop-color="#e199ff"/><stop offset="0.444" stop-color="#eb95ff"/><stop offset="0.481" stop-color="#f491ff"/><stop offset="0.519" stop-color="#fd8cff"/><stop offset="0.556" stop-color="#ff84f8"/><stop offset="0.593" stop-color="#ff7bf1"/><stop offset="0.630" stop-color="#ff72e9"/><stop offset="0.667" stop-color="#ff69e3"/><stop offset="0.704" stop-color="#ff61dd"/><stop offset="0.741" stop-color="#ff58d7"/><stop offset="0.778" stop-color="#ff50d2"/><stop offset="0.815" stop-color="#ff47cd"/><stop offset="0.852" stop-color="#ff3dc8"/><stop offset="0.889" stop-color="#ff33c4"/><stop offset="0.926" stop-color="#ff27c0"/><stop offset="0.963" stop-color="#ff16bc"/><stop offset="1.000" stop-color="#ff00b8"/></linearGradient><linearGradient id="g108" gradientUnits="userSpaceOnUse" x1="195.7" y1="0" x2="328.9" y2="0"><stop offset="0.000" stop-color="#00bcff"/><stop offset="0.037" stop-color="#3cb9ff"/><stop offset="0.074" stop-color="#5eb6ff"/><stop offset="0.111" stop-color="#75b3ff"/><stop offset="0.148" stop-color="#88b0ff"/><stop offset="0.185" stop-color="#98adff"/><stop offset="0.222" stop-color="#a6aaff"/><stop offset="0.259" stop-color="#b3a7ff"/><stop offset="0.296" stop-color="#bfa3ff"/><stop offset="0.333" stop-color="#cba0ff"/><stop offset="0.370" stop-color="#d59cff"/><stop offset="0.407" stop-color="#df98ff"/><stop offset="0.444" stop-color="#e994ff"/><stop offset="0.481" stop-color="#f290ff"/><stop offset="0.519" stop-color="#fb8bff"/><stop offset="0.556" stop-color="#ff84fa"/><stop offset="0.593" stop-color="#ff7bf2"/><stop offset="0.630" stop-color="#ff72eb"/><stop offset="0.667" stop-color="#ff69e5"/><stop offset="0.704" stop-color="#ff61df"/><stop offset="0.741" stop-color="#ff58d9"/><stop offset="0.778" stop-color="#ff50d4"/><stop offset="0.815" stop-color="#ff47cf"/><stop offset="0.852" stop-color="#ff3dca"/><stop offset="0.889" stop-color="#ff33c5"/><stop offset="0.926" stop-color="#ff26c1"/><stop offset="0.963" stop-color="#ff16bd"/><stop offset="1.000" stop-color="#ff00ba"/></linearGradient><linearGradient id="g109" gradientUnits="userSpaceOnUse" x1="195.9" y1="0" x2="328.1" y2="0"><stop offset="0.000" stop-color="#00baff"/><stop offset="0.038" stop-color="#3db7ff"/><stop offset="0.077" stop-color="#5fb5ff"/><stop offset="0.115" stop-color="#76b2ff"/><stop offset="0.154" stop-color="#89aeff"/><stop offset="0.192" stop-color="#9aabff"/><stop offset="0.231" stop-color="#a8a8ff"/><stop offset="0.269" stop-color="#b5a4ff"/><stop offset="0.308" stop-color="#c2a1ff"/><stop offset="0.346" stop-color="#cd9dff"/><stop offset="0.385" stop-color="#d899ff"/><stop offset="0.423" stop-color="#e295ff"/><stop offset="0.462" stop-color="#ec91ff"/><stop offset="0.500" stop-color="#f58cff"/><stop offset="0.538" stop-color="#fe87ff"/><stop offset="0.577" stop-color="#ff7ef8"/><stop offset="0.615" stop-color="#ff75f0"/><stop offset="0.654" stop-color="#ff6ce9"/><stop offset="0.692" stop-color="#ff63e2"/><stop offset="0.731" stop-color="#ff5bdc"/><stop offset="0.769" stop-color="#ff52d6"/><stop offset="0.808" stop-color="#ff48d1"/><stop offset="0.846" stop-color="#ff3fcc"/><stop offset="0.885" stop-color="#ff34c8"/><stop offset="0.923" stop-color="#ff28c3"/><stop offset="0.962" stop-color="#ff16bf"/><stop offset="1.000" stop-color="#ff00bb"/></linearGradient><linearGradient id="g110" gradientUnits="userSpaceOnUse" x1="196.0" y1="0" x2="327.4" y2="0"><stop offset="0.000" stop-color="#00b9ff"/><stop offset="0.038" stop-color="#3db6ff"/><stop offset="0.077" stop-color="#5eb3ff"/><stop offset="0.115" stop-color="#76b0ff"/><stop offset="0.154" stop-color="#88adff"/><stop offset="0.192" stop-color="#99aaff"/><stop offset="0.231" stop-color="#a7a7ff"/><stop offset="0.269" stop-color="#b4a3ff"/><stop offset="0.308" stop-color="#c0a0ff"/><stop offset="0.346" stop-color="#cb9cff"/><stop offset="0.385" stop-color="#d698ff"/><stop offset="0.423" stop-color="#e094ff"/><stop offset="0.462" stop-color="#ea90ff"/><stop offset="0.500" stop-color="#f38bff"/><stop offset="0.538" stop-color="#fc86ff"/><stop offset="0.577" stop-color="#ff7efa"/><stop offset="0.615" stop-color="#ff75f2"/><stop offset="0.654" stop-color="#ff6ceb"/><stop offset="0.692" stop-color="#ff63e4"/><stop offset="0.731" stop-color="#ff5bde"/><stop offset="0.769" stop-color="#ff52d8"/><stop offset="0.808" stop-color="#ff48d3"/><stop offset="0.846" stop-color="#ff3fce"/><stop offset="0.885" stop-color="#ff34c9"/><stop offset="0.923" stop-color="#ff27c5"/><stop offset="0.962" stop-color="#ff16c1"/><stop offset="1.000" stop-color="#ff00bd"/></linearGradient><linearGradient id="g111" gradientUnits="userSpaceOnUse" x1="196.1" y1="0" x2="326.6" y2="0"><stop offset="0.000" stop-color="#00b8ff"/><stop offset="0.038" stop-color="#3cb5ff"/><stop offset="0.077" stop-color="#5db2ff"/><stop offset="0.115" stop-color="#75afff"/><stop offset="0.154" stop-color="#87acff"/><stop offset="0.192" stop-color="#97a9ff"/><stop offset="0.231" stop-color="#a6a5ff"/><stop offset="0.269" stop-color="#b3a2ff"/><stop offset="0.308" stop-color="#bf9eff"/><stop offset="0.346" stop-color="#ca9bff"/><stop offset="0.385" stop-color="#d497ff"/><stop offset="0.423" stop-color="#de93ff"/><stop offset="0.462" stop-color="#e88fff"/><stop offset="0.500" stop-color="#f18aff"/><stop offset="0.538" stop-color="#fa85ff"/><stop offset="0.577" stop-color="#ff7efb"/><stop offset="0.615" stop-color="#ff75f4"/><stop offset="0.654" stop-color="#ff6cec"/><stop offset="0.692" stop-color="#ff63e6"/><stop offset="0.731" stop-color="#ff5ae0"/><stop offset="0.769" stop-color="#ff52da"/><stop offset="0.808" stop-color="#ff48d5"/><stop offset="0.846" stop-color="#ff3fd0"/><stop offset="0.885" stop-color="#ff34cb"/><stop offset="0.923" stop-color="#ff27c6"/><stop offset="0.962" stop-color="#ff16c2"/><stop offset="1.000" stop-color="#ff00be"/></linearGradient><linearGradient id="g112" gradientUnits="userSpaceOnUse" x1="196.2" y1="0" x2="325.8" y2="0"><stop offset="0.000" stop-color="#00b6ff"/><stop offset="0.038" stop-color="#3cb4ff"/><stop offset="0.077" stop-color="#5db1ff"/><stop offset="0.115" stop-color="#74aeff"/><stop offset="0.154" stop-color="#86abff"/><stop offset="0.192" stop-color="#96a7ff"/><stop offset="0.231" stop-color="#a4a4ff"/><stop offset="0.269" stop-color="#b1a1ff"/><stop offset="0.308" stop-color="#bd9dff"/><stop offset="0.346" stop-color="#c89aff"/><stop offset="0.385" stop-color="#d396ff"/><stop offset="0.423" stop-color="#dd92ff"/><stop offset="0.462" stop-color="#e68dff"/><stop offset="0.500" stop-color="#ef89ff"/><stop offset="0.538" stop-color="#f884ff"/><stop offset="0.577" stop-color="#ff7efd"/><stop offset="0.615" stop-color="#ff75f5"/><stop offset="0.654" stop-color="#ff6cee"/><stop offset="0.692" stop-color="#ff63e8"/><stop offset="0.731" stop-color="#ff5ae1"/><stop offset="0.769" stop-color="#ff52dc"/><stop offset="0.808" stop-color="#ff48d6"/><stop offset="0.846" stop-color="#ff3fd1"/><stop offset="0.885" stop-color="#ff34cd"/><stop offset="0.923" stop-color="#ff27c8"/><stop offset="0.962" stop-color="#ff16c4"/><stop offset="1.000" stop-color="#ff00c0"/></linearGradient><linearGradient id="g113" gradientUnits="userSpaceOnUse" x1="196.4" y1="0" x2="325.1" y2="0"><stop offset="0.000" stop-color="#00b5ff"/><stop offset="0.038" stop-color="#3bb2ff"/><stop offset="0.077" stop-color="#5cafff"/><stop offset="0.115" stop-color="#73acff"/><stop offset="0.154" stop-color="#85a9ff"/><stop offset="0.192" stop-color="#95a6ff"/><stop offset="0.231" stop-color="#a3a3ff"/><stop offset="0.269" stop-color="#b0a0ff"/><stop offset="0.308" stop-color="#bc9cff"/><stop offset="0.346" stop-color="#c798ff"/><stop offset="0.385" stop-color="#d195ff"/><stop offset="0.423" stop-color="#db91ff"/><stop offset="0.462" stop-color="#e58cff"/><stop offset="0.500" stop-color="#ee88ff"/><stop offset="0.538" stop-color="#f683ff"/><stop offset="0.577" stop-color="#ff7eff"/><stop offset="0.615" stop-color="#ff75f7"/><stop offset="0.654" stop-color="#ff6cf0"/><stop offset="0.692" stop-color="#ff63e9"/><stop offset="0.731" stop-color="#ff5ae3"/><stop offset="0.769" stop-color="#ff52dd"/><stop offset="0.808" stop-color="#ff48d8"/><stop offset="0.846" stop-color="#ff3fd3"/><stop offset="0.885" stop-color="#ff34ce"/><stop offset="0.923" stop-color="#ff27ca"/><stop offset="0.962" stop-color="#ff16c5"/><stop offset="1.000" stop-color="#ff00c1"/></linearGradient><linearGradient id="g114" gradientUnits="userSpaceOnUse" x1="196.5" y1="0" x2="324.3" y2="0"><stop offset="0.000" stop-color="#00b4ff"/><stop offset="0.038" stop-color="#3ab1ff"/><stop offset="0.077" stop-color="#5baeff"/><stop offset="0.115" stop-color="#72abff"/><stop offset="0.154" stop-color="#84a8ff"/><stop offset="0.192" stop-color="#94a5ff"/><stop offset="0.231" stop-color="#a2a2ff"/><stop offset="0.269" stop-color="#af9eff"/><stop offset="0.308" stop-color="#ba9bff"/><stop offset="0.346" stop-color="#c597ff"/><stop offset="0.385" stop-color="#d093ff"/><stop offset="0.423" stop-color="#d98fff"/><stop offset="0.462" stop-color="#e38bff"/><stop offset="0.500" stop-color="#ec87ff"/><stop offset="0.538" stop-color="#f482ff"/><stop offset="0.577" stop-color="#fd7dff"/><stop offset="0.615" stop-color="#ff75f9"/><stop offset="0.654" stop-color="#ff6cf2"/><stop offset="0.692" stop-color="#ff63eb"/><stop offset="0.731" stop-color="#ff5ae5"/><stop offset="0.769" stop-color="#ff52df"/><stop offset="0.808" stop-color="#ff48da"/><stop offset="0.846" stop-color="#ff3fd5"/><stop offset="0.885" stop-color="#ff34d0"/><stop offset="0.923" stop-color="#ff27cb"/><stop offset="0.962" stop-color="#ff16c7"/><stop offset="1.000" stop-color="#ff00c3"/></linearGradient><linearGradient id="g115" gradientUnits="userSpaceOnUse" x1="196.6" y1="0" x2="323.6" y2="0"><stop offset="0.000" stop-color="#00b2ff"/><stop offset="0.040" stop-color="#3cb0ff"/><stop offset="0.080" stop-color="#5dadff"/><stop offset="0.120" stop-color="#73aaff"/><stop offset="0.160" stop-color="#86a6ff"/><stop offset="0.200" stop-color="#96a3ff"/><stop offset="0.240" stop-color="#a4a0ff"/><stop offset="0.280" stop-color="#b19cff"/><stop offset="0.320" stop-color="#bd99ff"/><stop offset="0.360" stop-color="#c895ff"/><stop offset="0.400" stop-color="#d291ff"/><stop offset="0.440" stop-color="#dc8dff"/><stop offset="0.480" stop-color="#e588ff"/><stop offset="0.520" stop-color="#ef83ff"/><stop offset="0.560" stop-color="#f77eff"/><stop offset="0.600" stop-color="#ff79fe"/><stop offset="0.640" stop-color="#ff6ff6"/><stop offset="0.680" stop-color="#ff66ef"/><stop offset="0.720" stop-color="#ff5de8"/><stop offset="0.760" stop-color="#ff54e2"/><stop offset="0.800" stop-color="#ff4add"/><stop offset="0.840" stop-color="#ff40d7"/><stop offset="0.880" stop-color="#ff35d2"/><stop offset="0.920" stop-color="#ff28cd"/><stop offset="0.960" stop-color="#ff17c9"/><stop offset="1.000" stop-color="#ff00c5"/></linearGradient><linearGradient id="g116" gradientUnits="userSpaceOnUse" x1="196.7" y1="0" x2="322.8" y2="0"><stop offset="0.000" stop-color="#00b1ff"/><stop offset="0.040" stop-color="#3baeff"/><stop offset="0.080" stop-color="#5cabff"/><stop offset="0.120" stop-color="#73a8ff"/><stop offset="0.160" stop-color="#85a5ff"/><stop offset="0.200" stop-color="#95a2ff"/><stop offset="0.240" stop-color="#a39fff"/><stop offset="0.280" stop-color="#af9bff"/><stop offset="0.320" stop-color="#bb97ff"/><stop offset="0.360" stop-color="#c694ff"/><stop offset="0.400" stop-color="#d190ff"/><stop offset="0.440" stop-color="#da8bff"/><stop offset="0.480" stop-color="#e487ff"/><stop offset="0.520" stop-color="#ed82ff"/><stop offset="0.560" stop-color="#f57dff"/><stop offset="0.600" stop-color="#fe78ff"/><stop offset="0.640" stop-color="#ff6ff8"/><stop offset="0.680" stop-color="#ff66f1"/><stop offset="0.720" stop-color="#ff5dea"/><stop offset="0.760" stop-color="#ff54e4"/><stop offset="0.800" stop-color="#ff4ade"/><stop offset="0.840" stop-color="#ff40d9"/><stop offset="0.880" stop-color="#ff35d4"/><stop offset="0.920" stop-color="#ff28cf"/><stop offset="0.960" stop-color="#ff17cb"/><stop offset="1.000" stop-color="#ff00c6"/></linearGradient><linearGradient id="g117" gradientUnits="userSpaceOnUse" x1="196.9" y1="0" x2="322.1" y2="0"><stop offset="0.000" stop-color="#00b0ff"/><stop offset="0.040" stop-color="#3aadff"/><stop offset="0.080" stop-color="#5baaff"/><stop offset="0.120" stop-color="#72a7ff"/><stop offset="0.160" stop-color="#84a4ff"/><stop offset="0.200" stop-color="#94a1ff"/><stop offset="0.240" stop-color="#a19dff"/><stop offset="0.280" stop-color="#ae9aff"/><stop offset="0.320" stop-color="#ba96ff"/><stop offset="0.360" stop-color="#c593ff"/><stop offset="0.400" stop-color="#cf8fff"/><stop offset="0.440" stop-color="#d98aff"/><stop offset="0.480" stop-color="#e286ff"/><stop offset="0.520" stop-color="#eb81ff"/><stop offset="0.560" stop-color="#f47cff"/><stop offset="0.600" stop-color="#fc77ff"/><stop offset="0.640" stop-color="#ff6ffa"/><stop offset="0.680" stop-color="#ff66f3"/><stop offset="0.720" stop-color="#ff5dec"/><stop offset="0.760" stop-color="#ff54e6"/><stop offset="0.800" stop-color="#ff4ae0"/><stop offset="0.840" stop-color="#ff40db"/><stop offset="0.880" stop-color="#ff35d5"/><stop offset="0.920" stop-color="#ff28d1"/><stop offset="0.960" stop-color="#ff17cc"/><stop offset="1.000" stop-color="#ff00c8"/></linearGradient><linearGradient id="g118" gradientUnits="userSpaceOnUse" x1="197.0" y1="0" x2="321.3" y2="0"><stop offset="0.000" stop-color="#00afff"/><stop offset="0.040" stop-color="#3aacff"/><stop offset="0.080" stop-color="#5aa9ff"/><stop offset="0.120" stop-color="#71a6ff"/><stop offset="0.160" stop-color="#83a3ff"/><stop offset="0.200" stop-color="#92a0ff"/><stop offset="0.240" stop-color="#a09cff"/><stop offset="0.280" stop-color="#ad99ff"/><stop offset="0.320" stop-color="#b895ff"/><stop offset="0.360" stop-color="#c391ff"/><stop offset="0.400" stop-color="#cd8dff"/><stop offset="0.440" stop-color="#d789ff"/><stop offset="0.480" stop-color="#e085ff"/><stop offset="0.520" stop-color="#e980ff"/><stop offset="0.560" stop-color="#f27bff"/><stop offset="0.600" stop-color="#fa76ff"/><stop offset="0.640" stop-color="#ff6ffc"/><stop offset="0.680" stop-color="#ff66f5"/><stop offset="0.720" stop-color="#ff5dee"/><stop offset="0.760" stop-color="#ff54e8"/><stop offset="0.800" stop-color="#ff4ae2"/><stop offset="0.840" stop-color="#ff40dc"/><stop offset="0.880" stop-color="#ff35d7"/><stop offset="0.920" stop-color="#ff28d2"/><stop offset="0.960" stop-color="#ff17ce"/><stop offset="1.000" stop-color="#ff00c9"/></linearGradient><linearGradient id="g119" gradientUnits="userSpaceOnUse" x1="197.1" y1="0" x2="320.6" y2="0"><stop offset="0.000" stop-color="#00aeff"/><stop offset="0.040" stop-color="#39abff"/><stop offset="0.080" stop-color="#5aa8ff"/><stop offset="0.120" stop-color="#70a5ff"/><stop offset="0.160" stop-color="#82a2ff"/><stop offset="0.200" stop-color="#919eff"/><stop offset="0.240" stop-color="#9f9bff"/><stop offset="0.280" stop-color="#ac98ff"/><stop offset="0.320" stop-color="#b794ff"/><stop offset="0.360" stop-color="#c290ff"/><stop offset="0.400" stop-color="#cc8cff"/><stop offset="0.440" stop-color="#d688ff"/><stop offset="0.480" stop-color="#df84ff"/><stop offset="0.520" stop-color="#e77fff"/><stop offset="0.560" stop-color="#f07aff"/><stop offset="0.600" stop-color="#f875ff"/><stop offset="0.640" stop-color="#ff6ffe"/><stop offset="0.680" stop-color="#ff66f7"/><stop offset="0.720" stop-color="#ff5df0"/><stop offset="0.760" stop-color="#ff54e9"/><stop offset="0.800" stop-color="#ff4ae3"/><stop offset="0.840" stop-color="#ff40de"/><stop offset="0.880" stop-color="#ff35d9"/><stop offset="0.920" stop-color="#ff28d4"/><stop offset="0.960" stop-color="#ff17cf"/><stop offset="1.000" stop-color="#ff00cb"/></linearGradient><linearGradient id="g120" gradientUnits="userSpaceOnUse" x1="197.2" y1="0" x2="319.8" y2="0"><stop offset="0.000" stop-color="#00acff"/><stop offset="0.040" stop-color="#39a9ff"/><stop offset="0.080" stop-color="#59a7ff"/><stop offset="0.120" stop-color="#6fa4ff"/><stop offset="0.160" stop-color="#81a1ff"/><stop offset="0.200" stop-color="#909dff"/><stop offset="0.240" stop-color="#9e9aff"/><stop offset="0.280" stop-color="#aa97ff"/><stop offset="0.320" stop-color="#b693ff"/><stop offset="0.360" stop-color="#c08fff"/><stop offset="0.400" stop-color="#ca8bff"/><stop offset="0.440" stop-color="#d487ff"/><stop offset="0.480" stop-color="#dd83ff"/><stop offset="0.520" stop-color="#e67eff"/><stop offset="0.560" stop-color="#ee7aff"/><stop offset="0.600" stop-color="#f674ff"/><stop offset="0.640" stop-color="#fe6fff"/><stop offset="0.680" stop-color="#ff66f8"/><stop offset="0.720" stop-color="#ff5df2"/><stop offset="0.760" stop-color="#ff54eb"/><stop offset="0.800" stop-color="#ff4ae5"/><stop offset="0.840" stop-color="#ff40e0"/><stop offset="0.880" stop-color="#ff35db"/><stop offset="0.920" stop-color="#ff28d6"/><stop offset="0.960" stop-color="#ff17d1"/><stop offset="1.000" stop-color="#ff00cd"/></linearGradient><linearGradient id="g121" gradientUnits="userSpaceOnUse" x1="197.4" y1="0" x2="319.0" y2="0"><stop offset="0.000" stop-color="#00abff"/><stop offset="0.042" stop-color="#3aa8ff"/><stop offset="0.083" stop-color="#5aa5ff"/><stop offset="0.125" stop-color="#71a2ff"/><stop offset="0.167" stop-color="#839fff"/><stop offset="0.208" stop-color="#929cff"/><stop offset="0.250" stop-color="#a098ff"/><stop offset="0.292" stop-color="#ac94ff"/><stop offset="0.333" stop-color="#b891ff"/><stop offset="0.375" stop-color="#c38dff"/><stop offset="0.417" stop-color="#cd89ff"/><stop offset="0.458" stop-color="#d784ff"/><stop offset="0.500" stop-color="#e080ff"/><stop offset="0.542" stop-color="#e97bff"/><stop offset="0.583" stop-color="#f176ff"/><stop offset="0.625" stop-color="#f970ff"/><stop offset="0.667" stop-color="#ff69fd"/><stop offset="0.708" stop-color="#ff60f5"/><stop offset="0.750" stop-color="#ff56ef"/><stop offset="0.792" stop-color="#ff4ce8"/><stop offset="0.833" stop-color="#ff42e2"/><stop offset="0.875" stop-color="#ff37dd"/><stop offset="0.917" stop-color="#ff29d8"/><stop offset="0.958" stop-color="#ff18d3"/><stop offset="1.000" stop-color="#ff00ce"/></linearGradient><linearGradient id="g122" gradientUnits="userSpaceOnUse" x1="197.5" y1="0" x2="318.3" y2="0"><stop offset="0.000" stop-color="#00aaff"/><stop offset="0.042" stop-color="#39a7ff"/><stop offset="0.083" stop-color="#59a4ff"/><stop offset="0.125" stop-color="#70a1ff"/><stop offset="0.167" stop-color="#829eff"/><stop offset="0.208" stop-color="#919aff"/><stop offset="0.250" stop-color="#9f97ff"/><stop offset="0.292" stop-color="#ab93ff"/><stop offset="0.333" stop-color="#b790ff"/><stop offset="0.375" stop-color="#c18cff"/><stop offset="0.417" stop-color="#cb88ff"/><stop offset="0.458" stop-color="#d583ff"/><stop offset="0.500" stop-color="#de7fff"/><stop offset="0.542" stop-color="#e77aff"/><stop offset="0.583" stop-color="#ef75ff"/><stop offset="0.625" stop-color="#f76fff"/><stop offset="0.667" stop-color="#ff69ff"/><stop offset="0.708" stop-color="#ff60f7"/><stop offset="0.750" stop-color="#ff56f0"/><stop offset="0.792" stop-color="#ff4cea"/><stop offset="0.833" stop-color="#ff42e4"/><stop offset="0.875" stop-color="#ff37df"/><stop offset="0.917" stop-color="#ff29d9"/><stop offset="0.958" stop-color="#ff18d5"/><stop offset="1.000" stop-color="#ff00d0"/></linearGradient><linearGradient id="g123" gradientUnits="userSpaceOnUse" x1="197.6" y1="0" x2="317.5" y2="0"><stop offset="0.000" stop-color="#00a9ff"/><stop offset="0.042" stop-color="#39a6ff"/><stop offset="0.083" stop-color="#59a3ff"/><stop offset="0.125" stop-color="#6fa0ff"/><stop offset="0.167" stop-color="#819dff"/><stop offset="0.208" stop-color="#9099ff"/><stop offset="0.250" stop-color="#9d96ff"/><stop offset="0.292" stop-color="#aa92ff"/><stop offset="0.333" stop-color="#b58fff"/><stop offset="0.375" stop-color="#c08bff"/><stop offset="0.417" stop-color="#ca87ff"/><stop offset="0.458" stop-color="#d382ff"/><stop offset="0.500" stop-color="#dc7eff"/><stop offset="0.542" stop-color="#e579ff"/><stop offset="0.583" stop-color="#ee74ff"/><stop offset="0.625" stop-color="#f66eff"/><stop offset="0.667" stop-color="#fd68ff"/><stop offset="0.708" stop-color="#ff60f9"/><stop offset="0.750" stop-color="#ff56f2"/><stop offset="0.792" stop-color="#ff4cec"/><stop offset="0.833" stop-color="#ff42e6"/><stop offset="0.875" stop-color="#ff37e0"/><stop offset="0.917" stop-color="#ff29db"/><stop offset="0.958" stop-color="#ff18d6"/><stop offset="1.000" stop-color="#ff00d2"/></linearGradient><linearGradient id="g124" gradientUnits="userSpaceOnUse" x1="197.7" y1="0" x2="316.8" y2="0"><stop offset="0.000" stop-color="#00a7ff"/><stop offset="0.042" stop-color="#38a5ff"/><stop offset="0.083" stop-color="#58a2ff"/><stop offset="0.125" stop-color="#6e9fff"/><stop offset="0.167" stop-color="#809bff"/><stop offset="0.208" stop-color="#8f98ff"/><stop offset="0.250" stop-color="#9c95ff"/><stop offset="0.292" stop-color="#a991ff"/><stop offset="0.333" stop-color="#b48dff"/><stop offset="0.375" stop-color="#be8aff"/><stop offset="0.417" stop-color="#c886ff"/><stop offset="0.458" stop-color="#d281ff"/><stop offset="0.500" stop-color="#db7dff"/><stop offset="0.542" stop-color="#e378ff"/><stop offset="0.583" stop-color="#ec73ff"/><stop offset="0.625" stop-color="#f46dff"/><stop offset="0.667" stop-color="#fc68ff"/><stop offset="0.708" stop-color="#ff60fb"/><stop offset="0.750" stop-color="#ff56f4"/><stop offset="0.792" stop-color="#ff4cee"/><stop offset="0.833" stop-color="#ff42e8"/><stop offset="0.875" stop-color="#ff37e2"/><stop offset="0.917" stop-color="#ff29dd"/><stop offset="0.958" stop-color="#ff18d8"/><stop offset="1.000" stop-color="#ff00d3"/></linearGradient><linearGradient id="g125" gradientUnits="userSpaceOnUse" x1="197.9" y1="0" x2="316.0" y2="0"><stop offset="0.000" stop-color="#00a6ff"/><stop offset="0.042" stop-color="#38a3ff"/><stop offset="0.083" stop-color="#57a1ff"/><stop offset="0.125" stop-color="#6d9dff"/><stop offset="0.167" stop-color="#7f9aff"/><stop offset="0.208" stop-color="#8e97ff"/><stop offset="0.250" stop-color="#9b94ff"/><stop offset="0.292" stop-color="#a790ff"/><stop offset="0.333" stop-color="#b38cff"/><stop offset="0.375" stop-color="#bd89ff"/><stop offset="0.417" stop-color="#c785ff"/><stop offset="0.458" stop-color="#d080ff"/><stop offset="0.500" stop-color="#d97cff"/><stop offset="0.542" stop-color="#e277ff"/><stop offset="0.583" stop-color="#ea72ff"/><stop offset="0.625" stop-color="#f26dff"/><stop offset="0.667" stop-color="#fa67ff"/><stop offset="0.708" stop-color="#ff60fd"/><stop offset="0.750" stop-color="#ff56f6"/><stop offset="0.792" stop-color="#ff4cef"/><stop offset="0.833" stop-color="#ff42e9"/><stop offset="0.875" stop-color="#ff37e4"/><stop offset="0.917" stop-color="#ff29df"/><stop offset="0.958" stop-color="#ff17da"/><stop offset="1.000" stop-color="#ff00d5"/></linearGradient><linearGradient id="g126" gradientUnits="userSpaceOnUse" x1="198.0" y1="0" x2="315.3" y2="0"><stop offset="0.000" stop-color="#00a5ff"/><stop offset="0.043" stop-color="#39a2ff"/><stop offset="0.087" stop-color="#599fff"/><stop offset="0.130" stop-color="#6f9cff"/><stop offset="0.174" stop-color="#8099ff"/><stop offset="0.217" stop-color="#9095ff"/><stop offset="0.261" stop-color="#9d92ff"/><stop offset="0.304" stop-color="#aa8eff"/><stop offset="0.348" stop-color="#b58aff"/><stop offset="0.391" stop-color="#c086ff"/><stop offset="0.435" stop-color="#ca82ff"/><stop offset="0.478" stop-color="#d37dff"/><stop offset="0.522" stop-color="#dc78ff"/><stop offset="0.565" stop-color="#e573ff"/><stop offset="0.609" stop-color="#ed6eff"/><stop offset="0.652" stop-color="#f568ff"/><stop offset="0.696" stop-color="#fd62ff"/><stop offset="0.739" stop-color="#ff58f9"/><stop offset="0.783" stop-color="#ff4ef3"/><stop offset="0.826" stop-color="#ff44ec"/><stop offset="0.870" stop-color="#ff38e6"/><stop offset="0.913" stop-color="#ff2be1"/><stop offset="0.957" stop-color="#ff18dc"/><stop offset="1.000" stop-color="#ff00d7"/></linearGradient><linearGradient id="g127" gradientUnits="userSpaceOnUse" x1="198.1" y1="0" x2="314.5" y2="0"><stop offset="0.000" stop-color="#00a4ff"/><stop offset="0.043" stop-color="#38a1ff"/><stop offset="0.087" stop-color="#589eff"/><stop offset="0.130" stop-color="#6e9bff"/><stop offset="0.174" stop-color="#8098ff"/><stop offset="0.217" stop-color="#8f94ff"/><stop offset="0.261" stop-color="#9c91ff"/><stop offset="0.304" stop-color="#a88dff"/><stop offset="0.348" stop-color="#b489ff"/><stop offset="0.391" stop-color="#be85ff"/><stop offset="0.435" stop-color="#c881ff"/><stop offset="0.478" stop-color="#d27cff"/><stop offset="0.522" stop-color="#db77ff"/><stop offset="0.565" stop-color="#e372ff"/><stop offset="0.609" stop-color="#eb6dff"/><stop offset="0.652" stop-color="#f367ff"/><stop offset="0.696" stop-color="#fb61ff"/><stop offset="0.739" stop-color="#ff58fb"/><stop offset="0.783" stop-color="#ff4ef4"/><stop offset="0.826" stop-color="#ff44ee"/><stop offset="0.870" stop-color="#ff38e8"/><stop offset="0.913" stop-color="#ff2be2"/><stop offset="0.957" stop-color="#ff18dd"/><stop offset="1.000" stop-color="#ff00d8"/></linearGradient><linearGradient id="g128" gradientUnits="userSpaceOnUse" x1="198.2" y1="0" x2="313.8" y2="0"><stop offset="0.000" stop-color="#00a3ff"/><stop offset="0.043" stop-color="#38a0ff"/><stop offset="0.087" stop-color="#579dff"/><stop offset="0.130" stop-color="#6d9aff"/><stop offset="0.174" stop-color="#7f96ff"/><stop offset="0.217" stop-color="#8e93ff"/><stop offset="0.261" stop-color="#9b90ff"/><stop offset="0.304" stop-color="#a78cff"/><stop offset="0.348" stop-color="#b288ff"/><stop offset="0.391" stop-color="#bd84ff"/><stop offset="0.435" stop-color="#c780ff"/><stop offset="0.478" stop-color="#d07bff"/><stop offset="0.522" stop-color="#d977ff"/><stop offset="0.565" stop-color="#e172ff"/><stop offset="0.609" stop-color="#ea6cff"/><stop offset="0.652" stop-color="#f266ff"/><stop offset="0.696" stop-color="#f960ff"/><stop offset="0.739" stop-color="#ff58fd"/><stop offset="0.783" stop-color="#ff4ef6"/><stop offset="0.826" stop-color="#ff44f0"/><stop offset="0.870" stop-color="#ff38ea"/><stop offset="0.913" stop-color="#ff2be4"/><stop offset="0.957" stop-color="#ff18df"/><stop offset="1.000" stop-color="#ff00da"/></linearGradient><linearGradient id="g129" gradientUnits="userSpaceOnUse" x1="198.4" y1="0" x2="313.0" y2="0"><stop offset="0.000" stop-color="#00a2ff"/><stop offset="0.043" stop-color="#379fff"/><stop offset="0.087" stop-color="#579cff"/><stop offset="0.130" stop-color="#6c99ff"/><stop offset="0.174" stop-color="#7e95ff"/><stop offset="0.217" stop-color="#8d92ff"/><stop offset="0.261" stop-color="#9a8eff"/><stop offset="0.304" stop-color="#a68bff"/><stop offset="0.348" stop-color="#b187ff"/><stop offset="0.391" stop-color="#bb83ff"/><stop offset="0.435" stop-color="#c57fff"/><stop offset="0.478" stop-color="#ce7aff"/><stop offset="0.522" stop-color="#d776ff"/><stop offset="0.565" stop-color="#e071ff"/><stop offset="0.609" stop-color="#e86bff"/><stop offset="0.652" stop-color="#f065ff"/><stop offset="0.696" stop-color="#f75fff"/><stop offset="0.739" stop-color="#ff58ff"/><stop offset="0.783" stop-color="#ff4ef8"/><stop offset="0.826" stop-color="#ff44f2"/><stop offset="0.870" stop-color="#ff38ec"/><stop offset="0.913" stop-color="#ff2be6"/><stop offset="0.957" stop-color="#ff18e1"/><stop offset="1.000" stop-color="#ff00dc"/></linearGradient><linearGradient id="g130" gradientUnits="userSpaceOnUse" x1="198.5" y1="0" x2="312.2" y2="0"><stop offset="0.000" stop-color="#00a1ff"/><stop offset="0.043" stop-color="#379eff"/><stop offset="0.087" stop-color="#569bff"/><stop offset="0.130" stop-color="#6b98ff"/><stop offset="0.174" stop-color="#7d94ff"/><stop offset="0.217" stop-color="#8b91ff"/><stop offset="0.261" stop-color="#998dff"/><stop offset="0.304" stop-color="#a58aff"/><stop offset="0.348" stop-color="#b086ff"/><stop offset="0.391" stop-color="#ba82ff"/><stop offset="0.435" stop-color="#c47eff"/><stop offset="0.478" stop-color="#cd79ff"/><stop offset="0.522" stop-color="#d675ff"/><stop offset="0.565" stop-color="#de70ff"/><stop offset="0.609" stop-color="#e66aff"/><stop offset="0.652" stop-color="#ee65ff"/><stop offset="0.696" stop-color="#f65eff"/><stop offset="0.739" stop-color="#fd58ff"/><stop offset="0.783" stop-color="#ff4efa"/><stop offset="0.826" stop-color="#ff44f3"/><stop offset="0.870" stop-color="#ff38ed"/><stop offset="0.913" stop-color="#ff2be8"/><stop offset="0.957" stop-color="#ff18e2"/><stop offset="1.000" stop-color="#ff00dd"/></linearGradient><linearGradient id="g131" gradientUnits="userSpaceOnUse" x1="198.6" y1="0" x2="311.5" y2="0"><stop offset="0.000" stop-color="#009fff"/><stop offset="0.043" stop-color="#369dff"/><stop offset="0.087" stop-color="#559aff"/><stop offset="0.130" stop-color="#6a96ff"/><stop offset="0.174" stop-color="#7c93ff"/><stop offset="0.217" stop-color="#8a90ff"/><stop offset="0.261" stop-color="#988cff"/><stop offset="0.304" stop-color="#a389ff"/><stop offset="0.348" stop-color="#ae85ff"/><stop offset="0.391" stop-color="#b981ff"/><stop offset="0.435" stop-color="#c27dff"/><stop offset="0.478" stop-color="#cb78ff"/><stop offset="0.522" stop-color="#d474ff"/><stop offset="0.565" stop-color="#dd6fff"/><stop offset="0.609" stop-color="#e56aff"/><stop offset="0.652" stop-color="#ec64ff"/><stop offset="0.696" stop-color="#f45eff"/><stop offset="0.739" stop-color="#fb57ff"/><stop offset="0.783" stop-color="#ff4efc"/><stop offset="0.826" stop-color="#ff44f5"/><stop offset="0.870" stop-color="#ff38ef"/><stop offset="0.913" stop-color="#ff2aea"/><stop offset="0.957" stop-color="#ff18e4"/><stop offset="1.000" stop-color="#ff00df"/></linearGradient><linearGradient id="g132" gradientUnits="userSpaceOnUse" x1="198.7" y1="0" x2="310.7" y2="0"><stop offset="0.000" stop-color="#009eff"/><stop offset="0.045" stop-color="#379bff"/><stop offset="0.091" stop-color="#5798ff"/><stop offset="0.136" stop-color="#6c95ff"/><stop offset="0.182" stop-color="#7e92ff"/><stop offset="0.227" stop-color="#8c8eff"/><stop offset="0.273" stop-color="#9a8aff"/><stop offset="0.318" stop-color="#a687ff"/><stop offset="0.364" stop-color="#b183ff"/><stop offset="0.409" stop-color="#bb7eff"/><stop offset="0.455" stop-color="#c57aff"/><stop offset="0.500" stop-color="#ce75ff"/><stop offset="0.545" stop-color="#d770ff"/><stop offset="0.591" stop-color="#e06bff"/><stop offset="0.636" stop-color="#e865ff"/><stop offset="0.682" stop-color="#f05fff"/><stop offset="0.727" stop-color="#f758ff"/><stop offset="0.773" stop-color="#ff50ff"/><stop offset="0.818" stop-color="#ff46f8"/><stop offset="0.864" stop-color="#ff3af2"/><stop offset="0.909" stop-color="#ff2cec"/><stop offset="0.955" stop-color="#ff19e6"/><stop offset="1.000" stop-color="#ff00e1"/></linearGradient><linearGradient id="g133" gradientUnits="userSpaceOnUse" x1="198.9" y1="0" x2="310.0" y2="0"><stop offset="0.000" stop-color="#009dff"/><stop offset="0.045" stop-color="#379aff"/><stop offset="0.091" stop-color="#5697ff"/><stop offset="0.136" stop-color="#6b94ff"/><stop offset="0.182" stop-color="#7d91ff"/><stop offset="0.227" stop-color="#8b8dff"/><stop offset="0.273" stop-color="#9989ff"/><stop offset="0.318" stop-color="#a586ff"/><stop offset="0.364" stop-color="#b082ff"/><stop offset="0.409" stop-color="#ba7dff"/><stop offset="0.455" stop-color="#c479ff"/><stop offset="0.500" stop-color="#cd74ff"/><stop offset="0.545" stop-color="#d66fff"/><stop offset="0.591" stop-color="#de6aff"/><stop offset="0.636" stop-color="#e664ff"/><stop offset="0.682" stop-color="#ee5eff"/><stop offset="0.727" stop-color="#f557ff"/><stop offset="0.773" stop-color="#fd50ff"/><stop offset="0.818" stop-color="#ff45fa"/><stop offset="0.864" stop-color="#ff3af4"/><stop offset="0.909" stop-color="#ff2cee"/><stop offset="0.955" stop-color="#ff19e8"/><stop offset="1.000" stop-color="#ff00e3"/></linearGradient><linearGradient id="g134" gradientUnits="userSpaceOnUse" x1="199.0" y1="0" x2="309.2" y2="0"><stop offset="0.000" stop-color="#009cff"/><stop offset="0.045" stop-color="#3699ff"/><stop offset="0.091" stop-color="#5596ff"/><stop offset="0.136" stop-color="#6b93ff"/><stop offset="0.182" stop-color="#7c8fff"/><stop offset="0.227" stop-color="#8a8cff"/><stop offset="0.273" stop-color="#9788ff"/><stop offset="0.318" stop-color="#a385ff"/><stop offset="0.364" stop-color="#ae81ff"/><stop offset="0.409" stop-color="#b97cff"/><stop offset="0.455" stop-color="#c278ff"/><stop offset="0.500" stop-color="#cb73ff"/><stop offset="0.545" stop-color="#d46fff"/><stop offset="0.591" stop-color="#dc69ff"/><stop offset="0.636" stop-color="#e464ff"/><stop offset="0.682" stop-color="#ec5dff"/><stop offset="0.727" stop-color="#f457ff"/><stop offset="0.773" stop-color="#fb4fff"/><stop offset="0.818" stop-color="#ff45fc"/><stop offset="0.864" stop-color="#ff3af6"/><stop offset="0.909" stop-color="#ff2cef"/><stop offset="0.955" stop-color="#ff19ea"/><stop offset="1.000" stop-color="#ff00e4"/></linearGradient><linearGradient id="g135" gradientUnits="userSpaceOnUse" x1="199.1" y1="0" x2="308.5" y2="0"><stop offset="0.000" stop-color="#009bff"/><stop offset="0.045" stop-color="#3698ff"/><stop offset="0.091" stop-color="#5495ff"/><stop offset="0.136" stop-color="#6a92ff"/><stop offset="0.182" stop-color="#7b8eff"/><stop offset="0.227" stop-color="#898bff"/><stop offset="0.273" stop-color="#9687ff"/><stop offset="0.318" stop-color="#a284ff"/><stop offset="0.364" stop-color="#ad80ff"/><stop offset="0.409" stop-color="#b77cff"/><stop offset="0.455" stop-color="#c177ff"/><stop offset="0.500" stop-color="#ca73ff"/><stop offset="0.545" stop-color="#d26eff"/><stop offset="0.591" stop-color="#db68ff"/><stop offset="0.636" stop-color="#e363ff"/><stop offset="0.682" stop-color="#ea5dff"/><stop offset="0.727" stop-color="#f256ff"/><stop offset="0.773" stop-color="#f94eff"/><stop offset="0.818" stop-color="#ff45fe"/><stop offset="0.864" stop-color="#ff3af7"/><stop offset="0.909" stop-color="#ff2cf1"/><stop offset="0.955" stop-color="#ff19eb"/><stop offset="1.000" stop-color="#ff00e6"/></linearGradient><linearGradient id="g136" gradientUnits="userSpaceOnUse" x1="199.2" y1="0" x2="307.7" y2="0"><stop offset="0.000" stop-color="#009aff"/><stop offset="0.045" stop-color="#3597ff"/><stop offset="0.091" stop-color="#5494ff"/><stop offset="0.136" stop-color="#6991ff"/><stop offset="0.182" stop-color="#7a8dff"/><stop offset="0.227" stop-color="#888aff"/><stop offset="0.273" stop-color="#9586ff"/><stop offset="0.318" stop-color="#a183ff"/><stop offset="0.364" stop-color="#ac7fff"/><stop offset="0.409" stop-color="#b67bff"/><stop offset="0.455" stop-color="#bf76ff"/><stop offset="0.500" stop-color="#c872ff"/><stop offset="0.545" stop-color="#d16dff"/><stop offset="0.591" stop-color="#d968ff"/><stop offset="0.636" stop-color="#e162ff"/><stop offset="0.682" stop-color="#e95cff"/><stop offset="0.727" stop-color="#f055ff"/><stop offset="0.773" stop-color="#f74eff"/><stop offset="0.818" stop-color="#fe45ff"/><stop offset="0.864" stop-color="#ff3af9"/><stop offset="0.909" stop-color="#ff2cf3"/><stop offset="0.955" stop-color="#ff19ed"/><stop offset="1.000" stop-color="#ff00e8"/></linearGradient><linearGradient id="g137" gradientUnits="userSpaceOnUse" x1="199.4" y1="0" x2="307.0" y2="0"><stop offset="0.000" stop-color="#0099ff"/><stop offset="0.045" stop-color="#3596ff"/><stop offset="0.091" stop-color="#5393ff"/><stop offset="0.136" stop-color="#6890ff"/><stop offset="0.182" stop-color="#798cff"/><stop offset="0.227" stop-color="#8789ff"/><stop offset="0.273" stop-color="#9485ff"/><stop offset="0.318" stop-color="#a082ff"/><stop offset="0.364" stop-color="#ab7eff"/><stop offset="0.409" stop-color="#b57aff"/><stop offset="0.455" stop-color="#be75ff"/><stop offset="0.500" stop-color="#c771ff"/><stop offset="0.545" stop-color="#cf6cff"/><stop offset="0.591" stop-color="#d867ff"/><stop offset="0.636" stop-color="#df61ff"/><stop offset="0.682" stop-color="#e75bff"/><stop offset="0.727" stop-color="#ee54ff"/><stop offset="0.773" stop-color="#f54dff"/><stop offset="0.818" stop-color="#fc45ff"/><stop offset="0.864" stop-color="#ff39fb"/><stop offset="0.909" stop-color="#ff2cf5"/><stop offset="0.955" stop-color="#ff19ef"/><stop offset="1.000" stop-color="#ff00ea"/></linearGradient><linearGradient id="g138" gradientUnits="userSpaceOnUse" x1="199.5" y1="0" x2="306.2" y2="0"><stop offset="0.000" stop-color="#0098ff"/><stop offset="0.048" stop-color="#3695ff"/><stop offset="0.095" stop-color="#5591ff"/><stop offset="0.143" stop-color="#6a8eff"/><stop offset="0.190" stop-color="#7b8bff"/><stop offset="0.238" stop-color="#8987ff"/><stop offset="0.286" stop-color="#9683ff"/><stop offset="0.333" stop-color="#a27fff"/><stop offset="0.381" stop-color="#ad7bff"/><stop offset="0.429" stop-color="#b777ff"/><stop offset="0.476" stop-color="#c172ff"/><stop offset="0.524" stop-color="#ca6dff"/><stop offset="0.571" stop-color="#d368ff"/><stop offset="0.619" stop-color="#db63ff"/><stop offset="0.667" stop-color="#e35cff"/><stop offset="0.714" stop-color="#ea56ff"/><stop offset="0.762" stop-color="#f24eff"/><stop offset="0.810" stop-color="#f946ff"/><stop offset="0.857" stop-color="#ff3bfe"/><stop offset="0.905" stop-color="#ff2df7"/><stop offset="0.952" stop-color="#ff1af1"/><stop offset="1.000" stop-color="#ff00eb"/></linearGradient><linearGradient id="g139" gradientUnits="userSpaceOnUse" x1="199.6" y1="0" x2="305.5" y2="0"><stop offset="0.000" stop-color="#0097ff"/><stop offset="0.048" stop-color="#3694ff"/><stop offset="0.095" stop-color="#5490ff"/><stop offset="0.143" stop-color="#698dff"/><stop offset="0.190" stop-color="#7a8aff"/><stop offset="0.238" stop-color="#8886ff"/><stop offset="0.286" stop-color="#9582ff"/><stop offset="0.333" stop-color="#a17eff"/><stop offset="0.381" stop-color="#ac7aff"/><stop offset="0.429" stop-color="#b676ff"/><stop offset="0.476" stop-color="#bf71ff"/><stop offset="0.524" stop-color="#c86dff"/><stop offset="0.571" stop-color="#d167ff"/><stop offset="0.619" stop-color="#d962ff"/><stop offset="0.667" stop-color="#e15cff"/><stop offset="0.714" stop-color="#e955ff"/><stop offset="0.762" stop-color="#f04eff"/><stop offset="0.810" stop-color="#f745ff"/><stop offset="0.857" stop-color="#fe3bff"/><stop offset="0.905" stop-color="#ff2df9"/><stop offset="0.952" stop-color="#ff1af3"/><stop offset="1.000" stop-color="#ff00ed"/></linearGradient><linearGradient id="g140" gradientUnits="userSpaceOnUse" x1="199.7" y1="0" x2="304.7" y2="0"><stop offset="0.000" stop-color="#0096ff"/><stop offset="0.048" stop-color="#3593ff"/><stop offset="0.095" stop-color="#538fff"/><stop offset="0.143" stop-color="#688cff"/><stop offset="0.190" stop-color="#7989ff"/><stop offset="0.238" stop-color="#8785ff"/><stop offset="0.286" stop-color="#9481ff"/><stop offset="0.333" stop-color="#a07eff"/><stop offset="0.381" stop-color="#ab79ff"/><stop offset="0.429" stop-color="#b575ff"/><stop offset="0.476" stop-color="#be71ff"/><stop offset="0.524" stop-color="#c76cff"/><stop offset="0.571" stop-color="#cf67ff"/><stop offset="0.619" stop-color="#d861ff"/><stop offset="0.667" stop-color="#df5bff"/><stop offset="0.714" stop-color="#e754ff"/><stop offset="0.762" stop-color="#ee4dff"/><stop offset="0.810" stop-color="#f544ff"/><stop offset="0.857" stop-color="#fc3aff"/><stop offset="0.905" stop-color="#ff2dfb"/><stop offset="0.952" stop-color="#ff1af5"/><stop offset="1.000" stop-color="#ff00ef"/></linearGradient><linearGradient id="g141" gradientUnits="userSpaceOnUse" x1="199.8" y1="0" x2="303.9" y2="0"><stop offset="0.000" stop-color="#0095ff"/><stop offset="0.048" stop-color="#3591ff"/><stop offset="0.095" stop-color="#538eff"/><stop offset="0.143" stop-color="#678bff"/><stop offset="0.190" stop-color="#7888ff"/><stop offset="0.238" stop-color="#8684ff"/><stop offset="0.286" stop-color="#9380ff"/><stop offset="0.333" stop-color="#9f7dff"/><stop offset="0.381" stop-color="#a979ff"/><stop offset="0.429" stop-color="#b374ff"/><stop offset="0.476" stop-color="#bd70ff"/><stop offset="0.524" stop-color="#c56bff"/><stop offset="0.571" stop-color="#ce66ff"/><stop offset="0.619" stop-color="#d660ff"/><stop offset="0.667" stop-color="#de5aff"/><stop offset="0.714" stop-color="#e554ff"/><stop offset="0.762" stop-color="#ed4cff"/><stop offset="0.810" stop-color="#f444ff"/><stop offset="0.857" stop-color="#fa3aff"/><stop offset="0.905" stop-color="#ff2dfd"/><stop offset="0.952" stop-color="#ff1af7"/><stop offset="1.000" stop-color="#ff00f1"/></linearGradient><linearGradient id="g142" gradientUnits="userSpaceOnUse" x1="200.0" y1="0" x2="303.2" y2="0"><stop offset="0.000" stop-color="#0093ff"/><stop offset="0.048" stop-color="#3490ff"/><stop offset="0.095" stop-color="#528dff"/><stop offset="0.143" stop-color="#678aff"/><stop offset="0.190" stop-color="#7787ff"/><stop offset="0.238" stop-color="#8583ff"/><stop offset="0.286" stop-color="#9280ff"/><stop offset="0.333" stop-color="#9d7cff"/><stop offset="0.381" stop-color="#a878ff"/><stop offset="0.429" stop-color="#b273ff"/><stop offset="0.476" stop-color="#bb6fff"/><stop offset="0.524" stop-color="#c46aff"/><stop offset="0.571" stop-color="#cc65ff"/><stop offset="0.619" stop-color="#d45fff"/><stop offset="0.667" stop-color="#dc5aff"/><stop offset="0.714" stop-color="#e453ff"/><stop offset="0.762" stop-color="#eb4cff"/><stop offset="0.810" stop-color="#f243ff"/><stop offset="0.857" stop-color="#f839ff"/><stop offset="0.905" stop-color="#ff2dff"/><stop offset="0.952" stop-color="#ff1af9"/><stop offset="1.000" stop-color="#ff00f3"/></linearGradient><linearGradient id="g143" gradientUnits="userSpaceOnUse" x1="200.1" y1="0" x2="302.4" y2="0"><stop offset="0.000" stop-color="#0092ff"/><stop offset="0.050" stop-color="#358fff"/><stop offset="0.100" stop-color="#538cff"/><stop offset="0.150" stop-color="#6889ff"/><stop offset="0.200" stop-color="#7985ff"/><stop offset="0.250" stop-color="#8881ff"/><stop offset="0.300" stop-color="#947dff"/><stop offset="0.350" stop-color="#a079ff"/><stop offset="0.400" stop-color="#ab75ff"/><stop offset="0.450" stop-color="#b571ff"/><stop offset="0.500" stop-color="#be6cff"/><stop offset="0.550" stop-color="#c767ff"/><stop offset="0.600" stop-color="#d061ff"/><stop offset="0.650" stop-color="#d85bff"/><stop offset="0.700" stop-color="#e054ff"/><stop offset="0.750" stop-color="#e74dff"/><stop offset="0.800" stop-color="#ef44ff"/><stop offset="0.850" stop-color="#f63aff"/><stop offset="0.900" stop-color="#fd2eff"/><stop offset="0.950" stop-color="#ff1bfb"/><stop offset="1.000" stop-color="#ff00f5"/></linearGradient><linearGradient id="g144" gradientUnits="userSpaceOnUse" x1="200.2" y1="0" x2="301.7" y2="0"><stop offset="0.000" stop-color="#0091ff"/><stop offset="0.050" stop-color="#358eff"/><stop offset="0.100" stop-color="#538bff"/><stop offset="0.150" stop-color="#6888ff"/><stop offset="0.200" stop-color="#7884ff"/><stop offset="0.250" stop-color="#8780ff"/><stop offset="0.300" stop-color="#937cff"/><stop offset="0.350" stop-color="#9f78ff"/><stop offset="0.400" stop-color="#aa74ff"/><stop offset="0.450" stop-color="#b370ff"/><stop offset="0.500" stop-color="#bd6bff"/><stop offset="0.550" stop-color="#c666ff"/><stop offset="0.600" stop-color="#ce60ff"/><stop offset="0.650" stop-color="#d65aff"/><stop offset="0.700" stop-color="#de54ff"/><stop offset="0.750" stop-color="#e64cff"/><stop offset="0.800" stop-color="#ed44ff"/><stop offset="0.850" stop-color="#f43aff"/><stop offset="0.900" stop-color="#fb2dff"/><stop offset="0.950" stop-color="#ff1bfd"/><stop offset="1.000" stop-color="#ff00f6"/></linearGradient><linearGradient id="g145" gradientUnits="userSpaceOnUse" x1="200.3" y1="0" x2="300.9" y2="0"><stop offset="0.000" stop-color="#0090ff"/><stop offset="0.050" stop-color="#348dff"/><stop offset="0.100" stop-color="#528aff"/><stop offset="0.150" stop-color="#6787ff"/><stop offset="0.200" stop-color="#7783ff"/><stop offset="0.250" stop-color="#867fff"/><stop offset="0.300" stop-color="#927cff"/><stop offset="0.350" stop-color="#9e78ff"/><stop offset="0.400" stop-color="#a873ff"/><stop offset="0.450" stop-color="#b26fff"/><stop offset="0.500" stop-color="#bb6aff"/><stop offset="0.550" stop-color="#c465ff"/><stop offset="0.600" stop-color="#cd5fff"/><stop offset="0.650" stop-color="#d559ff"/><stop offset="0.700" stop-color="#dc53ff"/><stop offset="0.750" stop-color="#e44cff"/><stop offset="0.800" stop-color="#eb43ff"/><stop offset="0.850" stop-color="#f239ff"/><stop offset="0.900" stop-color="#f92dff"/><stop offset="0.950" stop-color="#ff1bff"/><stop offset="1.000" stop-color="#ff00f8"/></linearGradient><linearGradient id="g146" gradientUnits="userSpaceOnUse" x1="200.5" y1="0" x2="300.2" y2="0"><stop offset="0.000" stop-color="#008fff"/><stop offset="0.050" stop-color="#348cff"/><stop offset="0.100" stop-color="#5189ff"/><stop offset="0.150" stop-color="#6686ff"/><stop offset="0.200" stop-color="#7682ff"/><stop offset="0.250" stop-color="#857eff"/><stop offset="0.300" stop-color="#917bff"/><stop offset="0.350" stop-color="#9d77ff"/><stop offset="0.400" stop-color="#a772ff"/><stop offset="0.450" stop-color="#b16eff"/><stop offset="0.500" stop-color="#ba69ff"/><stop offset="0.550" stop-color="#c364ff"/><stop offset="0.600" stop-color="#cb5fff"/><stop offset="0.650" stop-color="#d359ff"/><stop offset="0.700" stop-color="#db52ff"/><stop offset="0.750" stop-color="#e24bff"/><stop offset="0.800" stop-color="#e943ff"/><stop offset="0.850" stop-color="#f039ff"/><stop offset="0.900" stop-color="#f72dff"/><stop offset="0.950" stop-color="#fd1aff"/><stop offset="1.000" stop-color="#ff00fa"/></linearGradient><linearGradient id="g147" gradientUnits="userSpaceOnUse" x1="200.6" y1="0" x2="299.4" y2="0"><stop offset="0.000" stop-color="#008eff"/><stop offset="0.050" stop-color="#338bff"/><stop offset="0.100" stop-color="#5188ff"/><stop offset="0.150" stop-color="#6585ff"/><stop offset="0.200" stop-color="#7581ff"/><stop offset="0.250" stop-color="#847dff"/><stop offset="0.300" stop-color="#907aff"/><stop offset="0.350" stop-color="#9b76ff"/><stop offset="0.400" stop-color="#a672ff"/><stop offset="0.450" stop-color="#af6dff"/><stop offset="0.500" stop-color="#b968ff"/><stop offset="0.550" stop-color="#c163ff"/><stop offset="0.600" stop-color="#ca5eff"/><stop offset="0.650" stop-color="#d158ff"/><stop offset="0.700" stop-color="#d952ff"/><stop offset="0.750" stop-color="#e04aff"/><stop offset="0.800" stop-color="#e742ff"/><stop offset="0.850" stop-color="#ee38ff"/><stop offset="0.900" stop-color="#f52cff"/><stop offset="0.950" stop-color="#fc1aff"/><stop offset="1.000" stop-color="#ff00fc"/></linearGradient><linearGradient id="g148" gradientUnits="userSpaceOnUse" x1="200.7" y1="0" x2="298.7" y2="0"><stop offset="0.000" stop-color="#008dff"/><stop offset="0.050" stop-color="#338aff"/><stop offset="0.100" stop-color="#5087ff"/><stop offset="0.150" stop-color="#6484ff"/><stop offset="0.200" stop-color="#7580ff"/><stop offset="0.250" stop-color="#837dff"/><stop offset="0.300" stop-color="#8f79ff"/><stop offset="0.350" stop-color="#9a75ff"/><stop offset="0.400" stop-color="#a571ff"/><stop offset="0.450" stop-color="#ae6cff"/><stop offset="0.500" stop-color="#b768ff"/><stop offset="0.550" stop-color="#c063ff"/><stop offset="0.600" stop-color="#c85dff"/><stop offset="0.650" stop-color="#d057ff"/><stop offset="0.700" stop-color="#d751ff"/><stop offset="0.750" stop-color="#df4aff"/><stop offset="0.800" stop-color="#e641ff"/><stop offset="0.850" stop-color="#ed38ff"/><stop offset="0.900" stop-color="#f32cff"/><stop offset="0.950" stop-color="#fa1aff"/><stop offset="1.000" stop-color="#ff00fe"/></linearGradient><linearGradient id="g149" gradientUnits="userSpaceOnUse" x1="200.8" y1="0" x2="297.9" y2="0"><stop offset="0.000" stop-color="#008cff"/><stop offset="0.053" stop-color="#3489ff"/><stop offset="0.105" stop-color="#5286ff"/><stop offset="0.158" stop-color="#6682ff"/><stop offset="0.211" stop-color="#777eff"/><stop offset="0.263" stop-color="#857bff"/><stop offset="0.316" stop-color="#9177ff"/><stop offset="0.368" stop-color="#9d72ff"/><stop offset="0.421" stop-color="#a76eff"/><stop offset="0.474" stop-color="#b169ff"/><stop offset="0.526" stop-color="#ba64ff"/><stop offset="0.579" stop-color="#c35fff"/><stop offset="0.632" stop-color="#cc59ff"/><stop offset="0.684" stop-color="#d452ff"/><stop offset="0.737" stop-color="#db4bff"/><stop offset="0.789" stop-color="#e343ff"/><stop offset="0.842" stop-color="#ea39ff"/><stop offset="0.895" stop-color="#f12dff"/><stop offset="0.947" stop-color="#f71bff"/><stop offset="1.000" stop-color="#fe00ff"/></linearGradient><linearGradient id="g150" gradientUnits="userSpaceOnUse" x1="201.0" y1="0" x2="297.1" y2="0"><stop offset="0.000" stop-color="#008bff"/><stop offset="0.053" stop-color="#3488ff"/><stop offset="0.105" stop-color="#5185ff"/><stop offset="0.158" stop-color="#6581ff"/><stop offset="0.211" stop-color="#767eff"/><stop offset="0.263" stop-color="#847aff"/><stop offset="0.316" stop-color="#9076ff"/><stop offset="0.368" stop-color="#9c72ff"/><stop offset="0.421" stop-color="#a66dff"/><stop offset="0.474" stop-color="#b068ff"/><stop offset="0.526" stop-color="#b963ff"/><stop offset="0.579" stop-color="#c25eff"/><stop offset="0.632" stop-color="#ca58ff"/><stop offset="0.684" stop-color="#d252ff"/><stop offset="0.737" stop-color="#da4aff"/><stop offset="0.789" stop-color="#e142ff"/><stop offset="0.842" stop-color="#e838ff"/><stop offset="0.895" stop-color="#ef2cff"/><stop offset="0.947" stop-color="#f61aff"/><stop offset="1.000" stop-color="#fc00ff"/></linearGradient><linearGradient id="g151" gradientUnits="userSpaceOnUse" x1="201.1" y1="0" x2="296.4" y2="0"><stop offset="0.000" stop-color="#008aff"/><stop offset="0.053" stop-color="#3387ff"/><stop offset="0.105" stop-color="#5084ff"/><stop offset="0.158" stop-color="#6580ff"/><stop offset="0.211" stop-color="#757dff"/><stop offset="0.263" stop-color="#8379ff"/><stop offset="0.316" stop-color="#8f75ff"/><stop offset="0.368" stop-color="#9b71ff"/><stop offset="0.421" stop-color="#a56cff"/><stop offset="0.474" stop-color="#af68ff"/><stop offset="0.526" stop-color="#b863ff"/><stop offset="0.579" stop-color="#c05dff"/><stop offset="0.632" stop-color="#c857ff"/><stop offset="0.684" stop-color="#d051ff"/><stop offset="0.737" stop-color="#d84aff"/><stop offset="0.789" stop-color="#df42ff"/><stop offset="0.842" stop-color="#e638ff"/><stop offset="0.895" stop-color="#ed2cff"/><stop offset="0.947" stop-color="#f41aff"/><stop offset="1.000" stop-color="#fa00ff"/></linearGradient><linearGradient id="g152" gradientUnits="userSpaceOnUse" x1="201.2" y1="0" x2="295.6" y2="0"><stop offset="0.000" stop-color="#0089ff"/><stop offset="0.053" stop-color="#3386ff"/><stop offset="0.105" stop-color="#5083ff"/><stop offset="0.158" stop-color="#647fff"/><stop offset="0.211" stop-color="#747cff"/><stop offset="0.263" stop-color="#8278ff"/><stop offset="0.316" stop-color="#8e74ff"/><stop offset="0.368" stop-color="#9970ff"/><stop offset="0.421" stop-color="#a46bff"/><stop offset="0.474" stop-color="#ad67ff"/><stop offset="0.526" stop-color="#b662ff"/><stop offset="0.579" stop-color="#bf5cff"/><stop offset="0.632" stop-color="#c757ff"/><stop offset="0.684" stop-color="#cf50ff"/><stop offset="0.737" stop-color="#d649ff"/><stop offset="0.789" stop-color="#dd41ff"/><stop offset="0.842" stop-color="#e437ff"/><stop offset="0.895" stop-color="#eb2bff"/><stop offset="0.947" stop-color="#f21aff"/><stop offset="1.000" stop-color="#f800ff"/></linearGradient><linearGradient id="g153" gradientUnits="userSpaceOnUse" x1="201.3" y1="0" x2="294.9" y2="0"><stop offset="0.000" stop-color="#0088ff"/><stop offset="0.053" stop-color="#3285ff"/><stop offset="0.105" stop-color="#4f82ff"/><stop offset="0.158" stop-color="#637eff"/><stop offset="0.211" stop-color="#737bff"/><stop offset="0.263" stop-color="#8177ff"/><stop offset="0.316" stop-color="#8d73ff"/><stop offset="0.368" stop-color="#986fff"/><stop offset="0.421" stop-color="#a26bff"/><stop offset="0.474" stop-color="#ac66ff"/><stop offset="0.526" stop-color="#b561ff"/><stop offset="0.579" stop-color="#bd5cff"/><stop offset="0.632" stop-color="#c556ff"/><stop offset="0.684" stop-color="#cd50ff"/><stop offset="0.737" stop-color="#d548ff"/><stop offset="0.789" stop-color="#dc40ff"/><stop offset="0.842" stop-color="#e337ff"/><stop offset="0.895" stop-color="#e92bff"/><stop offset="0.947" stop-color="#f019ff"/><stop offset="1.000" stop-color="#f600ff"/></linearGradient><linearGradient id="g154" gradientUnits="userSpaceOnUse" x1="201.5" y1="0" x2="294.1" y2="0"><stop offset="0.000" stop-color="#0087ff"/><stop offset="0.053" stop-color="#3184ff"/><stop offset="0.105" stop-color="#4e81ff"/><stop offset="0.158" stop-color="#627dff"/><stop offset="0.211" stop-color="#727aff"/><stop offset="0.263" stop-color="#8076ff"/><stop offset="0.316" stop-color="#8c72ff"/><stop offset="0.368" stop-color="#976eff"/><stop offset="0.421" stop-color="#a16aff"/><stop offset="0.474" stop-color="#ab65ff"/><stop offset="0.526" stop-color="#b460ff"/><stop offset="0.579" stop-color="#bc5bff"/><stop offset="0.632" stop-color="#c455ff"/><stop offset="0.684" stop-color="#cc4fff"/><stop offset="0.737" stop-color="#d348ff"/><stop offset="0.789" stop-color="#da40ff"/><stop offset="0.842" stop-color="#e136ff"/><stop offset="0.895" stop-color="#e82aff"/><stop offset="0.947" stop-color="#ee19ff"/><stop offset="1.000" stop-color="#f400ff"/></linearGradient><linearGradient id="g155" gradientUnits="userSpaceOnUse" x1="201.6" y1="0" x2="293.4" y2="0"><stop offset="0.000" stop-color="#0086ff"/><stop offset="0.056" stop-color="#3383ff"/><stop offset="0.111" stop-color="#507fff"/><stop offset="0.167" stop-color="#647cff"/><stop offset="0.222" stop-color="#7478ff"/><stop offset="0.278" stop-color="#8274ff"/><stop offset="0.333" stop-color="#8f70ff"/><stop offset="0.389" stop-color="#9a6cff"/><stop offset="0.444" stop-color="#a467ff"/><stop offset="0.500" stop-color="#ae62ff"/><stop offset="0.556" stop-color="#b75dff"/><stop offset="0.611" stop-color="#bf57ff"/><stop offset="0.667" stop-color="#c850ff"/><stop offset="0.722" stop-color="#cf49ff"/><stop offset="0.778" stop-color="#d741ff"/><stop offset="0.833" stop-color="#de37ff"/><stop offset="0.889" stop-color="#e52bff"/><stop offset="0.944" stop-color="#ec1aff"/><stop offset="1.000" stop-color="#f300ff"/></linearGradient><linearGradient id="g156" gradientUnits="userSpaceOnUse" x1="201.7" y1="0" x2="292.6" y2="0"><stop offset="0.000" stop-color="#0085ff"/><stop offset="0.056" stop-color="#3282ff"/><stop offset="0.111" stop-color="#4f7eff"/><stop offset="0.167" stop-color="#637bff"/><stop offset="0.222" stop-color="#7377ff"/><stop offset="0.278" stop-color="#8173ff"/><stop offset="0.333" stop-color="#8e6fff"/><stop offset="0.389" stop-color="#996bff"/><stop offset="0.444" stop-color="#a366ff"/><stop offset="0.500" stop-color="#ac61ff"/><stop offset="0.556" stop-color="#b55cff"/><stop offset="0.611" stop-color="#be56ff"/><stop offset="0.667" stop-color="#c650ff"/><stop offset="0.722" stop-color="#ce49ff"/><stop offset="0.778" stop-color="#d540ff"/><stop offset="0.833" stop-color="#dc37ff"/><stop offset="0.889" stop-color="#e32bff"/><stop offset="0.944" stop-color="#ea19ff"/><stop offset="1.000" stop-color="#f100ff"/></linearGradient><linearGradient id="g157" gradientUnits="userSpaceOnUse" x1="201.8" y1="0" x2="291.9" y2="0"><stop offset="0.000" stop-color="#0084ff"/><stop offset="0.056" stop-color="#3281ff"/><stop offset="0.111" stop-color="#4f7dff"/><stop offset="0.167" stop-color="#637aff"/><stop offset="0.222" stop-color="#7376ff"/><stop offset="0.278" stop-color="#8072ff"/><stop offset="0.333" stop-color="#8c6eff"/><stop offset="0.389" stop-color="#976aff"/><stop offset="0.444" stop-color="#a265ff"/><stop offset="0.500" stop-color="#ab60ff"/><stop offset="0.556" stop-color="#b45bff"/><stop offset="0.611" stop-color="#bd55ff"/><stop offset="0.667" stop-color="#c54fff"/><stop offset="0.722" stop-color="#cc48ff"/><stop offset="0.778" stop-color="#d440ff"/><stop offset="0.833" stop-color="#db36ff"/><stop offset="0.889" stop-color="#e22bff"/><stop offset="0.944" stop-color="#e819ff"/><stop offset="1.000" stop-color="#ef00ff"/></linearGradient><linearGradient id="g158" gradientUnits="userSpaceOnUse" x1="202.0" y1="0" x2="291.1" y2="0"><stop offset="0.000" stop-color="#0083ff"/><stop offset="0.056" stop-color="#3180ff"/><stop offset="0.111" stop-color="#4e7cff"/><stop offset="0.167" stop-color="#6279ff"/><stop offset="0.222" stop-color="#7275ff"/><stop offset="0.278" stop-color="#7f71ff"/><stop offset="0.333" stop-color="#8b6dff"/><stop offset="0.389" stop-color="#9669ff"/><stop offset="0.444" stop-color="#a064ff"/><stop offset="0.500" stop-color="#aa60ff"/><stop offset="0.556" stop-color="#b35aff"/><stop offset="0.611" stop-color="#bb55ff"/><stop offset="0.667" stop-color="#c34eff"/><stop offset="0.722" stop-color="#cb47ff"/><stop offset="0.778" stop-color="#d23fff"/><stop offset="0.833" stop-color="#d936ff"/><stop offset="0.889" stop-color="#e02aff"/><stop offset="0.944" stop-color="#e719ff"/><stop offset="1.000" stop-color="#ed00ff"/></linearGradient><linearGradient id="g159" gradientUnits="userSpaceOnUse" x1="202.1" y1="0" x2="290.3" y2="0"><stop offset="0.000" stop-color="#0082ff"/><stop offset="0.056" stop-color="#317fff"/><stop offset="0.111" stop-color="#4d7cff"/><stop offset="0.167" stop-color="#6178ff"/><stop offset="0.222" stop-color="#7174ff"/><stop offset="0.278" stop-color="#7e70ff"/><stop offset="0.333" stop-color="#8a6cff"/><stop offset="0.389" stop-color="#9568ff"/><stop offset="0.444" stop-color="#9f64ff"/><stop offset="0.500" stop-color="#a95fff"/><stop offset="0.556" stop-color="#b15aff"/><stop offset="0.611" stop-color="#ba54ff"/><stop offset="0.667" stop-color="#c24eff"/><stop offset="0.722" stop-color="#c947ff"/><stop offset="0.778" stop-color="#d03fff"/><stop offset="0.833" stop-color="#d735ff"/><stop offset="0.889" stop-color="#de2aff"/><stop offset="0.944" stop-color="#e518ff"/><stop offset="1.000" stop-color="#eb00ff"/></linearGradient><linearGradient id="g160" gradientUnits="userSpaceOnUse" x1="202.2" y1="0" x2="289.6" y2="0"><stop offset="0.000" stop-color="#0081ff"/><stop offset="0.059" stop-color="#327eff"/><stop offset="0.118" stop-color="#4f7aff"/><stop offset="0.176" stop-color="#6376ff"/><stop offset="0.235" stop-color="#7373ff"/><stop offset="0.294" stop-color="#816eff"/><stop offset="0.353" stop-color="#8d6aff"/><stop offset="0.412" stop-color="#9865ff"/><stop offset="0.471" stop-color="#a261ff"/><stop offset="0.529" stop-color="#ac5bff"/><stop offset="0.588" stop-color="#b556ff"/><stop offset="0.647" stop-color="#bd4fff"/><stop offset="0.706" stop-color="#c548ff"/><stop offset="0.765" stop-color="#cd40ff"/><stop offset="0.824" stop-color="#d537ff"/><stop offset="0.882" stop-color="#dc2bff"/><stop offset="0.941" stop-color="#e319ff"/><stop offset="1.000" stop-color="#e900ff"/></linearGradient><linearGradient id="g161" gradientUnits="userSpaceOnUse" x1="202.3" y1="0" x2="288.8" y2="0"><stop offset="0.000" stop-color="#0080ff"/><stop offset="0.059" stop-color="#327dff"/><stop offset="0.118" stop-color="#4e79ff"/><stop offset="0.176" stop-color="#6276ff"/><stop offset="0.235" stop-color="#7272ff"/><stop offset="0.294" stop-color="#806eff"/><stop offset="0.353" stop-color="#8c69ff"/><stop offset="0.412" stop-color="#9765ff"/><stop offset="0.471" stop-color="#a160ff"/><stop offset="0.529" stop-color="#ab5bff"/><stop offset="0.588" stop-color="#b355ff"/><stop offset="0.647" stop-color="#bc4fff"/><stop offset="0.706" stop-color="#c448ff"/><stop offset="0.765" stop-color="#cc40ff"/><stop offset="0.824" stop-color="#d336ff"/><stop offset="0.882" stop-color="#da2aff"/><stop offset="0.941" stop-color="#e119ff"/><stop offset="1.000" stop-color="#e800ff"/></linearGradient><linearGradient id="g162" gradientUnits="userSpaceOnUse" x1="202.5" y1="0" x2="288.1" y2="0"><stop offset="0.000" stop-color="#007fff"/><stop offset="0.059" stop-color="#317cff"/><stop offset="0.118" stop-color="#4e78ff"/><stop offset="0.176" stop-color="#6175ff"/><stop offset="0.235" stop-color="#7171ff"/><stop offset="0.294" stop-color="#7f6dff"/><stop offset="0.353" stop-color="#8b68ff"/><stop offset="0.412" stop-color="#9664ff"/><stop offset="0.471" stop-color="#a05fff"/><stop offset="0.529" stop-color="#a95aff"/><stop offset="0.588" stop-color="#b254ff"/><stop offset="0.647" stop-color="#ba4eff"/><stop offset="0.706" stop-color="#c247ff"/><stop offset="0.765" stop-color="#ca3fff"/><stop offset="0.824" stop-color="#d136ff"/><stop offset="0.882" stop-color="#d82aff"/><stop offset="0.941" stop-color="#df19ff"/><stop offset="1.000" stop-color="#e600ff"/></linearGradient><linearGradient id="g163" gradientUnits="userSpaceOnUse" x1="202.6" y1="0" x2="287.3" y2="0"><stop offset="0.000" stop-color="#007eff"/><stop offset="0.059" stop-color="#317bff"/><stop offset="0.118" stop-color="#4d77ff"/><stop offset="0.176" stop-color="#6174ff"/><stop offset="0.235" stop-color="#7070ff"/><stop offset="0.294" stop-color="#7e6cff"/><stop offset="0.353" stop-color="#8a68ff"/><stop offset="0.412" stop-color="#9563ff"/><stop offset="0.471" stop-color="#9f5eff"/><stop offset="0.529" stop-color="#a859ff"/><stop offset="0.588" stop-color="#b153ff"/><stop offset="0.647" stop-color="#b94dff"/><stop offset="0.706" stop-color="#c146ff"/><stop offset="0.765" stop-color="#c83eff"/><stop offset="0.824" stop-color="#d035ff"/><stop offset="0.882" stop-color="#d729ff"/><stop offset="0.941" stop-color="#dd18ff"/><stop offset="1.000" stop-color="#e400ff"/></linearGradient><linearGradient id="g164" gradientUnits="userSpaceOnUse" x1="202.7" y1="0" x2="286.6" y2="0"><stop offset="0.000" stop-color="#007dff"/><stop offset="0.059" stop-color="#307aff"/><stop offset="0.118" stop-color="#4c76ff"/><stop offset="0.176" stop-color="#6073ff"/><stop offset="0.235" stop-color="#6f6fff"/><stop offset="0.294" stop-color="#7d6bff"/><stop offset="0.353" stop-color="#8967ff"/><stop offset="0.412" stop-color="#9362ff"/><stop offset="0.471" stop-color="#9d5dff"/><stop offset="0.529" stop-color="#a758ff"/><stop offset="0.588" stop-color="#af53ff"/><stop offset="0.647" stop-color="#b74cff"/><stop offset="0.706" stop-color="#bf46ff"/><stop offset="0.765" stop-color="#c73eff"/><stop offset="0.824" stop-color="#ce35ff"/><stop offset="0.882" stop-color="#d529ff"/><stop offset="0.941" stop-color="#dc18ff"/><stop offset="1.000" stop-color="#e200ff"/></linearGradient><linearGradient id="g165" gradientUnits="userSpaceOnUse" x1="202.8" y1="0" x2="285.8" y2="0"><stop offset="0.000" stop-color="#007cff"/><stop offset="0.059" stop-color="#3079ff"/><stop offset="0.118" stop-color="#4c75ff"/><stop offset="0.176" stop-color="#5f72ff"/><stop offset="0.235" stop-color="#6e6eff"/><stop offset="0.294" stop-color="#7c6aff"/><stop offset="0.353" stop-color="#8866ff"/><stop offset="0.412" stop-color="#9261ff"/><stop offset="0.471" stop-color="#9c5dff"/><stop offset="0.529" stop-color="#a557ff"/><stop offset="0.588" stop-color="#ae52ff"/><stop offset="0.647" stop-color="#b64cff"/><stop offset="0.706" stop-color="#be45ff"/><stop offset="0.765" stop-color="#c53dff"/><stop offset="0.824" stop-color="#cc34ff"/><stop offset="0.882" stop-color="#d329ff"/><stop offset="0.941" stop-color="#da18ff"/><stop offset="1.000" stop-color="#e000ff"/></linearGradient><linearGradient id="g166" gradientUnits="userSpaceOnUse" x1="203.0" y1="0" x2="285.1" y2="0"><stop offset="0.000" stop-color="#007bff"/><stop offset="0.062" stop-color="#3178ff"/><stop offset="0.125" stop-color="#4e74ff"/><stop offset="0.188" stop-color="#6170ff"/><stop offset="0.250" stop-color="#716cff"/><stop offset="0.312" stop-color="#7f68ff"/><stop offset="0.375" stop-color="#8b63ff"/><stop offset="0.438" stop-color="#955fff"/><stop offset="0.500" stop-color="#9f59ff"/><stop offset="0.562" stop-color="#a954ff"/><stop offset="0.625" stop-color="#b24dff"/><stop offset="0.688" stop-color="#ba47ff"/><stop offset="0.750" stop-color="#c23fff"/><stop offset="0.812" stop-color="#c935ff"/><stop offset="0.875" stop-color="#d12aff"/><stop offset="0.938" stop-color="#d819ff"/><stop offset="1.000" stop-color="#df00ff"/></linearGradient><linearGradient id="g167" gradientUnits="userSpaceOnUse" x1="203.1" y1="0" x2="284.3" y2="0"><stop offset="0.000" stop-color="#007aff"/><stop offset="0.062" stop-color="#3177ff"/><stop offset="0.125" stop-color="#4d73ff"/><stop offset="0.188" stop-color="#606fff"/><stop offset="0.250" stop-color="#706bff"/><stop offset="0.312" stop-color="#7e67ff"/><stop offset="0.375" stop-color="#8963ff"/><stop offset="0.437" stop-color="#945eff"/><stop offset="0.500" stop-color="#9e59ff"/><stop offset="0.563" stop-color="#a753ff"/><stop offset="0.625" stop-color="#b04dff"/><stop offset="0.688" stop-color="#b846ff"/><stop offset="0.750" stop-color="#c03eff"/><stop offset="0.812" stop-color="#c835ff"/><stop offset="0.875" stop-color="#cf29ff"/><stop offset="0.937" stop-color="#d618ff"/><stop offset="1.000" stop-color="#dd00ff"/></linearGradient><linearGradient id="g168" gradientUnits="userSpaceOnUse" x1="203.2" y1="0" x2="283.5" y2="0"><stop offset="0.000" stop-color="#0079ff"/><stop offset="0.062" stop-color="#3076ff"/><stop offset="0.125" stop-color="#4c72ff"/><stop offset="0.187" stop-color="#606eff"/><stop offset="0.250" stop-color="#6f6aff"/><stop offset="0.313" stop-color="#7c66ff"/><stop offset="0.375" stop-color="#8862ff"/><stop offset="0.437" stop-color="#935dff"/><stop offset="0.500" stop-color="#9d58ff"/><stop offset="0.563" stop-color="#a652ff"/><stop offset="0.625" stop-color="#af4cff"/><stop offset="0.688" stop-color="#b745ff"/><stop offset="0.750" stop-color="#bf3eff"/><stop offset="0.813" stop-color="#c634ff"/><stop offset="0.875" stop-color="#cd29ff"/><stop offset="0.938" stop-color="#d418ff"/><stop offset="1.000" stop-color="#db00ff"/></linearGradient><linearGradient id="g169" gradientUnits="userSpaceOnUse" x1="203.3" y1="0" x2="282.8" y2="0"><stop offset="0.000" stop-color="#0078ff"/><stop offset="0.063" stop-color="#3075ff"/><stop offset="0.125" stop-color="#4c71ff"/><stop offset="0.188" stop-color="#5f6eff"/><stop offset="0.250" stop-color="#6e6aff"/><stop offset="0.313" stop-color="#7b65ff"/><stop offset="0.375" stop-color="#8761ff"/><stop offset="0.438" stop-color="#925cff"/><stop offset="0.500" stop-color="#9c57ff"/><stop offset="0.562" stop-color="#a552ff"/><stop offset="0.625" stop-color="#ad4bff"/><stop offset="0.687" stop-color="#b645ff"/><stop offset="0.750" stop-color="#bd3dff"/><stop offset="0.813" stop-color="#c534ff"/><stop offset="0.875" stop-color="#cc28ff"/><stop offset="0.937" stop-color="#d318ff"/><stop offset="1.000" stop-color="#d900ff"/></linearGradient><linearGradient id="g170" gradientUnits="userSpaceOnUse" x1="203.5" y1="0" x2="282.0" y2="0"><stop offset="0.000" stop-color="#0077ff"/><stop offset="0.063" stop-color="#2f74ff"/><stop offset="0.125" stop-color="#4b70ff"/><stop offset="0.188" stop-color="#5e6dff"/><stop offset="0.250" stop-color="#6d69ff"/><stop offset="0.312" stop-color="#7a65ff"/><stop offset="0.375" stop-color="#8660ff"/><stop offset="0.437" stop-color="#915bff"/><stop offset="0.500" stop-color="#9a56ff"/><stop offset="0.562" stop-color="#a351ff"/><stop offset="0.625" stop-color="#ac4bff"/><stop offset="0.688" stop-color="#b444ff"/><stop offset="0.750" stop-color="#bc3cff"/><stop offset="0.813" stop-color="#c333ff"/><stop offset="0.875" stop-color="#ca28ff"/><stop offset="0.938" stop-color="#d117ff"/><stop offset="1.000" stop-color="#d700ff"/></linearGradient><linearGradient id="g171" gradientUnits="userSpaceOnUse" x1="203.6" y1="0" x2="281.3" y2="0"><stop offset="0.000" stop-color="#0076ff"/><stop offset="0.062" stop-color="#2f73ff"/><stop offset="0.125" stop-color="#4a6fff"/><stop offset="0.188" stop-color="#5d6cff"/><stop offset="0.250" stop-color="#6c68ff"/><stop offset="0.312" stop-color="#7964ff"/><stop offset="0.375" stop-color="#855fff"/><stop offset="0.438" stop-color="#8f5bff"/><stop offset="0.500" stop-color="#9956ff"/><stop offset="0.562" stop-color="#a250ff"/><stop offset="0.625" stop-color="#ab4aff"/><stop offset="0.688" stop-color="#b343ff"/><stop offset="0.750" stop-color="#ba3cff"/><stop offset="0.812" stop-color="#c133ff"/><stop offset="0.875" stop-color="#c827ff"/><stop offset="0.938" stop-color="#cf17ff"/><stop offset="1.000" stop-color="#d600ff"/></linearGradient><linearGradient id="g172" gradientUnits="userSpaceOnUse" x1="203.7" y1="0" x2="280.5" y2="0"><stop offset="0.000" stop-color="#0075ff"/><stop offset="0.067" stop-color="#3072ff"/><stop offset="0.133" stop-color="#4c6eff"/><stop offset="0.200" stop-color="#606aff"/><stop offset="0.267" stop-color="#6f66ff"/><stop offset="0.333" stop-color="#7c61ff"/><stop offset="0.400" stop-color="#885dff"/><stop offset="0.467" stop-color="#9358ff"/><stop offset="0.533" stop-color="#9d52ff"/><stop offset="0.600" stop-color="#a64cff"/><stop offset="0.667" stop-color="#af45ff"/><stop offset="0.733" stop-color="#b73dff"/><stop offset="0.800" stop-color="#be34ff"/><stop offset="0.867" stop-color="#c629ff"/><stop offset="0.933" stop-color="#cd18ff"/><stop offset="1.000" stop-color="#d400ff"/></linearGradient><linearGradient id="g173" gradientUnits="userSpaceOnUse" x1="203.8" y1="0" x2="279.8" y2="0"><stop offset="0.000" stop-color="#0075ff"/><stop offset="0.067" stop-color="#3071ff"/><stop offset="0.133" stop-color="#4b6dff"/><stop offset="0.200" stop-color="#5f69ff"/><stop offset="0.267" stop-color="#6e65ff"/><stop offset="0.333" stop-color="#7b61ff"/><stop offset="0.400" stop-color="#875cff"/><stop offset="0.467" stop-color="#9257ff"/><stop offset="0.533" stop-color="#9b51ff"/><stop offset="0.600" stop-color="#a54bff"/><stop offset="0.667" stop-color="#ad44ff"/><stop offset="0.733" stop-color="#b53dff"/><stop offset="0.800" stop-color="#bd34ff"/><stop offset="0.867" stop-color="#c428ff"/><stop offset="0.933" stop-color="#cb18ff"/><stop offset="1.000" stop-color="#d200ff"/></linearGradient><linearGradient id="g174" gradientUnits="userSpaceOnUse" x1="204.0" y1="0" x2="279.0" y2="0"><stop offset="0.000" stop-color="#0074ff"/><stop offset="0.067" stop-color="#2f70ff"/><stop offset="0.133" stop-color="#4b6cff"/><stop offset="0.200" stop-color="#5e68ff"/><stop offset="0.267" stop-color="#6d64ff"/><stop offset="0.333" stop-color="#7a60ff"/><stop offset="0.400" stop-color="#865bff"/><stop offset="0.467" stop-color="#9056ff"/><stop offset="0.533" stop-color="#9a51ff"/><stop offset="0.600" stop-color="#a34aff"/><stop offset="0.667" stop-color="#ac44ff"/><stop offset="0.733" stop-color="#b43cff"/><stop offset="0.800" stop-color="#bb33ff"/><stop offset="0.867" stop-color="#c328ff"/><stop offset="0.933" stop-color="#ca17ff"/><stop offset="1.000" stop-color="#d000ff"/></linearGradient><linearGradient id="g175" gradientUnits="userSpaceOnUse" x1="204.1" y1="0" x2="278.3" y2="0"><stop offset="0.000" stop-color="#0073ff"/><stop offset="0.067" stop-color="#2f6fff"/><stop offset="0.133" stop-color="#4a6bff"/><stop offset="0.200" stop-color="#5d67ff"/><stop offset="0.267" stop-color="#6c63ff"/><stop offset="0.333" stop-color="#795fff"/><stop offset="0.400" stop-color="#855aff"/><stop offset="0.467" stop-color="#8f55ff"/><stop offset="0.533" stop-color="#9950ff"/><stop offset="0.600" stop-color="#a24aff"/><stop offset="0.667" stop-color="#aa43ff"/><stop offset="0.733" stop-color="#b23cff"/><stop offset="0.800" stop-color="#ba33ff"/><stop offset="0.867" stop-color="#c127ff"/><stop offset="0.933" stop-color="#c817ff"/><stop offset="1.000" stop-color="#cf00ff"/></linearGradient><linearGradient id="g176" gradientUnits="userSpaceOnUse" x1="204.2" y1="0" x2="277.5" y2="0"><stop offset="0.000" stop-color="#0072ff"/><stop offset="0.067" stop-color="#2e6eff"/><stop offset="0.133" stop-color="#496aff"/><stop offset="0.200" stop-color="#5c67ff"/><stop offset="0.267" stop-color="#6b62ff"/><stop offset="0.333" stop-color="#785eff"/><stop offset="0.400" stop-color="#8459ff"/><stop offset="0.467" stop-color="#8e54ff"/><stop offset="0.533" stop-color="#984fff"/><stop offset="0.600" stop-color="#a049ff"/><stop offset="0.667" stop-color="#a942ff"/><stop offset="0.733" stop-color="#b13bff"/><stop offset="0.800" stop-color="#b832ff"/><stop offset="0.867" stop-color="#bf27ff"/><stop offset="0.933" stop-color="#c616ff"/><stop offset="1.000" stop-color="#cd00ff"/></linearGradient><linearGradient id="g177" gradientUnits="userSpaceOnUse" x1="204.3" y1="0" x2="276.7" y2="0"><stop offset="0.000" stop-color="#0071ff"/><stop offset="0.071" stop-color="#306dff"/><stop offset="0.143" stop-color="#4c69ff"/><stop offset="0.214" stop-color="#5f65ff"/><stop offset="0.286" stop-color="#6e60ff"/><stop offset="0.357" stop-color="#7b5cff"/><stop offset="0.429" stop-color="#8757ff"/><stop offset="0.500" stop-color="#9251ff"/><stop offset="0.571" stop-color="#9b4bff"/><stop offset="0.643" stop-color="#a444ff"/><stop offset="0.714" stop-color="#ad3dff"/><stop offset="0.786" stop-color="#b534ff"/><stop offset="0.857" stop-color="#bd28ff"/><stop offset="0.929" stop-color="#c418ff"/><stop offset="1.000" stop-color="#cb00ff"/></linearGradient><linearGradient id="g178" gradientUnits="userSpaceOnUse" x1="204.5" y1="0" x2="276.0" y2="0"><stop offset="0.000" stop-color="#0070ff"/><stop offset="0.071" stop-color="#2f6cff"/><stop offset="0.143" stop-color="#4b68ff"/><stop offset="0.214" stop-color="#5e64ff"/><stop offset="0.286" stop-color="#6d60ff"/><stop offset="0.357" stop-color="#7a5bff"/><stop offset="0.429" stop-color="#8656ff"/><stop offset="0.500" stop-color="#9050ff"/><stop offset="0.571" stop-color="#9a4aff"/><stop offset="0.643" stop-color="#a344ff"/><stop offset="0.714" stop-color="#ac3cff"/><stop offset="0.786" stop-color="#b433ff"/><stop offset="0.857" stop-color="#bb28ff"/><stop offset="0.929" stop-color="#c317ff"/><stop offset="1.000" stop-color="#ca00ff"/></linearGradient><linearGradient id="g179" gradientUnits="userSpaceOnUse" x1="204.6" y1="0" x2="275.2" y2="0"><stop offset="0.000" stop-color="#006fff"/><stop offset="0.071" stop-color="#2f6bff"/><stop offset="0.143" stop-color="#4a67ff"/><stop offset="0.214" stop-color="#5d63ff"/><stop offset="0.286" stop-color="#6c5fff"/><stop offset="0.357" stop-color="#795aff"/><stop offset="0.429" stop-color="#8555ff"/><stop offset="0.500" stop-color="#8f50ff"/><stop offset="0.571" stop-color="#994aff"/><stop offset="0.643" stop-color="#a243ff"/><stop offset="0.714" stop-color="#aa3bff"/><stop offset="0.786" stop-color="#b232ff"/><stop offset="0.857" stop-color="#ba27ff"/><stop offset="0.929" stop-color="#c117ff"/><stop offset="1.000" stop-color="#c800ff"/></linearGradient><linearGradient id="g180" gradientUnits="userSpaceOnUse" x1="204.7" y1="0" x2="274.5" y2="0"><stop offset="0.000" stop-color="#006eff"/><stop offset="0.071" stop-color="#2e6aff"/><stop offset="0.143" stop-color="#4966ff"/><stop offset="0.214" stop-color="#5c62ff"/><stop offset="0.286" stop-color="#6b5eff"/><stop offset="0.357" stop-color="#7859ff"/><stop offset="0.429" stop-color="#8354ff"/><stop offset="0.500" stop-color="#8e4fff"/><stop offset="0.571" stop-color="#9749ff"/><stop offset="0.643" stop-color="#a042ff"/><stop offset="0.714" stop-color="#a93bff"/><stop offset="0.786" stop-color="#b132ff"/><stop offset="0.857" stop-color="#b827ff"/><stop offset="0.929" stop-color="#bf17ff"/><stop offset="1.000" stop-color="#c600ff"/></linearGradient><linearGradient id="g181" gradientUnits="userSpaceOnUse" x1="204.8" y1="0" x2="273.7" y2="0"><stop offset="0.000" stop-color="#006dff"/><stop offset="0.071" stop-color="#2e69ff"/><stop offset="0.143" stop-color="#4965ff"/><stop offset="0.214" stop-color="#5b61ff"/><stop offset="0.286" stop-color="#6a5dff"/><stop offset="0.357" stop-color="#7758ff"/><stop offset="0.429" stop-color="#8253ff"/><stop offset="0.500" stop-color="#8d4eff"/><stop offset="0.571" stop-color="#9648ff"/><stop offset="0.643" stop-color="#9f42ff"/><stop offset="0.714" stop-color="#a73aff"/><stop offset="0.786" stop-color="#af31ff"/><stop offset="0.857" stop-color="#b626ff"/><stop offset="0.929" stop-color="#be16ff"/><stop offset="1.000" stop-color="#c400ff"/></linearGradient><linearGradient id="g182" gradientUnits="userSpaceOnUse" x1="205.0" y1="0" x2="273.0" y2="0"><stop offset="0.000" stop-color="#006cff"/><stop offset="0.071" stop-color="#2d68ff"/><stop offset="0.143" stop-color="#4864ff"/><stop offset="0.214" stop-color="#5a60ff"/><stop offset="0.286" stop-color="#695cff"/><stop offset="0.357" stop-color="#7658ff"/><stop offset="0.429" stop-color="#8153ff"/><stop offset="0.500" stop-color="#8b4dff"/><stop offset="0.571" stop-color="#9548ff"/><stop offset="0.643" stop-color="#9d41ff"/><stop offset="0.714" stop-color="#a63aff"/><stop offset="0.786" stop-color="#ad31ff"/><stop offset="0.857" stop-color="#b526ff"/><stop offset="0.929" stop-color="#bc16ff"/><stop offset="1.000" stop-color="#c300ff"/></linearGradient><linearGradient id="g183" gradientUnits="userSpaceOnUse" x1="205.1" y1="0" x2="272.2" y2="0"><stop offset="0.000" stop-color="#006bff"/><stop offset="0.077" stop-color="#2f67ff"/><stop offset="0.154" stop-color="#4a63ff"/><stop offset="0.231" stop-color="#5d5fff"/><stop offset="0.308" stop-color="#6c5aff"/><stop offset="0.385" stop-color="#7955ff"/><stop offset="0.462" stop-color="#8550ff"/><stop offset="0.538" stop-color="#8f4aff"/><stop offset="0.615" stop-color="#9943ff"/><stop offset="0.692" stop-color="#a23bff"/><stop offset="0.769" stop-color="#aa32ff"/><stop offset="0.846" stop-color="#b227ff"/><stop offset="0.923" stop-color="#ba17ff"/><stop offset="1.000" stop-color="#c100ff"/></linearGradient><linearGradient id="g184" gradientUnits="userSpaceOnUse" x1="205.2" y1="0" x2="271.5" y2="0"><stop offset="0.000" stop-color="#006aff"/><stop offset="0.077" stop-color="#2e66ff"/><stop offset="0.154" stop-color="#4962ff"/><stop offset="0.231" stop-color="#5c5eff"/><stop offset="0.308" stop-color="#6b59ff"/><stop offset="0.385" stop-color="#7854ff"/><stop offset="0.462" stop-color="#844fff"/><stop offset="0.538" stop-color="#8e49ff"/><stop offset="0.615" stop-color="#9742ff"/><stop offset="0.692" stop-color="#a03bff"/><stop offset="0.769" stop-color="#a932ff"/><stop offset="0.846" stop-color="#b127ff"/><stop offset="0.923" stop-color="#b817ff"/><stop offset="1.000" stop-color="#bf00ff"/></linearGradient><linearGradient id="g185" gradientUnits="userSpaceOnUse" x1="205.3" y1="0" x2="270.7" y2="0"><stop offset="0.000" stop-color="#0069ff"/><stop offset="0.077" stop-color="#2e65ff"/><stop offset="0.154" stop-color="#4961ff"/><stop offset="0.231" stop-color="#5b5dff"/><stop offset="0.308" stop-color="#6a58ff"/><stop offset="0.385" stop-color="#7753ff"/><stop offset="0.462" stop-color="#824eff"/><stop offset="0.538" stop-color="#8d48ff"/><stop offset="0.615" stop-color="#9642ff"/><stop offset="0.692" stop-color="#9f3aff"/><stop offset="0.769" stop-color="#a731ff"/><stop offset="0.846" stop-color="#af26ff"/><stop offset="0.923" stop-color="#b616ff"/><stop offset="1.000" stop-color="#be00ff"/></linearGradient><linearGradient id="g186" gradientUnits="userSpaceOnUse" x1="205.5" y1="0" x2="269.9" y2="0"><stop offset="0.000" stop-color="#0068ff"/><stop offset="0.077" stop-color="#2d64ff"/><stop offset="0.154" stop-color="#4860ff"/><stop offset="0.231" stop-color="#5a5cff"/><stop offset="0.308" stop-color="#6957ff"/><stop offset="0.385" stop-color="#7653ff"/><stop offset="0.462" stop-color="#814dff"/><stop offset="0.538" stop-color="#8b47ff"/><stop offset="0.615" stop-color="#9541ff"/><stop offset="0.692" stop-color="#9d3aff"/><stop offset="0.769" stop-color="#a631ff"/><stop offset="0.846" stop-color="#ad26ff"/><stop offset="0.923" stop-color="#b516ff"/><stop offset="1.000" stop-color="#bc00ff"/></linearGradient><linearGradient id="g187" gradientUnits="userSpaceOnUse" x1="205.6" y1="0" x2="269.2" y2="0"><stop offset="0.000" stop-color="#0067ff"/><stop offset="0.077" stop-color="#2d63ff"/><stop offset="0.154" stop-color="#475fff"/><stop offset="0.231" stop-color="#595bff"/><stop offset="0.308" stop-color="#6857ff"/><stop offset="0.385" stop-color="#7552ff"/><stop offset="0.462" stop-color="#804cff"/><stop offset="0.538" stop-color="#8a47ff"/><stop offset="0.615" stop-color="#9340ff"/><stop offset="0.692" stop-color="#9c39ff"/><stop offset="0.769" stop-color="#a430ff"/><stop offset="0.846" stop-color="#ac25ff"/><stop offset="0.923" stop-color="#b315ff"/><stop offset="1.000" stop-color="#ba00ff"/></linearGradient><linearGradient id="g188" gradientUnits="userSpaceOnUse" x1="205.7" y1="0" x2="268.4" y2="0"><stop offset="0.000" stop-color="#0066ff"/><stop offset="0.077" stop-color="#2c62ff"/><stop offset="0.154" stop-color="#465eff"/><stop offset="0.231" stop-color="#595aff"/><stop offset="0.308" stop-color="#6756ff"/><stop offset="0.385" stop-color="#7451ff"/><stop offset="0.462" stop-color="#7f4cff"/><stop offset="0.538" stop-color="#8946ff"/><stop offset="0.615" stop-color="#9240ff"/><stop offset="0.692" stop-color="#9b38ff"/><stop offset="0.769" stop-color="#a330ff"/><stop offset="0.846" stop-color="#aa25ff"/><stop offset="0.923" stop-color="#b215ff"/><stop offset="1.000" stop-color="#b800ff"/></linearGradient><linearGradient id="g189" gradientUnits="userSpaceOnUse" x1="205.8" y1="0" x2="267.7" y2="0"><stop offset="0.000" stop-color="#0065ff"/><stop offset="0.083" stop-color="#2e61ff"/><stop offset="0.167" stop-color="#495dff"/><stop offset="0.250" stop-color="#5c58ff"/><stop offset="0.333" stop-color="#6a53ff"/><stop offset="0.417" stop-color="#774eff"/><stop offset="0.500" stop-color="#8348ff"/><stop offset="0.583" stop-color="#8d42ff"/><stop offset="0.667" stop-color="#963aff"/><stop offset="0.750" stop-color="#9f31ff"/><stop offset="0.833" stop-color="#a726ff"/><stop offset="0.917" stop-color="#af16ff"/><stop offset="1.000" stop-color="#b700ff"/></linearGradient><linearGradient id="g190" gradientUnits="userSpaceOnUse" x1="206.0" y1="0" x2="266.9" y2="0"><stop offset="0.000" stop-color="#0064ff"/><stop offset="0.083" stop-color="#2e60ff"/><stop offset="0.167" stop-color="#485cff"/><stop offset="0.250" stop-color="#5b57ff"/><stop offset="0.333" stop-color="#6953ff"/><stop offset="0.417" stop-color="#764dff"/><stop offset="0.500" stop-color="#8147ff"/><stop offset="0.583" stop-color="#8c41ff"/><stop offset="0.667" stop-color="#953aff"/><stop offset="0.750" stop-color="#9e31ff"/><stop offset="0.833" stop-color="#a626ff"/><stop offset="0.917" stop-color="#ae16ff"/><stop offset="1.000" stop-color="#b500ff"/></linearGradient><linearGradient id="g191" gradientUnits="userSpaceOnUse" x1="206.1" y1="0" x2="266.2" y2="0"><stop offset="0.000" stop-color="#0063ff"/><stop offset="0.083" stop-color="#2d5fff"/><stop offset="0.167" stop-color="#475bff"/><stop offset="0.250" stop-color="#5a57ff"/><stop offset="0.333" stop-color="#6852ff"/><stop offset="0.417" stop-color="#754cff"/><stop offset="0.500" stop-color="#8047ff"/><stop offset="0.583" stop-color="#8a40ff"/><stop offset="0.667" stop-color="#9439ff"/><stop offset="0.750" stop-color="#9c30ff"/><stop offset="0.833" stop-color="#a425ff"/><stop offset="0.917" stop-color="#ac16ff"/><stop offset="1.000" stop-color="#b300ff"/></linearGradient><linearGradient id="g192" gradientUnits="userSpaceOnUse" x1="206.2" y1="0" x2="265.4" y2="0"><stop offset="0.000" stop-color="#0062ff"/><stop offset="0.083" stop-color="#2c5eff"/><stop offset="0.167" stop-color="#475aff"/><stop offset="0.250" stop-color="#5956ff"/><stop offset="0.333" stop-color="#6751ff"/><stop offset="0.417" stop-color="#744cff"/><stop offset="0.500" stop-color="#7f46ff"/><stop offset="0.583" stop-color="#8940ff"/><stop offset="0.667" stop-color="#9238ff"/><stop offset="0.750" stop-color="#9b30ff"/><stop offset="0.833" stop-color="#a325ff"/><stop offset="0.917" stop-color="#aa15ff"/><stop offset="1.000" stop-color="#b200ff"/></linearGradient><linearGradient id="g193" gradientUnits="userSpaceOnUse" x1="206.3" y1="0" x2="264.7" y2="0"><stop offset="0.000" stop-color="#0061ff"/><stop offset="0.083" stop-color="#2c5dff"/><stop offset="0.167" stop-color="#4659ff"/><stop offset="0.250" stop-color="#5855ff"/><stop offset="0.333" stop-color="#6650ff"/><stop offset="0.417" stop-color="#734bff"/><stop offset="0.500" stop-color="#7e45ff"/><stop offset="0.583" stop-color="#883fff"/><stop offset="0.667" stop-color="#9138ff"/><stop offset="0.750" stop-color="#992fff"/><stop offset="0.833" stop-color="#a124ff"/><stop offset="0.917" stop-color="#a915ff"/><stop offset="1.000" stop-color="#b000ff"/></linearGradient><linearGradient id="g194" gradientUnits="userSpaceOnUse" x1="206.5" y1="0" x2="263.9" y2="0"><stop offset="0.000" stop-color="#0060ff"/><stop offset="0.091" stop-color="#2e5cff"/><stop offset="0.182" stop-color="#4958ff"/><stop offset="0.273" stop-color="#5b53ff"/><stop offset="0.364" stop-color="#6a4dff"/><stop offset="0.455" stop-color="#7748ff"/><stop offset="0.545" stop-color="#8241ff"/><stop offset="0.636" stop-color="#8c3aff"/><stop offset="0.727" stop-color="#9531ff"/><stop offset="0.818" stop-color="#9e26ff"/><stop offset="0.909" stop-color="#a616ff"/><stop offset="1.000" stop-color="#ae00ff"/></linearGradient><linearGradient id="g195" gradientUnits="userSpaceOnUse" x1="206.6" y1="0" x2="263.2" y2="0"><stop offset="0.000" stop-color="#005fff"/><stop offset="0.091" stop-color="#2d5bff"/><stop offset="0.182" stop-color="#4857ff"/><stop offset="0.273" stop-color="#5a52ff"/><stop offset="0.364" stop-color="#694dff"/><stop offset="0.455" stop-color="#7547ff"/><stop offset="0.545" stop-color="#8140ff"/><stop offset="0.636" stop-color="#8b39ff"/><stop offset="0.727" stop-color="#9430ff"/><stop offset="0.818" stop-color="#9d26ff"/><stop offset="0.909" stop-color="#a516ff"/><stop offset="1.000" stop-color="#ad00ff"/></linearGradient><linearGradient id="g196" gradientUnits="userSpaceOnUse" x1="206.7" y1="0" x2="262.4" y2="0"><stop offset="0.000" stop-color="#005fff"/><stop offset="0.091" stop-color="#2d5aff"/><stop offset="0.182" stop-color="#4756ff"/><stop offset="0.273" stop-color="#5951ff"/><stop offset="0.364" stop-color="#684cff"/><stop offset="0.455" stop-color="#7446ff"/><stop offset="0.545" stop-color="#7f40ff"/><stop offset="0.636" stop-color="#8938ff"/><stop offset="0.727" stop-color="#9330ff"/><stop offset="0.818" stop-color="#9b25ff"/><stop offset="0.909" stop-color="#a315ff"/><stop offset="1.000" stop-color="#ab00ff"/></linearGradient><linearGradient id="g197" gradientUnits="userSpaceOnUse" x1="206.8" y1="0" x2="261.6" y2="0"><stop offset="0.000" stop-color="#005eff"/><stop offset="0.091" stop-color="#2c59ff"/><stop offset="0.182" stop-color="#4655ff"/><stop offset="0.273" stop-color="#5850ff"/><stop offset="0.364" stop-color="#674bff"/><stop offset="0.455" stop-color="#7345ff"/><stop offset="0.545" stop-color="#7e3fff"/><stop offset="0.636" stop-color="#8838ff"/><stop offset="0.727" stop-color="#912fff"/><stop offset="0.818" stop-color="#9a25ff"/><stop offset="0.909" stop-color="#a215ff"/><stop offset="1.000" stop-color="#a900ff"/></linearGradient><linearGradient id="g198" gradientUnits="userSpaceOnUse" x1="207.0" y1="0" x2="260.9" y2="0"><stop offset="0.000" stop-color="#005dff"/><stop offset="0.091" stop-color="#2b58ff"/><stop offset="0.182" stop-color="#4554ff"/><stop offset="0.273" stop-color="#574fff"/><stop offset="0.364" stop-color="#654aff"/><stop offset="0.455" stop-color="#7244ff"/><stop offset="0.545" stop-color="#7d3eff"/><stop offset="0.636" stop-color="#8737ff"/><stop offset="0.727" stop-color="#902fff"/><stop offset="0.818" stop-color="#9824ff"/><stop offset="0.909" stop-color="#a015ff"/><stop offset="1.000" stop-color="#a700ff"/></linearGradient><linearGradient id="g199" gradientUnits="userSpaceOnUse" x1="207.1" y1="0" x2="260.1" y2="0"><stop offset="0.000" stop-color="#005cff"/><stop offset="0.091" stop-color="#2b58ff"/><stop offset="0.182" stop-color="#4453ff"/><stop offset="0.273" stop-color="#564eff"/><stop offset="0.364" stop-color="#6449ff"/><stop offset="0.455" stop-color="#7144ff"/><stop offset="0.545" stop-color="#7b3dff"/><stop offset="0.636" stop-color="#8536ff"/><stop offset="0.727" stop-color="#8e2eff"/><stop offset="0.818" stop-color="#9624ff"/><stop offset="0.909" stop-color="#9e14ff"/><stop offset="1.000" stop-color="#a600ff"/></linearGradient><linearGradient id="g200" gradientUnits="userSpaceOnUse" x1="207.2" y1="0" x2="259.4" y2="0"><stop offset="0.000" stop-color="#005bff"/><stop offset="0.100" stop-color="#2d56ff"/><stop offset="0.200" stop-color="#4751ff"/><stop offset="0.300" stop-color="#5a4cff"/><stop offset="0.400" stop-color="#6846ff"/><stop offset="0.500" stop-color="#7540ff"/><stop offset="0.600" stop-color="#8039ff"/><stop offset="0.700" stop-color="#8a30ff"/><stop offset="0.800" stop-color="#9325ff"/><stop offset="0.900" stop-color="#9c16ff"/><stop offset="1.000" stop-color="#a400ff"/></linearGradient><linearGradient id="g201" gradientUnits="userSpaceOnUse" x1="207.3" y1="0" x2="258.6" y2="0"><stop offset="0.000" stop-color="#005aff"/><stop offset="0.100" stop-color="#2c55ff"/><stop offset="0.200" stop-color="#4750ff"/><stop offset="0.300" stop-color="#594bff"/><stop offset="0.400" stop-color="#6746ff"/><stop offset="0.500" stop-color="#743fff"/><stop offset="0.600" stop-color="#7f38ff"/><stop offset="0.700" stop-color="#892fff"/><stop offset="0.800" stop-color="#9225ff"/><stop offset="0.900" stop-color="#9a15ff"/><stop offset="1.000" stop-color="#a200ff"/></linearGradient><linearGradient id="g202" gradientUnits="userSpaceOnUse" x1="207.5" y1="0" x2="257.9" y2="0"><stop offset="0.000" stop-color="#0059ff"/><stop offset="0.100" stop-color="#2c54ff"/><stop offset="0.200" stop-color="#4650ff"/><stop offset="0.300" stop-color="#584aff"/><stop offset="0.400" stop-color="#6645ff"/><stop offset="0.500" stop-color="#723eff"/><stop offset="0.600" stop-color="#7d37ff"/><stop offset="0.700" stop-color="#872fff"/><stop offset="0.800" stop-color="#9024ff"/><stop offset="0.900" stop-color="#9915ff"/><stop offset="1.000" stop-color="#a100ff"/></linearGradient><linearGradient id="g203" gradientUnits="userSpaceOnUse" x1="207.6" y1="0" x2="257.1" y2="0"><stop offset="0.000" stop-color="#0058ff"/><stop offset="0.100" stop-color="#2b53ff"/><stop offset="0.200" stop-color="#454fff"/><stop offset="0.300" stop-color="#5749ff"/><stop offset="0.400" stop-color="#6544ff"/><stop offset="0.500" stop-color="#713eff"/><stop offset="0.600" stop-color="#7c37ff"/><stop offset="0.700" stop-color="#862eff"/><stop offset="0.800" stop-color="#8f24ff"/><stop offset="0.900" stop-color="#9714ff"/><stop offset="1.000" stop-color="#9f00ff"/></linearGradient><linearGradient id="g204" gradientUnits="userSpaceOnUse" x1="207.7" y1="0" x2="256.4" y2="0"><stop offset="0.000" stop-color="#0057ff"/><stop offset="0.100" stop-color="#2a52ff"/><stop offset="0.200" stop-color="#444eff"/><stop offset="0.300" stop-color="#5549ff"/><stop offset="0.400" stop-color="#6443ff"/><stop offset="0.500" stop-color="#703dff"/><stop offset="0.600" stop-color="#7a36ff"/><stop offset="0.700" stop-color="#842eff"/><stop offset="0.800" stop-color="#8d23ff"/><stop offset="0.900" stop-color="#9514ff"/><stop offset="1.000" stop-color="#9d00ff"/></linearGradient><linearGradient id="g205" gradientUnits="userSpaceOnUse" x1="207.8" y1="0" x2="255.6" y2="0"><stop offset="0.000" stop-color="#0056ff"/><stop offset="0.100" stop-color="#2a51ff"/><stop offset="0.200" stop-color="#434dff"/><stop offset="0.300" stop-color="#5448ff"/><stop offset="0.400" stop-color="#6242ff"/><stop offset="0.500" stop-color="#6e3cff"/><stop offset="0.600" stop-color="#7935ff"/><stop offset="0.700" stop-color="#832dff"/><stop offset="0.800" stop-color="#8b23ff"/><stop offset="0.900" stop-color="#9413ff"/><stop offset="1.000" stop-color="#9b00ff"/></linearGradient><linearGradient id="g206" gradientUnits="userSpaceOnUse" x1="208.0" y1="0" x2="254.8" y2="0"><stop offset="0.000" stop-color="#0055ff"/><stop offset="0.111" stop-color="#2c50ff"/><stop offset="0.222" stop-color="#464bff"/><stop offset="0.333" stop-color="#5845ff"/><stop offset="0.444" stop-color="#673fff"/><stop offset="0.556" stop-color="#7338ff"/><stop offset="0.667" stop-color="#7e2fff"/><stop offset="0.778" stop-color="#8825ff"/><stop offset="0.889" stop-color="#9115ff"/><stop offset="1.000" stop-color="#9a00ff"/></linearGradient><linearGradient id="g207" gradientUnits="userSpaceOnUse" x1="208.1" y1="0" x2="254.1" y2="0"><stop offset="0.000" stop-color="#0054ff"/><stop offset="0.111" stop-color="#2c4fff"/><stop offset="0.222" stop-color="#454aff"/><stop offset="0.333" stop-color="#5744ff"/><stop offset="0.444" stop-color="#653eff"/><stop offset="0.556" stop-color="#7237ff"/><stop offset="0.667" stop-color="#7d2fff"/><stop offset="0.778" stop-color="#8624ff"/><stop offset="0.889" stop-color="#9015ff"/><stop offset="1.000" stop-color="#9800ff"/></linearGradient><linearGradient id="g208" gradientUnits="userSpaceOnUse" x1="208.2" y1="0" x2="253.3" y2="0"><stop offset="0.000" stop-color="#0053ff"/><stop offset="0.111" stop-color="#2b4eff"/><stop offset="0.222" stop-color="#4449ff"/><stop offset="0.333" stop-color="#5643ff"/><stop offset="0.444" stop-color="#643dff"/><stop offset="0.556" stop-color="#7036ff"/><stop offset="0.667" stop-color="#7b2eff"/><stop offset="0.778" stop-color="#8523ff"/><stop offset="0.889" stop-color="#8e14ff"/><stop offset="1.000" stop-color="#9600ff"/></linearGradient><linearGradient id="g209" gradientUnits="userSpaceOnUse" x1="208.3" y1="0" x2="252.6" y2="0"><stop offset="0.000" stop-color="#0052ff"/><stop offset="0.111" stop-color="#2a4dff"/><stop offset="0.222" stop-color="#4348ff"/><stop offset="0.333" stop-color="#5543ff"/><stop offset="0.444" stop-color="#633cff"/><stop offset="0.556" stop-color="#6f35ff"/><stop offset="0.667" stop-color="#7a2dff"/><stop offset="0.778" stop-color="#8323ff"/><stop offset="0.889" stop-color="#8c14ff"/><stop offset="1.000" stop-color="#9400ff"/></linearGradient><linearGradient id="g210" gradientUnits="userSpaceOnUse" x1="208.5" y1="0" x2="251.8" y2="0"><stop offset="0.000" stop-color="#0051ff"/><stop offset="0.111" stop-color="#294cff"/><stop offset="0.222" stop-color="#4247ff"/><stop offset="0.333" stop-color="#5442ff"/><stop offset="0.444" stop-color="#623cff"/><stop offset="0.556" stop-color="#6e35ff"/><stop offset="0.667" stop-color="#782cff"/><stop offset="0.778" stop-color="#8222ff"/><stop offset="0.889" stop-color="#8a13ff"/><stop offset="1.000" stop-color="#9300ff"/></linearGradient><linearGradient id="g211" gradientUnits="userSpaceOnUse" x1="208.6" y1="0" x2="251.1" y2="0"><stop offset="0.000" stop-color="#0050ff"/><stop offset="0.125" stop-color="#2c4bff"/><stop offset="0.250" stop-color="#4645ff"/><stop offset="0.375" stop-color="#583fff"/><stop offset="0.500" stop-color="#6737ff"/><stop offset="0.625" stop-color="#732fff"/><stop offset="0.750" stop-color="#7e24ff"/><stop offset="0.875" stop-color="#8815ff"/><stop offset="1.000" stop-color="#9100ff"/></linearGradient><linearGradient id="g212" gradientUnits="userSpaceOnUse" x1="208.7" y1="0" x2="250.3" y2="0"><stop offset="0.000" stop-color="#004fff"/><stop offset="0.125" stop-color="#2c4aff"/><stop offset="0.250" stop-color="#4544ff"/><stop offset="0.375" stop-color="#573eff"/><stop offset="0.500" stop-color="#6537ff"/><stop offset="0.625" stop-color="#712eff"/><stop offset="0.750" stop-color="#7c24ff"/><stop offset="0.875" stop-color="#8615ff"/><stop offset="1.000" stop-color="#8f00ff"/></linearGradient><linearGradient id="g213" gradientUnits="userSpaceOnUse" x1="208.8" y1="0" x2="249.6" y2="0"><stop offset="0.000" stop-color="#004eff"/><stop offset="0.125" stop-color="#2b49ff"/><stop offset="0.250" stop-color="#4443ff"/><stop offset="0.375" stop-color="#563dff"/><stop offset="0.500" stop-color="#6436ff"/><stop offset="0.625" stop-color="#702eff"/><stop offset="0.750" stop-color="#7b23ff"/><stop offset="0.875" stop-color="#8414ff"/><stop offset="1.000" stop-color="#8d00ff"/></linearGradient><linearGradient id="g214" gradientUnits="userSpaceOnUse" x1="209.0" y1="0" x2="248.8" y2="0"><stop offset="0.000" stop-color="#004dff"/><stop offset="0.125" stop-color="#2a48ff"/><stop offset="0.250" stop-color="#4342ff"/><stop offset="0.375" stop-color="#553cff"/><stop offset="0.500" stop-color="#6335ff"/><stop offset="0.625" stop-color="#6e2dff"/><stop offset="0.750" stop-color="#7923ff"/><stop offset="0.875" stop-color="#8314ff"/><stop offset="1.000" stop-color="#8b00ff"/></linearGradient><linearGradient id="g215" gradientUnits="userSpaceOnUse" x1="209.1" y1="0" x2="248.0" y2="0"><stop offset="0.000" stop-color="#004cff"/><stop offset="0.125" stop-color="#2947ff"/><stop offset="0.250" stop-color="#4241ff"/><stop offset="0.375" stop-color="#533bff"/><stop offset="0.500" stop-color="#6134ff"/><stop offset="0.625" stop-color="#6d2cff"/><stop offset="0.750" stop-color="#7722ff"/><stop offset="0.875" stop-color="#8113ff"/><stop offset="1.000" stop-color="#8a00ff"/></linearGradient><linearGradient id="g216" gradientUnits="userSpaceOnUse" x1="209.2" y1="0" x2="247.3" y2="0"><stop offset="0.000" stop-color="#004aff"/><stop offset="0.125" stop-color="#2846ff"/><stop offset="0.250" stop-color="#4140ff"/><stop offset="0.375" stop-color="#523aff"/><stop offset="0.500" stop-color="#6033ff"/><stop offset="0.625" stop-color="#6c2bff"/><stop offset="0.750" stop-color="#7621ff"/><stop offset="0.875" stop-color="#7f13ff"/><stop offset="1.000" stop-color="#8800ff"/></linearGradient><linearGradient id="g217" gradientUnits="userSpaceOnUse" x1="209.3" y1="0" x2="246.5" y2="0"><stop offset="0.000" stop-color="#0049ff"/><stop offset="0.143" stop-color="#2c44ff"/><stop offset="0.286" stop-color="#453eff"/><stop offset="0.429" stop-color="#5737ff"/><stop offset="0.571" stop-color="#652eff"/><stop offset="0.714" stop-color="#7124ff"/><stop offset="0.857" stop-color="#7c15ff"/><stop offset="1.000" stop-color="#8600ff"/></linearGradient><linearGradient id="g218" gradientUnits="userSpaceOnUse" x1="209.5" y1="0" x2="245.8" y2="0"><stop offset="0.000" stop-color="#0048ff"/><stop offset="0.143" stop-color="#2b43ff"/><stop offset="0.286" stop-color="#443dff"/><stop offset="0.429" stop-color="#5636ff"/><stop offset="0.571" stop-color="#642dff"/><stop offset="0.714" stop-color="#7023ff"/><stop offset="0.857" stop-color="#7a14ff"/><stop offset="1.000" stop-color="#8400ff"/></linearGradient><linearGradient id="g219" gradientUnits="userSpaceOnUse" x1="209.6" y1="0" x2="245.0" y2="0"><stop offset="0.000" stop-color="#0047ff"/><stop offset="0.143" stop-color="#2a42ff"/><stop offset="0.286" stop-color="#433cff"/><stop offset="0.429" stop-color="#5435ff"/><stop offset="0.571" stop-color="#622dff"/><stop offset="0.714" stop-color="#6e22ff"/><stop offset="0.857" stop-color="#7914ff"/><stop offset="1.000" stop-color="#8200ff"/></linearGradient><linearGradient id="g220" gradientUnits="userSpaceOnUse" x1="209.7" y1="0" x2="244.3" y2="0"><stop offset="0.000" stop-color="#0046ff"/><stop offset="0.143" stop-color="#2941ff"/><stop offset="0.286" stop-color="#423bff"/><stop offset="0.429" stop-color="#5334ff"/><stop offset="0.571" stop-color="#612cff"/><stop offset="0.714" stop-color="#6d22ff"/><stop offset="0.857" stop-color="#7713ff"/><stop offset="1.000" stop-color="#8000ff"/></linearGradient><linearGradient id="g221" gradientUnits="userSpaceOnUse" x1="209.8" y1="0" x2="243.5" y2="0"><stop offset="0.000" stop-color="#0045ff"/><stop offset="0.143" stop-color="#2840ff"/><stop offset="0.286" stop-color="#413aff"/><stop offset="0.429" stop-color="#5233ff"/><stop offset="0.571" stop-color="#5f2bff"/><stop offset="0.714" stop-color="#6b21ff"/><stop offset="0.857" stop-color="#7512ff"/><stop offset="1.000" stop-color="#7f00ff"/></linearGradient><linearGradient id="g222" gradientUnits="userSpaceOnUse" x1="210.0" y1="0" x2="242.8" y2="0"><stop offset="0.000" stop-color="#0044ff"/><stop offset="0.143" stop-color="#273fff"/><stop offset="0.286" stop-color="#4039ff"/><stop offset="0.429" stop-color="#5032ff"/><stop offset="0.571" stop-color="#5e2aff"/><stop offset="0.714" stop-color="#6920ff"/><stop offset="0.857" stop-color="#7312ff"/><stop offset="1.000" stop-color="#7d00ff"/></linearGradient><linearGradient id="g223" gradientUnits="userSpaceOnUse" x1="210.1" y1="0" x2="242.0" y2="0"><stop offset="0.000" stop-color="#0043ff"/><stop offset="0.167" stop-color="#2b3dff"/><stop offset="0.333" stop-color="#4436ff"/><stop offset="0.500" stop-color="#562eff"/><stop offset="0.667" stop-color="#6423ff"/><stop offset="0.833" stop-color="#7014ff"/><stop offset="1.000" stop-color="#7b00ff"/></linearGradient><linearGradient id="g224" gradientUnits="userSpaceOnUse" x1="210.2" y1="0" x2="241.2" y2="0"><stop offset="0.000" stop-color="#0042ff"/><stop offset="0.167" stop-color="#2a3cff"/><stop offset="0.333" stop-color="#4335ff"/><stop offset="0.500" stop-color="#542dff"/><stop offset="0.667" stop-color="#6222ff"/><stop offset="0.833" stop-color="#6e14ff"/><stop offset="1.000" stop-color="#7900ff"/></linearGradient><linearGradient id="g225" gradientUnits="userSpaceOnUse" x1="210.3" y1="0" x2="240.5" y2="0"><stop offset="0.000" stop-color="#0041ff"/><stop offset="0.167" stop-color="#293bff"/><stop offset="0.333" stop-color="#4234ff"/><stop offset="0.500" stop-color="#532cff"/><stop offset="0.667" stop-color="#6122ff"/><stop offset="0.833" stop-color="#6c13ff"/><stop offset="1.000" stop-color="#7700ff"/></linearGradient><linearGradient id="g226" gradientUnits="userSpaceOnUse" x1="210.5" y1="0" x2="239.7" y2="0"><stop offset="0.000" stop-color="#003fff"/><stop offset="0.167" stop-color="#2839ff"/><stop offset="0.333" stop-color="#4133ff"/><stop offset="0.500" stop-color="#512bff"/><stop offset="0.667" stop-color="#5f21ff"/><stop offset="0.833" stop-color="#6b12ff"/><stop offset="1.000" stop-color="#7500ff"/></linearGradient><linearGradient id="g227" gradientUnits="userSpaceOnUse" x1="210.6" y1="0" x2="239.0" y2="0"><stop offset="0.000" stop-color="#003eff"/><stop offset="0.167" stop-color="#2738ff"/><stop offset="0.333" stop-color="#3f32ff"/><stop offset="0.500" stop-color="#502aff"/><stop offset="0.667" stop-color="#5d20ff"/><stop offset="0.833" stop-color="#6912ff"/><stop offset="1.000" stop-color="#7300ff"/></linearGradient><linearGradient id="g228" gradientUnits="userSpaceOnUse" x1="210.7" y1="0" x2="238.2" y2="0"><stop offset="0.000" stop-color="#003dff"/><stop offset="0.167" stop-color="#2637ff"/><stop offset="0.333" stop-color="#3e31ff"/><stop offset="0.500" stop-color="#4e29ff"/><stop offset="0.667" stop-color="#5c1fff"/><stop offset="0.833" stop-color="#6711ff"/><stop offset="1.000" stop-color="#7100ff"/></linearGradient><linearGradient id="g229" gradientUnits="userSpaceOnUse" x1="210.8" y1="0" x2="237.5" y2="0"><stop offset="0.000" stop-color="#003cff"/><stop offset="0.200" stop-color="#2b35ff"/><stop offset="0.400" stop-color="#442dff"/><stop offset="0.600" stop-color="#5523ff"/><stop offset="0.800" stop-color="#6314ff"/><stop offset="1.000" stop-color="#6f00ff"/></linearGradient><linearGradient id="g230" gradientUnits="userSpaceOnUse" x1="211.0" y1="0" x2="236.7" y2="0"><stop offset="0.000" stop-color="#003bff"/><stop offset="0.200" stop-color="#2934ff"/><stop offset="0.400" stop-color="#422cff"/><stop offset="0.600" stop-color="#5322ff"/><stop offset="0.800" stop-color="#6113ff"/><stop offset="1.000" stop-color="#6d00ff"/></linearGradient><linearGradient id="g231" gradientUnits="userSpaceOnUse" x1="211.1" y1="0" x2="236.0" y2="0"><stop offset="0.000" stop-color="#0039ff"/><stop offset="0.200" stop-color="#2833ff"/><stop offset="0.400" stop-color="#412bff"/><stop offset="0.600" stop-color="#5121ff"/><stop offset="0.800" stop-color="#5f12ff"/><stop offset="1.000" stop-color="#6a00ff"/></linearGradient><linearGradient id="g232" gradientUnits="userSpaceOnUse" x1="211.2" y1="0" x2="235.2" y2="0"><stop offset="0.000" stop-color="#0038ff"/><stop offset="0.200" stop-color="#2732ff"/><stop offset="0.400" stop-color="#3f2aff"/><stop offset="0.600" stop-color="#5020ff"/><stop offset="0.800" stop-color="#5d12ff"/><stop offset="1.000" stop-color="#6800ff"/></linearGradient><linearGradient id="g233" gradientUnits="userSpaceOnUse" x1="211.3" y1="0" x2="234.4" y2="0"><stop offset="0.000" stop-color="#0037ff"/><stop offset="0.200" stop-color="#2630ff"/><stop offset="0.400" stop-color="#3d29ff"/><stop offset="0.600" stop-color="#4e1fff"/><stop offset="0.800" stop-color="#5b11ff"/><stop offset="1.000" stop-color="#6600ff"/></linearGradient><linearGradient id="g234" gradientUnits="userSpaceOnUse" x1="211.5" y1="0" x2="233.7" y2="0"><stop offset="0.000" stop-color="#0036ff"/><stop offset="0.250" stop-color="#2c2dff"/><stop offset="0.500" stop-color="#4423ff"/><stop offset="0.750" stop-color="#5614ff"/><stop offset="1.000" stop-color="#6400ff"/></linearGradient><linearGradient id="g235" gradientUnits="userSpaceOnUse" x1="211.6" y1="0" x2="232.9" y2="0"><stop offset="0.000" stop-color="#0034ff"/><stop offset="0.250" stop-color="#2a2cff"/><stop offset="0.500" stop-color="#4322ff"/><stop offset="0.750" stop-color="#5413ff"/><stop offset="1.000" stop-color="#6200ff"/></linearGradient><linearGradient id="g236" gradientUnits="userSpaceOnUse" x1="211.7" y1="0" x2="232.2" y2="0"><stop offset="0.000" stop-color="#0033ff"/><stop offset="0.250" stop-color="#292bff"/><stop offset="0.500" stop-color="#4121ff"/><stop offset="0.750" stop-color="#5213ff"/><stop offset="1.000" stop-color="#5f00ff"/></linearGradient><linearGradient id="g237" gradientUnits="userSpaceOnUse" x1="211.8" y1="0" x2="231.4" y2="0"><stop offset="0.000" stop-color="#0031ff"/><stop offset="0.250" stop-color="#272aff"/><stop offset="0.500" stop-color="#3f20ff"/><stop offset="0.750" stop-color="#5012ff"/><stop offset="1.000" stop-color="#5d00ff"/></linearGradient><linearGradient id="g238" gradientUnits="userSpaceOnUse" x1="212.0" y1="0" x2="230.7" y2="0"><stop offset="0.000" stop-color="#0030ff"/><stop offset="0.250" stop-color="#2628ff"/><stop offset="0.500" stop-color="#3d1fff"/><stop offset="0.750" stop-color="#4e11ff"/><stop offset="1.000" stop-color="#5b00ff"/></linearGradient><linearGradient id="g239" gradientUnits="userSpaceOnUse" x1="212.1" y1="0" x2="229.9" y2="0"><stop offset="0.000" stop-color="#002fff"/><stop offset="0.250" stop-color="#2427ff"/><stop offset="0.500" stop-color="#3b1eff"/><stop offset="0.750" stop-color="#4b10ff"/><stop offset="1.000" stop-color="#5800ff"/></linearGradient><linearGradient id="g240" gradientUnits="userSpaceOnUse" x1="212.2" y1="0" x2="229.2" y2="0"><stop offset="0.000" stop-color="#002dff"/><stop offset="0.333" stop-color="#2b23ff"/><stop offset="0.667" stop-color="#4414ff"/><stop offset="1.000" stop-color="#5600ff"/></linearGradient><linearGradient id="g241" gradientUnits="userSpaceOnUse" x1="212.3" y1="0" x2="228.4" y2="0"><stop offset="0.000" stop-color="#002cff"/><stop offset="0.333" stop-color="#2a22ff"/><stop offset="0.667" stop-color="#4213ff"/><stop offset="1.000" stop-color="#5300ff"/></linearGradient><linearGradient id="g242" gradientUnits="userSpaceOnUse" x1="212.5" y1="0" x2="227.6" y2="0"><stop offset="0.000" stop-color="#002aff"/><stop offset="0.333" stop-color="#2820ff"/><stop offset="0.667" stop-color="#4012ff"/><stop offset="1.000" stop-color="#5000ff"/></linearGradient><linearGradient id="g243" gradientUnits="userSpaceOnUse" x1="212.6" y1="0" x2="226.9" y2="0"><stop offset="0.000" stop-color="#0028ff"/><stop offset="0.333" stop-color="#261fff"/><stop offset="0.667" stop-color="#3d11ff"/><stop offset="1.000" stop-color="#4e00ff"/></linearGradient><linearGradient id="g244" gradientUnits="userSpaceOnUse" x1="212.7" y1="0" x2="226.1" y2="0"><stop offset="0.000" stop-color="#0027ff"/><stop offset="0.333" stop-color="#241dff"/><stop offset="0.667" stop-color="#3b10ff"/><stop offset="1.000" stop-color="#4b00ff"/></linearGradient><linearGradient id="g245" gradientUnits="userSpaceOnUse" x1="212.8" y1="0" x2="225.4" y2="0"><stop offset="0.000" stop-color="#0025ff"/><stop offset="0.333" stop-color="#211cff"/><stop offset="0.667" stop-color="#380eff"/><stop offset="1.000" stop-color="#4800ff"/></linearGradient><linearGradient id="g246" gradientUnits="userSpaceOnUse" x1="213.0" y1="0" x2="224.6" y2="0"><stop offset="0.000" stop-color="#0023ff"/><stop offset="0.500" stop-color="#2c14ff"/><stop offset="1.000" stop-color="#4500ff"/></linearGradient><linearGradient id="g247" gradientUnits="userSpaceOnUse" x1="213.1" y1="0" x2="223.9" y2="0"><stop offset="0.000" stop-color="#0021ff"/><stop offset="0.500" stop-color="#2913ff"/><stop offset="1.000" stop-color="#4100ff"/></linearGradient><linearGradient id="g248" gradientUnits="userSpaceOnUse" x1="213.2" y1="0" x2="223.1" y2="0"><stop offset="0.000" stop-color="#001fff"/><stop offset="0.500" stop-color="#2611ff"/><stop offset="1.000" stop-color="#3e00ff"/></linearGradient><linearGradient id="g249" gradientUnits="userSpaceOnUse" x1="213.3" y1="0" x2="222.4" y2="0"><stop offset="0.000" stop-color="#001dff"/><stop offset="0.500" stop-color="#230fff"/><stop offset="1.000" stop-color="#3b00ff"/></linearGradient><linearGradient id="g250" gradientUnits="userSpaceOnUse" x1="213.5" y1="0" x2="221.6" y2="0"><stop offset="0.000" stop-color="#001bff"/><stop offset="0.500" stop-color="#200eff"/><stop offset="1.000" stop-color="#3700ff"/></linearGradient><linearGradient id="g251" gradientUnits="userSpaceOnUse" x1="213.6" y1="0" x2="220.9" y2="0"><stop offset="0.000" stop-color="#0018ff"/><stop offset="1.000" stop-color="#3300ff"/></linearGradient><linearGradient id="g252" gradientUnits="userSpaceOnUse" x1="213.7" y1="0" x2="220.1" y2="0"><stop offset="0.000" stop-color="#0016ff"/><stop offset="1.000" stop-color="#2e00ff"/></linearGradient><linearGradient id="g253" gradientUnits="userSpaceOnUse" x1="213.8" y1="0" x2="219.3" y2="0"><stop offset="0.000" stop-color="#0013ff"/><stop offset="1.000" stop-color="#2900ff"/></linearGradient><linearGradient id="g254" gradientUnits="userSpaceOnUse" x1="214.0" y1="0" x2="218.6" y2="0"><stop offset="0.000" stop-color="#0010ff"/><stop offset="1.000" stop-color="#2400ff"/></linearGradient><linearGradient id="g255" gradientUnits="userSpaceOnUse" x1="214.1" y1="0" x2="217.8" y2="0"><stop offset="0.000" stop-color="#000cff"/><stop offset="1.000" stop-color="#1d00ff"/></linearGradient><linearGradient id="g256" gradientUnits="userSpaceOnUse" x1="214.2" y1="0" x2="217.2" y2="0"><stop offset="0.000" stop-color="#0007ff"/><stop offset="1.000" stop-color="#1600ff"/></linearGradient><linearGradient id="g257" gradientUnits="userSpaceOnUse" x1="214.2" y1="0" x2="217.2" y2="0"><stop offset="0.000" stop-color="#0003ff"/><stop offset="1.000" stop-color="#1500ff"/></linearGradient></defs>
<g clip-path="url(#tri)"><rect x="182.3" y="110" width="3.1" height="1.6" fill="url(#g0)"/><rect x="182.4" y="111" width="5.1" height="1.6" fill="url(#g1)"/><rect x="182.5" y="112" width="13.2" height="1.6" fill="url(#g2)"/><rect x="182.6" y="113" width="21.3" height="1.6" fill="url(#g3)"/><rect x="182.7" y="114" width="29.4" height="1.6" fill="url(#g4)"/><rect x="182.9" y="115" width="37.5" height="1.6" fill="url(#g5)"/><rect x="183.0" y="116" width="45.6" height="1.6" fill="url(#g6)"/><rect x="183.1" y="117" width="53.7" height="1.6" fill="url(#g7)"/><rect x="183.2" y="118" width="61.9" height="1.6" fill="url(#g8)"/><rect x="183.4" y="119" width="70.0" height="1.6" fill="url(#g9)"/><rect x="183.5" y="120" width="78.1" height="1.6" fill="url(#g10)"/><rect x="183.6" y="121" width="86.2" height="1.6" fill="url(#g11)"/><rect x="183.7" y="122" width="94.3" height="1.6" fill="url(#g12)"/><rect x="183.9" y="123" width="102.4" height="1.6" fill="url(#g13)"/><rect x="184.0" y="124" width="110.5" height="1.6" fill="url(#g14)"/><rect x="184.1" y="125" width="118.6" height="1.6" fill="url(#g15)"/><rect x="184.2" y="126" width="126.7" height="1.6" fill="url(#g16)"/><rect x="184.4" y="127" width="134.8" height="1.6" fill="url(#g17)"/><rect x="184.5" y="128" width="143.0" height="1.6" fill="url(#g18)"/><rect x="184.6" y="129" width="151.1" height="1.6" fill="url(#g19)"/><rect x="184.7" y="130" width="159.2" height="1.6" fill="url(#g20)"/><rect x="184.9" y="131" width="167.3" height="1.6" fill="url(#g21)"/><rect x="185.0" y="132" width="175.4" height="1.6" fill="url(#g22)"/><rect x="185.1" y="133" width="183.5" height="1.6" fill="url(#g23)"/><rect x="185.2" y="134" width="191.6" height="1.6" fill="url(#g24)"/><rect x="185.4" y="135" width="199.7" height="1.6" fill="url(#g25)"/><rect x="185.5" y="136" width="205.3" height="1.6" fill="url(#g26)"/><rect x="185.6" y="137" width="204.4" height="1.6" fill="url(#g27)"/><rect x="185.7" y="138" width="203.6" height="1.6" fill="url(#g28)"/><rect x="185.9" y="139" width="202.7" height="1.6" fill="url(#g29)"/><rect x="186.0" y="140" width="201.8" height="1.6" fill="url(#g30)"/><rect x="186.1" y="141" width="200.9" height="1.6" fill="url(#g31)"/><rect x="186.2" y="142" width="200.0" height="1.6" fill="url(#g32)"/><rect x="186.4" y="143" width="199.2" height="1.6" fill="url(#g33)"/><rect x="186.5" y="144" width="198.3" height="1.6" fill="url(#g34)"/><rect x="186.6" y="145" width="197.4" height="1.6" fill="url(#g35)"/><rect x="186.7" y="146" width="196.5" height="1.6" fill="url(#g36)"/><rect x="186.9" y="147" width="195.6" height="1.6" fill="url(#g37)"/><rect x="187.0" y="148" width="194.8" height="1.6" fill="url(#g38)"/><rect x="187.1" y="149" width="193.9" height="1.6" fill="url(#g39)"/><rect x="187.2" y="150" width="193.0" height="1.6" fill="url(#g40)"/><rect x="187.4" y="151" width="192.1" height="1.6" fill="url(#g41)"/><rect x="187.5" y="152" width="191.2" height="1.6" fill="url(#g42)"/><rect x="187.6" y="153" width="190.4" height="1.6" fill="url(#g43)"/><rect x="187.7" y="154" width="189.5" height="1.6" fill="url(#g44)"/><rect x="187.9" y="155" width="188.6" height="1.6" fill="url(#g45)"/><rect x="188.0" y="156" width="187.7" height="1.6" fill="url(#g46)"/><rect x="188.1" y="157" width="186.8" height="1.6" fill="url(#g47)"/><rect x="188.2" y="158" width="186.0" height="1.6" fill="url(#g48)"/><rect x="188.4" y="159" width="185.1" height="1.6" fill="url(#g49)"/><rect x="188.5" y="160" width="184.2" height="1.6" fill="url(#g50)"/><rect x="188.6" y="161" width="183.3" height="1.6" fill="url(#g51)"/><rect x="188.7" y="162" width="182.4" height="1.6" fill="url(#g52)"/><rect x="188.9" y="163" width="181.6" height="1.6" fill="url(#g53)"/><rect x="189.0" y="164" width="180.7" height="1.6" fill="url(#g54)"/><rect x="189.1" y="165" width="179.8" height="1.6" fill="url(#g55)"/><rect x="189.2" y="166" width="178.9" height="1.6" fill="url(#g56)"/><rect x="189.4" y="167" width="178.0" height="1.6" fill="url(#g57)"/><rect x="189.5" y="168" width="177.1" height="1.6" fill="url(#g58)"/><rect x="189.6" y="169" width="176.3" height="1.6" fill="url(#g59)"/><rect x="189.7" y="170" width="175.4" height="1.6" fill="url(#g60)"/><rect x="189.9" y="171" width="174.5" height="1.6" fill="url(#g61)"/><rect x="190.0" y="172" width="173.6" height="1.6" fill="url(#g62)"/><rect x="190.1" y="173" width="172.7" height="1.6" fill="url(#g63)"/><rect x="190.2" y="174" width="171.9" height="1.6" fill="url(#g64)"/><rect x="190.4" y="175" width="171.0" height="1.6" fill="url(#g65)"/><rect x="190.5" y="176" width="170.1" height="1.6" fill="url(#g66)"/><rect x="190.6" y="177" width="169.2" height="1.6" fill="url(#g67)"/><rect x="190.7" y="178" width="168.3" height="1.6" fill="url(#g68)"/><rect x="190.9" y="179" width="167.5" height="1.6" fill="url(#g69)"/><rect x="191.0" y="180" width="166.6" height="1.6" fill="url(#g70)"/><rect x="191.1" y="181" width="165.7" height="1.6" fill="url(#g71)"/><rect x="191.2" y="182" width="164.8" height="1.6" fill="url(#g72)"/><rect x="191.4" y="183" width="163.9" height="1.6" fill="url(#g73)"/><rect x="191.5" y="184" width="163.1" height="1.6" fill="url(#g74)"/><rect x="191.6" y="185" width="162.2" height="1.6" fill="url(#g75)"/><rect x="191.7" y="186" width="161.3" height="1.6" fill="url(#g76)"/><rect x="191.9" y="187" width="160.4" height="1.6" fill="url(#g77)"/><rect x="192.0" y="188" width="159.5" height="1.6" fill="url(#g78)"/><rect x="192.1" y="189" width="158.7" height="1.6" fill="url(#g79)"/><rect x="192.2" y="190" width="157.8" height="1.6" fill="url(#g80)"/><rect x="192.4" y="191" width="156.9" height="1.6" fill="url(#g81)"/><rect x="192.5" y="192" width="156.0" height="1.6" fill="url(#g82)"/><rect x="192.6" y="193" width="155.1" height="1.6" fill="url(#g83)"/><rect x="192.7" y="194" width="154.3" height="1.6" fill="url(#g84)"/><rect x="192.9" y="195" width="153.4" height="1.6" fill="url(#g85)"/><rect x="193.0" y="196" width="152.5" height="1.6" fill="url(#g86)"/><rect x="193.1" y="197" width="151.6" height="1.6" fill="url(#g87)"/><rect x="193.2" y="198" width="150.7" height="1.6" fill="url(#g88)"/><rect x="193.4" y="199" width="149.9" height="1.6" fill="url(#g89)"/><rect x="193.5" y="200" width="149.0" height="1.6" fill="url(#g90)"/><rect x="193.6" y="201" width="148.1" height="1.6" fill="url(#g91)"/><rect x="193.7" y="202" width="147.2" height="1.6" fill="url(#g92)"/><rect x="193.9" y="203" width="146.3" height="1.6" fill="url(#g93)"/><rect x="194.0" y="204" width="145.5" height="1.6" fill="url(#g94)"/><rect x="194.1" y="205" width="144.6" height="1.6" fill="url(#g95)"/><rect x="194.2" y="206" width="143.7" height="1.6" fill="url(#g96)"/><rect x="194.4" y="207" width="142.8" height="1.6" fill="url(#g97)"/><rect x="194.5" y="208" width="141.9" height="1.6" fill="url(#g98)"/><rect x="194.6" y="209" width="141.1" height="1.6" fill="url(#g99)"/><rect x="194.7" y="210" width="140.2" height="1.6" fill="url(#g100)"/><rect x="194.9" y="211" width="139.3" height="1.6" fill="url(#g101)"/><rect x="195.0" y="212" width="138.4" height="1.6" fill="url(#g102)"/><rect x="195.1" y="213" width="137.5" height="1.6" fill="url(#g103)"/><rect x="195.2" y="214" width="136.7" height="1.6" fill="url(#g104)"/><rect x="195.4" y="215" width="135.8" height="1.6" fill="url(#g105)"/><rect x="195.5" y="216" width="134.9" height="1.6" fill="url(#g106)"/><rect x="195.6" y="217" width="134.0" height="1.6" fill="url(#g107)"/><rect x="195.7" y="218" width="133.1" height="1.6" fill="url(#g108)"/><rect x="195.9" y="219" width="132.3" height="1.6" fill="url(#g109)"/><rect x="196.0" y="220" width="131.4" height="1.6" fill="url(#g110)"/><rect x="196.1" y="221" width="130.5" height="1.6" fill="url(#g111)"/><rect x="196.2" y="222" width="129.6" height="1.6" fill="url(#g112)"/><rect x="196.4" y="223" width="128.7" height="1.6" fill="url(#g113)"/><rect x="196.5" y="224" width="127.9" height="1.6" fill="url(#g114)"/><rect x="196.6" y="225" width="127.0" height="1.6" fill="url(#g115)"/><rect x="196.7" y="226" width="126.1" height="1.6" fill="url(#g116)"/><rect x="196.9" y="227" width="125.2" height="1.6" fill="url(#g117)"/><rect x="197.0" y="228" width="124.3" height="1.6" fill="url(#g118)"/><rect x="197.1" y="229" width="123.5" height="1.6" fill="url(#g119)"/><rect x="197.2" y="230" width="122.6" height="1.6" fill="url(#g120)"/><rect x="197.4" y="231" width="121.7" height="1.6" fill="url(#g121)"/><rect x="197.5" y="232" width="120.8" height="1.6" fill="url(#g122)"/><rect x="197.6" y="233" width="119.9" height="1.6" fill="url(#g123)"/><rect x="197.7" y="234" width="119.1" height="1.6" fill="url(#g124)"/><rect x="197.9" y="235" width="118.2" height="1.6" fill="url(#g125)"/><rect x="198.0" y="236" width="117.3" height="1.6" fill="url(#g126)"/><rect x="198.1" y="237" width="116.4" height="1.6" fill="url(#g127)"/><rect x="198.2" y="238" width="115.5" height="1.6" fill="url(#g128)"/><rect x="198.4" y="239" width="114.7" height="1.6" fill="url(#g129)"/><rect x="198.5" y="240" width="113.8" height="1.6" fill="url(#g130)"/><rect x="198.6" y="241" width="112.9" height="1.6" fill="url(#g131)"/><rect x="198.7" y="242" width="112.0" height="1.6" fill="url(#g132)"/><rect x="198.9" y="243" width="111.1" height="1.6" fill="url(#g133)"/><rect x="199.0" y="244" width="110.3" height="1.6" fill="url(#g134)"/><rect x="199.1" y="245" width="109.4" height="1.6" fill="url(#g135)"/><rect x="199.2" y="246" width="108.5" height="1.6" fill="url(#g136)"/><rect x="199.4" y="247" width="107.6" height="1.6" fill="url(#g137)"/><rect x="199.5" y="248" width="106.7" height="1.6" fill="url(#g138)"/><rect x="199.6" y="249" width="105.9" height="1.6" fill="url(#g139)"/><rect x="199.7" y="250" width="105.0" height="1.6" fill="url(#g140)"/><rect x="199.8" y="251" width="104.1" height="1.6" fill="url(#g141)"/><rect x="200.0" y="252" width="103.2" height="1.6" fill="url(#g142)"/><rect x="200.1" y="253" width="102.3" height="1.6" fill="url(#g143)"/><rect x="200.2" y="254" width="101.5" height="1.6" fill="url(#g144)"/><rect x="200.3" y="255" width="100.6" height="1.6" fill="url(#g145)"/><rect x="200.5" y="256" width="99.7" height="1.6" fill="url(#g146)"/><rect x="200.6" y="257" width="98.8" height="1.6" fill="url(#g147)"/><rect x="200.7" y="258" width="97.9" height="1.6" fill="url(#g148)"/><rect x="200.8" y="259" width="97.0" height="1.6" fill="url(#g149)"/><rect x="201.0" y="260" width="96.2" height="1.6" fill="url(#g150)"/><rect x="201.1" y="261" width="95.3" height="1.6" fill="url(#g151)"/><rect x="201.2" y="262" width="94.4" height="1.6" fill="url(#g152)"/><rect x="201.3" y="263" width="93.5" height="1.6" fill="url(#g153)"/><rect x="201.5" y="264" width="92.6" height="1.6" fill="url(#g154)"/><rect x="201.6" y="265" width="91.8" height="1.6" fill="url(#g155)"/><rect x="201.7" y="266" width="90.9" height="1.6" fill="url(#g156)"/><rect x="201.8" y="267" width="90.0" height="1.6" fill="url(#g157)"/><rect x="202.0" y="268" width="89.1" height="1.6" fill="url(#g158)"/><rect x="202.1" y="269" width="88.2" height="1.6" fill="url(#g159)"/><rect x="202.2" y="270" width="87.4" height="1.6" fill="url(#g160)"/><rect x="202.3" y="271" width="86.5" height="1.6" fill="url(#g161)"/><rect x="202.5" y="272" width="85.6" height="1.6" fill="url(#g162)"/><rect x="202.6" y="273" width="84.7" height="1.6" fill="url(#g163)"/><rect x="202.7" y="274" width="83.8" height="1.6" fill="url(#g164)"/><rect x="202.8" y="275" width="83.0" height="1.6" fill="url(#g165)"/><rect x="203.0" y="276" width="82.1" height="1.6" fill="url(#g166)"/><rect x="203.1" y="277" width="81.2" height="1.6" fill="url(#g167)"/><rect x="203.2" y="278" width="80.3" height="1.6" fill="url(#g168)"/><rect x="203.3" y="279" width="79.4" height="1.6" fill="url(#g169)"/><rect x="203.5" y="280" width="78.6" height="1.6" fill="url(#g170)"/><rect x="203.6" y="281" width="77.7" height="1.6" fill="url(#g171)"/><rect x="203.7" y="282" width="76.8" height="1.6" fill="url(#g172)"/><rect x="203.8" y="283" width="75.9" height="1.6" fill="url(#g173)"/><rect x="204.0" y="284" width="75.0" height="1.6" fill="url(#g174)"/><rect x="204.1" y="285" width="74.2" height="1.6" fill="url(#g175)"/><rect x="204.2" y="286" width="73.3" height="1.6" fill="url(#g176)"/><rect x="204.3" y="287" width="72.4" height="1.6" fill="url(#g177)"/><rect x="204.5" y="288" width="71.5" height="1.6" fill="url(#g178)"/><rect x="204.6" y="289" width="70.6" height="1.6" fill="url(#g179)"/><rect x="204.7" y="290" width="69.8" height="1.6" fill="url(#g180)"/><rect x="204.8" y="291" width="68.9" height="1.6" fill="url(#g181)"/><rect x="205.0" y="292" width="68.0" height="1.6" fill="url(#g182)"/><rect x="205.1" y="293" width="67.1" height="1.6" fill="url(#g183)"/><rect x="205.2" y="294" width="66.2" height="1.6" fill="url(#g184)"/><rect x="205.3" y="295" width="65.4" height="1.6" fill="url(#g185)"/><rect x="205.5" y="296" width="64.5" height="1.6" fill="url(#g186)"/><rect x="205.6" y="297" width="63.6" height="1.6" fill="url(#g187)"/><rect x="205.7" y="298" width="62.7" height="1.6" fill="url(#g188)"/><rect x="205.8" y="299" width="61.8" height="1.6" fill="url(#g189)"/><rect x="206.0" y="300" width="61.0" height="1.6" fill="url(#g190)"/><rect x="206.1" y="301" width="60.1" height="1.6" fill="url(#g191)"/><rect x="206.2" y="302" width="59.2" height="1.6" fill="url(#g192)"/><rect x="206.3" y="303" width="58.3" height="1.6" fill="url(#g193)"/><rect x="206.5" y="304" width="57.4" height="1.6" fill="url(#g194)"/><rect x="206.6" y="305" width="56.6" height="1.6" fill="url(#g195)"/><rect x="206.7" y="306" width="55.7" height="1.6" fill="url(#g196)"/><rect x="206.8" y="307" width="54.8" height="1.6" fill="url(#g197)"/><rect x="207.0" y="308" width="53.9" height="1.6" fill="url(#g198)"/><rect x="207.1" y="309" width="53.0" height="1.6" fill="url(#g199)"/><rect x="207.2" y="310" width="52.2" height="1.6" fill="url(#g200)"/><rect x="207.3" y="311" width="51.3" height="1.6" fill="url(#g201)"/><rect x="207.5" y="312" width="50.4" height="1.6" fill="url(#g202)"/><rect x="207.6" y="313" width="49.5" height="1.6" fill="url(#g203)"/><rect x="207.7" y="314" width="48.6" height="1.6" fill="url(#g204)"/><rect x="207.8" y="315" width="47.8" height="1.6" fill="url(#g205)"/><rect x="208.0" y="316" width="46.9" height="1.6" fill="url(#g206)"/><rect x="208.1" y="317" width="46.0" height="1.6" fill="url(#g207)"/><rect x="208.2" y="318" width="45.1" height="1.6" fill="url(#g208)"/><rect x="208.3" y="319" width="44.2" height="1.6" fill="url(#g209)"/><rect x="208.5" y="320" width="43.4" height="1.6" fill="url(#g210)"/><rect x="208.6" y="321" width="42.5" height="1.6" fill="url(#g211)"/><rect x="208.7" y="322" width="41.6" height="1.6" fill="url(#g212)"/><rect x="208.8" y="323" width="40.7" height="1.6" fill="url(#g213)"/><rect x="209.0" y="324" width="39.8" height="1.6" fill="url(#g214)"/><rect x="209.1" y="325" width="39.0" height="1.6" fill="url(#g215)"/><rect x="209.2" y="326" width="38.1" height="1.6" fill="url(#g216)"/><rect x="209.3" y="327" width="37.2" height="1.6" fill="url(#g217)"/><rect x="209.5" y="328" width="36.3" height="1.6" fill="url(#g218)"/><rect x="209.6" y="329" width="35.4" height="1.6" fill="url(#g219)"/><rect x="209.7" y="330" width="34.6" height="1.6" fill="url(#g220)"/><rect x="209.8" y="331" width="33.7" height="1.6" fill="url(#g221)"/><rect x="210.0" y="332" width="32.8" height="1.6" fill="url(#g222)"/><rect x="210.1" y="333" width="31.9" height="1.6" fill="url(#g223)"/><rect x="210.2" y="334" width="31.0" height="1.6" fill="url(#g224)"/><rect x="210.3" y="335" width="30.2" height="1.6" fill="url(#g225)"/><rect x="210.5" y="336" width="29.3" height="1.6" fill="url(#g226)"/><rect x="210.6" y="337" width="28.4" height="1.6" fill="url(#g227)"/><rect x="210.7" y="338" width="27.5" height="1.6" fill="url(#g228)"/><rect x="210.8" y="339" width="26.6" height="1.6" fill="url(#g229)"/><rect x="211.0" y="340" width="25.8" height="1.6" fill="url(#g230)"/><rect x="211.1" y="341" width="24.9" height="1.6" fill="url(#g231)"/><rect x="211.2" y="342" width="24.0" height="1.6" fill="url(#g232)"/><rect x="211.3" y="343" width="23.1" height="1.6" fill="url(#g233)"/><rect x="211.5" y="344" width="22.2" height="1.6" fill="url(#g234)"/><rect x="211.6" y="345" width="21.4" height="1.6" fill="url(#g235)"/><rect x="211.7" y="346" width="20.5" height="1.6" fill="url(#g236)"/><rect x="211.8" y="347" width="19.6" height="1.6" fill="url(#g237)"/><rect x="212.0" y="348" width="18.7" height="1.6" fill="url(#g238)"/><rect x="212.1" y="349" width="17.8" height="1.6" fill="url(#g239)"/><rect x="212.2" y="350" width="16.9" height="1.6" fill="url(#g240)"/><rect x="212.3" y="351" width="16.1" height="1.6" fill="url(#g241)"/><rect x="212.5" y="352" width="15.2" height="1.6" fill="url(#g242)"/><rect x="212.6" y="353" width="14.3" height="1.6" fill="url(#g243)"/><rect x="212.7" y="354" width="13.4" height="1.6" fill="url(#g244)"/><rect x="212.8" y="355" width="12.5" height="1.6" fill="url(#g245)"/><rect x="213.0" y="356" width="11.7" height="1.6" fill="url(#g246)"/><rect x="213.1" y="357" width="10.8" height="1.6" fill="url(#g247)"/><rect x="213.2" y="358" width="9.9" height="1.6" fill="url(#g248)"/><rect x="213.3" y="359" width="9.0" height="1.6" fill="url(#g249)"/><rect x="213.5" y="360" width="8.1" height="1.6" fill="url(#g250)"/><rect x="213.6" y="361" width="7.3" height="1.6" fill="url(#g251)"/><rect x="213.7" y="362" width="6.4" height="1.6" fill="url(#g252)"/><rect x="213.8" y="363" width="5.5" height="1.6" fill="url(#g253)"/><rect x="214.0" y="364" width="4.6" height="1.6" fill="url(#g254)"/><rect x="214.1" y="365" width="3.7" height="1.6" fill="url(#g255)"/><rect x="214.2" y="366" width="3.0" height="1.6" fill="url(#g256)"/><rect x="214.2" y="367" width="3.0" height="1.6" fill="url(#g257)"/></g>
<path d="M267.5,454.8C267.4,454.9 267.3,455.0 267.2,455.0C267.1,455.1 267.0,455.2 266.8,455.3C266.6,455.3 266.4,455.4 266.0,455.3C265.7,455.2 265.5,455.4 264.6,454.7C263.7,454.0 262.6,452.9 260.7,451.0C258.9,449.1 256.7,446.6 253.5,443.2C250.3,439.8 246.7,436.1 241.7,430.7C236.8,425.2 231.4,420.5 223.8,410.4C216.3,400.3 207.3,389.4 196.3,370.1C185.2,350.8 169.8,321.9 157.6,294.5C145.4,267.1 131.4,231.2 123.1,205.7C114.7,180.3 110.0,157.8 107.5,141.8C105.0,125.8 106.2,117.2 108.2,109.8C110.3,102.4 115.1,99.7 119.9,97.3C124.7,94.9 131.0,95.6 136.9,95.4C142.8,95.1 148.7,95.6 155.3,96.1C161.9,96.6 168.7,97.4 176.5,98.3C184.2,99.3 192.5,100.4 202.0,101.8C211.4,103.1 221.7,104.6 233.2,106.3C244.7,108.0 257.4,109.9 271.0,111.9C284.5,114.0 299.8,116.2 314.7,118.5C329.5,120.7 345.6,123.1 360.1,125.2C374.6,127.4 389.3,129.6 401.6,131.4C413.9,133.2 424.7,134.9 433.8,136.2C443.0,137.6 450.1,138.7 456.7,139.7C463.3,140.6 468.9,141.5 473.5,142.2C478.1,142.9 481.6,143.4 484.5,143.8C487.4,144.2 489.0,144.5 491.1,144.8C493.1,145.1 495.4,145.4 496.8,145.6C498.1,145.8 498.6,145.9 499.0,146.0Z" fill="none" stroke="#fff" stroke-width="1.5" stroke-linejoin="round"/>
<path d="M229.8,170.6L183.8,111.2M229.8,170.6L233.7,117.3M229.8,170.6L311.3,126.8M229.8,170.6L389.5,136.2M229.8,170.6L343.8,197.4M229.8,170.6L297.5,258.0M229.8,170.6L257.0,311.9M229.8,170.6L215.7,366.3M229.8,170.6L203.7,272.9M229.8,170.6L192.3,178.7" stroke="#8c8c8c" stroke-opacity="0.9" stroke-width="1" fill="none" style="mix-blend-mode:luminosity"/>
<path d="M229.8,170.6L183.8,111.2M229.8,170.6L233.7,117.3M229.8,170.6L311.3,126.8M229.8,170.6L389.5,136.2M229.8,170.6L343.8,197.4M229.8,170.6L297.5,258.0M229.8,170.6L257.0,311.9M229.8,170.6L215.7,366.3M229.8,170.6L203.7,272.9M229.8,170.6L192.3,178.7" stroke="#999" stroke-opacity="0.3" stroke-width="1" fill="none"/>
<polygon points="269.8,162.0 218.3,155.8 226.3,219.5" fill="none" stroke="#000" stroke-opacity="0.72" stroke-width="0.9"/>
<polygon points="309.7,153.4 206.8,140.9 222.8,268.5" fill="none" stroke="#000" stroke-opacity="0.72" stroke-width="0.9"/>
<polygon points="349.6,144.8 195.3,126.1 219.2,317.4" fill="none" stroke="#000" stroke-opacity="0.72" stroke-width="0.9"/>
<polygon points="389.52,136.22 183.84,111.24 215.69,366.35" fill="none" stroke="#000" stroke-width="1.4" stroke-linejoin="round"/>
<circle cx="218.3" cy="155.8" r="2.1" fill="#999" fill-opacity="0.85" stroke="#2a2a2a" stroke-width="0.85"/>
<circle cx="230.8" cy="157.3" r="2.1" fill="#999" fill-opacity="0.85" stroke="#2a2a2a" stroke-width="0.85"/>
<circle cx="250.2" cy="159.7" r="2.1" fill="#999" fill-opacity="0.85" stroke="#2a2a2a" stroke-width="0.85"/>
<circle cx="269.8" cy="162.0" r="2.1" fill="#999" fill-opacity="0.85" stroke="#2a2a2a" stroke-width="0.85"/>
<circle cx="258.3" cy="177.3" r="2.1" fill="#999" fill-opacity="0.85" stroke="#2a2a2a" stroke-width="0.85"/>
<circle cx="246.8" cy="192.5" r="2.1" fill="#999" fill-opacity="0.85" stroke="#2a2a2a" stroke-width="0.85"/>
<circle cx="236.6" cy="205.9" r="2.1" fill="#999" fill-opacity="0.85" stroke="#2a2a2a" stroke-width="0.85"/>
<circle cx="226.3" cy="219.5" r="2.1" fill="#999" fill-opacity="0.85" stroke="#2a2a2a" stroke-width="0.85"/>
<circle cx="223.3" cy="196.2" r="2.1" fill="#999" fill-opacity="0.85" stroke="#2a2a2a" stroke-width="0.85"/>
<circle cx="220.4" cy="172.6" r="2.1" fill="#999" fill-opacity="0.85" stroke="#2a2a2a" stroke-width="0.85"/>
<circle cx="206.8" cy="140.9" r="2.1" fill="#999" fill-opacity="0.85" stroke="#2a2a2a" stroke-width="0.85"/>
<circle cx="231.8" cy="144.0" r="2.1" fill="#999" fill-opacity="0.85" stroke="#2a2a2a" stroke-width="0.85"/>
<circle cx="270.6" cy="148.7" r="2.1" fill="#999" fill-opacity="0.85" stroke="#2a2a2a" stroke-width="0.85"/>
<circle cx="309.7" cy="153.4" r="2.1" fill="#999" fill-opacity="0.85" stroke="#2a2a2a" stroke-width="0.85"/>
<circle cx="286.8" cy="184.0" r="2.1" fill="#999" fill-opacity="0.85" stroke="#2a2a2a" stroke-width="0.85"/>
<circle cx="263.7" cy="214.3" r="2.1" fill="#999" fill-opacity="0.85" stroke="#2a2a2a" stroke-width="0.85"/>
<circle cx="243.4" cy="241.3" r="2.1" fill="#999" fill-opacity="0.85" stroke="#2a2a2a" stroke-width="0.85"/>
<circle cx="222.8" cy="268.5" r="2.1" fill="#999" fill-opacity="0.85" stroke="#2a2a2a" stroke-width="0.85"/>
<circle cx="216.8" cy="221.8" r="2.1" fill="#999" fill-opacity="0.85" stroke="#2a2a2a" stroke-width="0.85"/>
<circle cx="211.0" cy="174.7" r="2.1" fill="#999" fill-opacity="0.85" stroke="#2a2a2a" stroke-width="0.85"/>
<circle cx="195.3" cy="126.1" r="2.1" fill="#999" fill-opacity="0.85" stroke="#2a2a2a" stroke-width="0.85"/>
<circle cx="232.7" cy="130.6" r="2.1" fill="#999" fill-opacity="0.85" stroke="#2a2a2a" stroke-width="0.85"/>
<circle cx="290.9" cy="137.8" r="2.1" fill="#999" fill-opacity="0.85" stroke="#2a2a2a" stroke-width="0.85"/>
<circle cx="349.6" cy="144.8" r="2.1" fill="#999" fill-opacity="0.85" stroke="#2a2a2a" stroke-width="0.85"/>
<circle cx="315.3" cy="190.7" r="2.1" fill="#999" fill-opacity="0.85" stroke="#2a2a2a" stroke-width="0.85"/>
<circle cx="280.6" cy="236.1" r="2.1" fill="#999" fill-opacity="0.85" stroke="#2a2a2a" stroke-width="0.85"/>
<circle cx="250.2" cy="276.6" r="2.1" fill="#999" fill-opacity="0.85" stroke="#2a2a2a" stroke-width="0.85"/>
<circle cx="219.2" cy="317.4" r="2.1" fill="#999" fill-opacity="0.85" stroke="#2a2a2a" stroke-width="0.85"/>
<circle cx="210.2" cy="247.3" r="2.1" fill="#999" fill-opacity="0.85" stroke="#2a2a2a" stroke-width="0.85"/>
<circle cx="201.7" cy="176.7" r="2.1" fill="#999" fill-opacity="0.85" stroke="#2a2a2a" stroke-width="0.85"/>
<circle cx="183.8" cy="111.2" r="2.5" fill="#000"/>
<circle cx="233.7" cy="117.3" r="2.5" fill="#000"/>
<circle cx="311.3" cy="126.8" r="2.5" fill="#000"/>
<circle cx="389.5" cy="136.2" r="2.5" fill="#000"/>
<circle cx="343.8" cy="197.4" r="2.5" fill="#000"/>
<circle cx="297.5" cy="258.0" r="2.5" fill="#000"/>
<circle cx="257.0" cy="311.9" r="2.5" fill="#000"/>
<circle cx="215.7" cy="366.3" r="2.5" fill="#000"/>
<circle cx="203.7" cy="272.9" r="2.5" fill="#000"/>
<circle cx="192.3" cy="178.7" r="2.5" fill="#000"/>
<circle cx="229.8" cy="170.6" r="2.3" fill="#fff" stroke="#333" stroke-width="0.9"/>
<g font-size="12.6" text-anchor="middle"><text x="323.3" y="41.7">CIE 1976 Uniform Chromaticity Diagram</text><text x="324.2" y="59.2">sRGB / Rec.709 Standard Color Gamut</text><text x="320" y="77">41 Reference Colors</text></g>
<g font-size="16.4"><text x="48.6" y="471.1" textLength="41.6" lengthAdjust="spacingAndGlyphs">0.000</text><text x="48.6" y="408.1" textLength="41.6" lengthAdjust="spacingAndGlyphs">0.100</text><text x="48.6" y="345.0" textLength="41.6" lengthAdjust="spacingAndGlyphs">0.200</text><text x="48.6" y="281.9" textLength="41.6" lengthAdjust="spacingAndGlyphs">0.300</text><text x="48.6" y="218.9" textLength="41.6" lengthAdjust="spacingAndGlyphs">0.400</text><text x="48.6" y="155.9" textLength="41.6" lengthAdjust="spacingAndGlyphs">0.500</text><text x="48.6" y="92.8" textLength="41.6" lengthAdjust="spacingAndGlyphs">0.600</text><text x="48.6" y="29.7" textLength="41.6" lengthAdjust="spacingAndGlyphs">0.700</text></g>
<g font-size="16.4"><text x="84.1" y="497" textLength="41.6" lengthAdjust="spacingAndGlyphs">0.000</text><text x="147.2" y="497" textLength="41.6" lengthAdjust="spacingAndGlyphs">0.100</text><text x="210.4" y="497" textLength="41.6" lengthAdjust="spacingAndGlyphs">0.200</text><text x="273.6" y="497" textLength="41.6" lengthAdjust="spacingAndGlyphs">0.300</text><text x="336.7" y="497" textLength="41.6" lengthAdjust="spacingAndGlyphs">0.400</text><text x="399.9" y="497" textLength="41.6" lengthAdjust="spacingAndGlyphs">0.500</text><text x="463.0" y="497" textLength="41.6" lengthAdjust="spacingAndGlyphs">0.600</text><text x="526.2" y="497" textLength="41.6" lengthAdjust="spacingAndGlyphs">0.700</text></g>
<text x="319.5" y="526" font-size="17" font-weight="bold">u'</text>
<text transform="translate(36.2,251.2) rotate(-90)" font-size="17" font-weight="bold">v'</text>
<g font-size="10"><text x="371" y="360.8">3 JNCD</text><text x="371" y="375.2">1 JNCD</text></g>
<path d="M408.8,357.3H414.6M414.6,354.3V360.3M422.6,354.3V360.3M422.6,357.3H428.40000000000003" stroke="#000" stroke-width="0.9" fill="none"/><path d="M414.6,357.3l-3.6,-2.5v5zM422.6,357.3l3.6,-2.5v5z" fill="#000"/>
<path d="M408.8,371.7H414.6M414.6,368.7V374.7M417.3,368.7V374.7M417.3,371.7H423.1" stroke="#000" stroke-width="0.9" fill="none"/><path d="M414.6,371.7l-3.6,-2.5v5zM417.3,371.7l3.6,-2.5v5z" fill="#000"/>
<circle cx="362" cy="390.7" r="3.6" fill="#fff" stroke="#333" stroke-width="0.9"/><circle cx="362" cy="415" r="3.6" fill="#8c8c8c" stroke="#444" stroke-width="0.9"/><circle cx="362" cy="437.6" r="3.8" fill="#000"/>
<g font-size="11"><text x="372" y="394.7">White Point</text><text x="372" y="418.5">25% 50% 75% Saturated Colors</text><text x="372" y="441.6">100% Saturated Colors</text></g>
<text x="452.3" y="537.3" font-size="10.9">© DisplayMate Technologies</text>
<g fill="none" stroke="#c9c9c9" stroke-width="1"><path d="M464,536.8A18,18 0 0 1 452.3,517" stroke="#ececec"/><path d="M479.7,497V504.5Q479.7,508 473.1,509.6L461.2,518.6"/><path d="M482.2,507.1A18,18 0 0 1 464,536.8" stroke="#b5b5b5"/><path d="M478.4,521.3L463.1,533.3"/><circle cx="459.6" cy="519.9" r="2.2" fill="#fff"/><circle cx="480" cy="519.9" r="2.2" fill="#fff"/></g>
<ellipse cx="470.5" cy="533.6" rx="8.5" ry="4" fill="#fff" fill-opacity="0.8"/>
<text x="492.5" y="520.8" font-size="19" font-style="italic" font-weight="bold" style="fill:#dedede" textLength="85.5" lengthAdjust="spacingAndGlyphs">电子发烧友</text>
<text x="492" y="531" font-size="6.5" font-weight="bold" style="fill:#e0e0e0" textLength="99" lengthAdjust="spacingAndGlyphs">www.elecfans.com</text>
<g transform="translate(506.8,26.45)" fill="#0a0a0a"><path fill-rule="evenodd" d="M0,-16.6A16.6,16.6 0 1 1 -0.01,-16.6ZM-0.9,-15.8A14.9,14.9 0 1 0 -0.89,-15.8Z"/><path d="M16,-4.3L12.1,-3.4 L10.4,-2.4 L10.8,-0.7 L10.1,0.6 L10.3,2.3 L8.8,4.2 L6.5,4.2 L5.8,5.5 L4.2,6.2 L2.2,6.8 L1.8,8.1 L0.9,8.5 L-1.1,9.1 L-1.5,10.1 L-2.4,10.4 L-4.1,10.2 L-5.7,10.8 L-7.0,11.8 L-9.0,11.4 L-10.3,11.1L-11.2,12.3A16.6,16.6 0 0 0 16,-4.3Z"/><path d="M-15.7,-11.4L9.3,-4.9L1.0,-2.0L0.6,1.6L-3.0,-2.0L-5.0,-0.1Z"/><path d="M2.3,-0.5L9.8,4.2L7.5,5.2L3.3,1.3Z"/></g>
<text x="526.5" y="28.4" font-size="19.5" font-weight="900" style="fill:#0a0a0a" textLength="64" lengthAdjust="spacingAndGlyphs">快科技</text>
<text x="526.8" y="43" font-size="15.3" font-weight="bold" style="fill:#0a0a0a;stroke:#0a0a0a;stroke-width:0.9" textLength="63" lengthAdjust="spacingAndGlyphs">KKJ.CN</text>
</svg></body></html>
